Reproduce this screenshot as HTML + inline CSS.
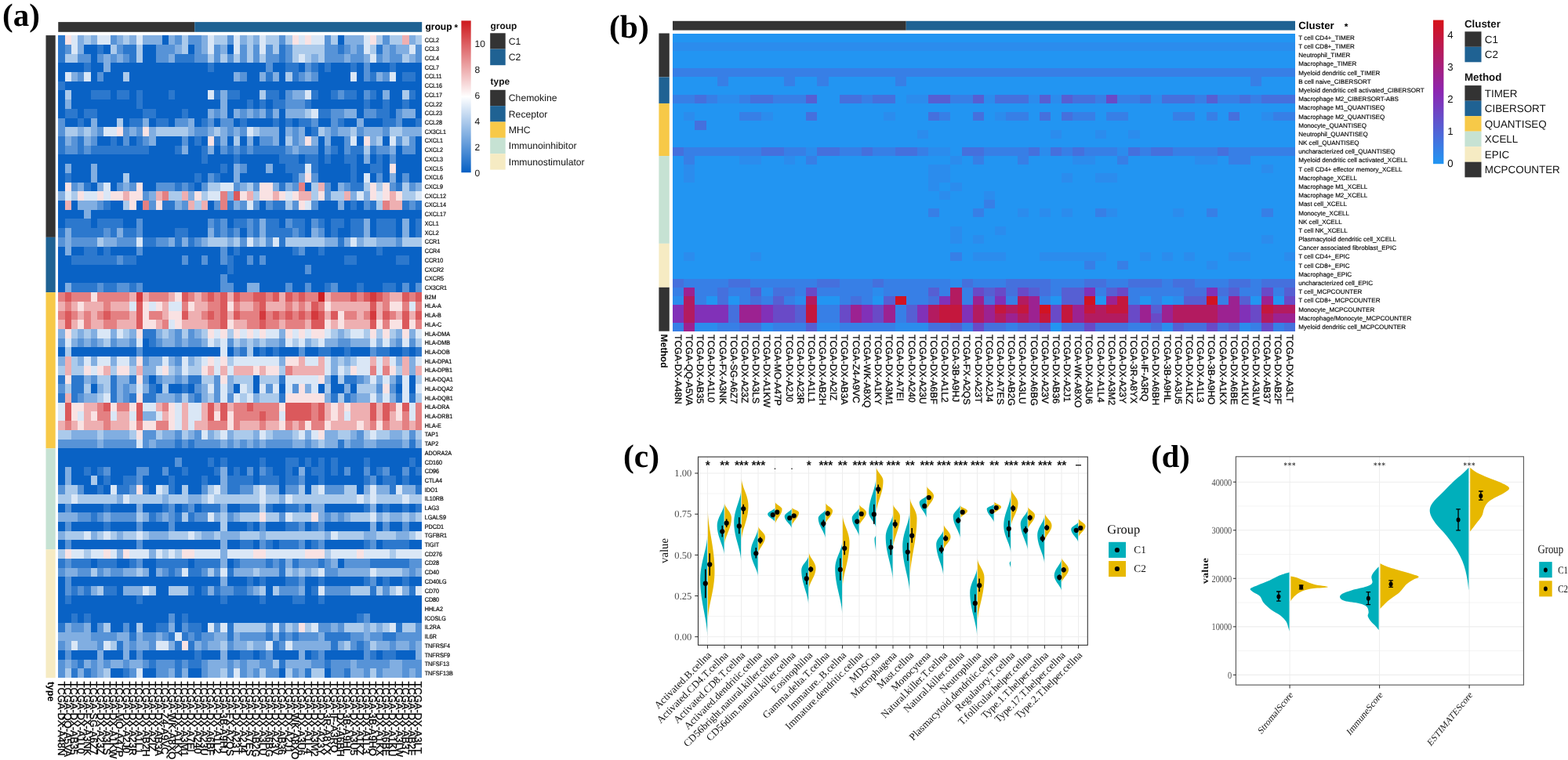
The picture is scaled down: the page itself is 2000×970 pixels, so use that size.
<!DOCTYPE html>
<html><head><meta charset="utf-8"><title>Immune infiltration heatmaps and violin plots</title>
<style>html,body{margin:0;padding:0;background:#fff;} svg{display:block;}</style></head>
<body><svg width="2000" height="970" viewBox="0 0 2000 970" text-rendering="geometricPrecision">
<rect width="2000" height="970" fill="#fff"/>
<text x="3" y="32.6" font-family="'Liberation Serif', 'Times New Roman', serif" font-weight="bold" font-size="41">(a)</text>
<rect x="74.25" y="28.1" width="173.98" height="12.7" fill="#333333"/>
<rect x="248.23" y="28.1" width="289.97" height="12.7" fill="#1f6293"/>
<rect x="58.5" y="45.1" width="12.2" height="257.75" fill="#333333"/>
<rect x="58.5" y="302.85" width="12.2" height="70.29" fill="#1f6293"/>
<rect x="58.5" y="373.14" width="12.2" height="199.17" fill="#f7c948"/>
<rect x="58.5" y="572.31" width="12.2" height="128.87" fill="#c6e2d3"/>
<rect x="58.5" y="701.18" width="12.2" height="164.02" fill="#f6ebc3"/>
<g shape-rendering="crispEdges">
<rect x="74.25" y="45.1" width="8.29" height="11.73" fill="#2c78cd"/>
<rect x="82.53" y="45.1" width="8.29" height="11.73" fill="#f9e2e3"/>
<rect x="90.82" y="45.1" width="8.29" height="11.73" fill="#dae7f6"/>
<rect x="99.1" y="45.1" width="8.29" height="11.73" fill="#81aee1"/>
<rect x="107.39" y="45.1" width="8.29" height="11.73" fill="#abcaeb"/>
<rect x="115.67" y="45.1" width="8.29" height="11.73" fill="#81aee1"/>
<rect x="123.96" y="45.1" width="16.58" height="11.73" fill="#dae7f6"/>
<rect x="140.53" y="45.1" width="8.29" height="11.73" fill="#5793d7"/>
<rect x="148.81" y="45.1" width="8.29" height="11.73" fill="#81aee1"/>
<rect x="157.1" y="45.1" width="8.29" height="11.73" fill="#abcaeb"/>
<rect x="165.38" y="45.1" width="8.29" height="11.73" fill="#81aee1"/>
<rect x="173.67" y="45.1" width="8.29" height="11.73" fill="#dae7f6"/>
<rect x="181.95" y="45.1" width="24.86" height="11.73" fill="#81aee1"/>
<rect x="206.81" y="45.1" width="8.29" height="11.73" fill="#0962c5"/>
<rect x="215.09" y="45.1" width="8.29" height="11.73" fill="#81aee1"/>
<rect x="223.38" y="45.1" width="8.29" height="11.73" fill="#5793d7"/>
<rect x="231.66" y="45.1" width="8.29" height="11.73" fill="#abcaeb"/>
<rect x="239.95" y="45.1" width="16.58" height="11.73" fill="#5793d7"/>
<rect x="256.52" y="45.1" width="8.29" height="11.73" fill="#81aee1"/>
<rect x="264.8" y="45.1" width="8.29" height="11.73" fill="#dae7f6"/>
<rect x="273.09" y="45.1" width="16.58" height="11.73" fill="#abcaeb"/>
<rect x="289.66" y="45.1" width="8.29" height="11.73" fill="#5793d7"/>
<rect x="297.94" y="45.1" width="8.29" height="11.73" fill="#dae7f6"/>
<rect x="306.23" y="45.1" width="8.29" height="11.73" fill="#81aee1"/>
<rect x="314.51" y="45.1" width="8.29" height="11.73" fill="#abcaeb"/>
<rect x="322.79" y="45.1" width="8.29" height="11.73" fill="#81aee1"/>
<rect x="331.08" y="45.1" width="8.29" height="11.73" fill="#dae7f6"/>
<rect x="339.36" y="45.1" width="16.58" height="11.73" fill="#abcaeb"/>
<rect x="355.93" y="45.1" width="8.29" height="11.73" fill="#5793d7"/>
<rect x="364.22" y="45.1" width="8.29" height="11.73" fill="#abcaeb"/>
<rect x="372.5" y="45.1" width="8.29" height="11.73" fill="#f9e2e3"/>
<rect x="380.79" y="45.1" width="8.29" height="11.73" fill="#dae7f6"/>
<rect x="389.07" y="45.1" width="8.29" height="11.73" fill="#f9e2e3"/>
<rect x="397.36" y="45.1" width="16.58" height="11.73" fill="#dae7f6"/>
<rect x="413.93" y="45.1" width="8.29" height="11.73" fill="#5793d7"/>
<rect x="422.21" y="45.1" width="8.29" height="11.73" fill="#abcaeb"/>
<rect x="430.5" y="45.1" width="8.29" height="11.73" fill="#0962c5"/>
<rect x="438.78" y="45.1" width="24.86" height="11.73" fill="#81aee1"/>
<rect x="463.64" y="45.1" width="8.29" height="11.73" fill="#dae7f6"/>
<rect x="471.92" y="45.1" width="8.29" height="11.73" fill="#f9e2e3"/>
<rect x="480.21" y="45.1" width="8.29" height="11.73" fill="#abcaeb"/>
<rect x="488.49" y="45.1" width="8.29" height="11.73" fill="#5793d7"/>
<rect x="496.78" y="45.1" width="16.58" height="11.73" fill="#abcaeb"/>
<rect x="513.35" y="45.1" width="8.29" height="11.73" fill="#eeafb1"/>
<rect x="521.63" y="45.1" width="8.29" height="11.73" fill="#81aee1"/>
<rect x="529.92" y="45.1" width="8.29" height="11.73" fill="#abcaeb"/>
<rect x="74.25" y="56.82" width="8.29" height="11.73" fill="#2c78cd"/>
<rect x="82.53" y="56.82" width="8.29" height="11.73" fill="#5793d7"/>
<rect x="90.82" y="56.82" width="8.29" height="11.73" fill="#dae7f6"/>
<rect x="99.1" y="56.82" width="8.29" height="11.73" fill="#81aee1"/>
<rect x="107.39" y="56.82" width="16.58" height="11.73" fill="#0962c5"/>
<rect x="123.96" y="56.82" width="8.29" height="11.73" fill="#2c78cd"/>
<rect x="132.24" y="56.82" width="8.29" height="11.73" fill="#0962c5"/>
<rect x="140.53" y="56.82" width="8.29" height="11.73" fill="#abcaeb"/>
<rect x="148.81" y="56.82" width="8.29" height="11.73" fill="#5793d7"/>
<rect x="157.1" y="56.82" width="16.58" height="11.73" fill="#2c78cd"/>
<rect x="173.67" y="56.82" width="8.29" height="11.73" fill="#abcaeb"/>
<rect x="181.95" y="56.82" width="16.58" height="11.73" fill="#0962c5"/>
<rect x="198.52" y="56.82" width="24.86" height="11.73" fill="#5793d7"/>
<rect x="223.38" y="56.82" width="8.29" height="11.73" fill="#81aee1"/>
<rect x="231.66" y="56.82" width="8.29" height="11.73" fill="#abcaeb"/>
<rect x="239.95" y="56.82" width="8.29" height="11.73" fill="#0962c5"/>
<rect x="248.23" y="56.82" width="8.29" height="11.73" fill="#5793d7"/>
<rect x="256.52" y="56.82" width="8.29" height="11.73" fill="#81aee1"/>
<rect x="264.8" y="56.82" width="8.29" height="11.73" fill="#dae7f6"/>
<rect x="273.09" y="56.82" width="8.29" height="11.73" fill="#5793d7"/>
<rect x="281.37" y="56.82" width="8.29" height="11.73" fill="#81aee1"/>
<rect x="289.66" y="56.82" width="8.29" height="11.73" fill="#0962c5"/>
<rect x="297.94" y="56.82" width="8.29" height="11.73" fill="#dae7f6"/>
<rect x="306.23" y="56.82" width="8.29" height="11.73" fill="#5793d7"/>
<rect x="314.51" y="56.82" width="8.29" height="11.73" fill="#abcaeb"/>
<rect x="322.79" y="56.82" width="8.29" height="11.73" fill="#5793d7"/>
<rect x="331.08" y="56.82" width="8.29" height="11.73" fill="#dae7f6"/>
<rect x="339.36" y="56.82" width="8.29" height="11.73" fill="#5793d7"/>
<rect x="347.65" y="56.82" width="8.29" height="11.73" fill="#abcaeb"/>
<rect x="355.93" y="56.82" width="8.29" height="11.73" fill="#2c78cd"/>
<rect x="364.22" y="56.82" width="8.29" height="11.73" fill="#5793d7"/>
<rect x="372.5" y="56.82" width="41.43" height="11.73" fill="#abcaeb"/>
<rect x="413.93" y="56.82" width="16.58" height="11.73" fill="#5793d7"/>
<rect x="430.5" y="56.82" width="8.29" height="11.73" fill="#2c78cd"/>
<rect x="438.78" y="56.82" width="8.29" height="11.73" fill="#5793d7"/>
<rect x="447.07" y="56.82" width="8.29" height="11.73" fill="#81aee1"/>
<rect x="455.35" y="56.82" width="8.29" height="11.73" fill="#5793d7"/>
<rect x="463.64" y="56.82" width="8.29" height="11.73" fill="#dae7f6"/>
<rect x="471.92" y="56.82" width="8.29" height="11.73" fill="#abcaeb"/>
<rect x="480.21" y="56.82" width="8.29" height="11.73" fill="#2c78cd"/>
<rect x="488.49" y="56.82" width="8.29" height="11.73" fill="#81aee1"/>
<rect x="496.78" y="56.82" width="8.29" height="11.73" fill="#5793d7"/>
<rect x="505.06" y="56.82" width="16.58" height="11.73" fill="#81aee1"/>
<rect x="521.63" y="56.82" width="8.29" height="11.73" fill="#dae7f6"/>
<rect x="529.92" y="56.82" width="8.29" height="11.73" fill="#5793d7"/>
<rect x="74.25" y="68.53" width="8.29" height="11.73" fill="#2c78cd"/>
<rect x="82.53" y="68.53" width="16.58" height="11.73" fill="#abcaeb"/>
<rect x="99.1" y="68.53" width="16.58" height="11.73" fill="#5793d7"/>
<rect x="115.67" y="68.53" width="8.29" height="11.73" fill="#0962c5"/>
<rect x="123.96" y="68.53" width="8.29" height="11.73" fill="#5793d7"/>
<rect x="132.24" y="68.53" width="8.29" height="11.73" fill="#81aee1"/>
<rect x="140.53" y="68.53" width="8.29" height="11.73" fill="#5793d7"/>
<rect x="148.81" y="68.53" width="8.29" height="11.73" fill="#81aee1"/>
<rect x="157.1" y="68.53" width="8.29" height="11.73" fill="#5793d7"/>
<rect x="165.38" y="68.53" width="8.29" height="11.73" fill="#2c78cd"/>
<rect x="173.67" y="68.53" width="8.29" height="11.73" fill="#abcaeb"/>
<rect x="181.95" y="68.53" width="16.58" height="11.73" fill="#0962c5"/>
<rect x="198.52" y="68.53" width="16.58" height="11.73" fill="#5793d7"/>
<rect x="215.09" y="68.53" width="8.29" height="11.73" fill="#81aee1"/>
<rect x="223.38" y="68.53" width="24.86" height="11.73" fill="#2c78cd"/>
<rect x="248.23" y="68.53" width="16.58" height="11.73" fill="#5793d7"/>
<rect x="264.8" y="68.53" width="8.29" height="11.73" fill="#abcaeb"/>
<rect x="273.09" y="68.53" width="8.29" height="11.73" fill="#5793d7"/>
<rect x="281.37" y="68.53" width="8.29" height="11.73" fill="#abcaeb"/>
<rect x="289.66" y="68.53" width="8.29" height="11.73" fill="#5793d7"/>
<rect x="297.94" y="68.53" width="8.29" height="11.73" fill="#abcaeb"/>
<rect x="306.23" y="68.53" width="8.29" height="11.73" fill="#5793d7"/>
<rect x="314.51" y="68.53" width="8.29" height="11.73" fill="#abcaeb"/>
<rect x="322.79" y="68.53" width="8.29" height="11.73" fill="#5793d7"/>
<rect x="331.08" y="68.53" width="8.29" height="11.73" fill="#abcaeb"/>
<rect x="339.36" y="68.53" width="16.58" height="11.73" fill="#5793d7"/>
<rect x="355.93" y="68.53" width="8.29" height="11.73" fill="#2c78cd"/>
<rect x="364.22" y="68.53" width="8.29" height="11.73" fill="#5793d7"/>
<rect x="372.5" y="68.53" width="8.29" height="11.73" fill="#abcaeb"/>
<rect x="380.79" y="68.53" width="8.29" height="11.73" fill="#dae7f6"/>
<rect x="389.07" y="68.53" width="8.29" height="11.73" fill="#abcaeb"/>
<rect x="397.36" y="68.53" width="8.29" height="11.73" fill="#81aee1"/>
<rect x="405.64" y="68.53" width="8.29" height="11.73" fill="#abcaeb"/>
<rect x="413.93" y="68.53" width="24.86" height="11.73" fill="#5793d7"/>
<rect x="438.78" y="68.53" width="8.29" height="11.73" fill="#81aee1"/>
<rect x="447.07" y="68.53" width="16.58" height="11.73" fill="#5793d7"/>
<rect x="463.64" y="68.53" width="8.29" height="11.73" fill="#81aee1"/>
<rect x="471.92" y="68.53" width="8.29" height="11.73" fill="#dae7f6"/>
<rect x="480.21" y="68.53" width="8.29" height="11.73" fill="#5793d7"/>
<rect x="488.49" y="68.53" width="8.29" height="11.73" fill="#81aee1"/>
<rect x="496.78" y="68.53" width="16.58" height="11.73" fill="#5793d7"/>
<rect x="513.35" y="68.53" width="8.29" height="11.73" fill="#abcaeb"/>
<rect x="521.63" y="68.53" width="8.29" height="11.73" fill="#81aee1"/>
<rect x="529.92" y="68.53" width="8.29" height="11.73" fill="#5793d7"/>
<rect x="74.25" y="80.25" width="33.15" height="11.73" fill="#0962c5"/>
<rect x="107.39" y="80.25" width="8.29" height="11.73" fill="#2c78cd"/>
<rect x="115.67" y="80.25" width="16.58" height="11.73" fill="#0962c5"/>
<rect x="132.24" y="80.25" width="8.29" height="11.73" fill="#81aee1"/>
<rect x="140.53" y="80.25" width="124.28" height="11.73" fill="#0962c5"/>
<rect x="264.8" y="80.25" width="8.29" height="11.73" fill="#2c78cd"/>
<rect x="273.09" y="80.25" width="66.29" height="11.73" fill="#0962c5"/>
<rect x="339.36" y="80.25" width="8.29" height="11.73" fill="#5793d7"/>
<rect x="347.65" y="80.25" width="16.58" height="11.73" fill="#0962c5"/>
<rect x="364.22" y="80.25" width="16.58" height="11.73" fill="#2c78cd"/>
<rect x="380.79" y="80.25" width="8.29" height="11.73" fill="#0962c5"/>
<rect x="389.07" y="80.25" width="8.29" height="11.73" fill="#5793d7"/>
<rect x="397.36" y="80.25" width="8.29" height="11.73" fill="#2c78cd"/>
<rect x="405.64" y="80.25" width="8.29" height="11.73" fill="#0962c5"/>
<rect x="413.93" y="80.25" width="8.29" height="11.73" fill="#2c78cd"/>
<rect x="422.21" y="80.25" width="24.86" height="11.73" fill="#0962c5"/>
<rect x="447.07" y="80.25" width="8.29" height="11.73" fill="#2c78cd"/>
<rect x="455.35" y="80.25" width="8.29" height="11.73" fill="#0962c5"/>
<rect x="463.64" y="80.25" width="8.29" height="11.73" fill="#5793d7"/>
<rect x="471.92" y="80.25" width="24.86" height="11.73" fill="#0962c5"/>
<rect x="496.78" y="80.25" width="8.29" height="11.73" fill="#2c78cd"/>
<rect x="505.06" y="80.25" width="33.15" height="11.73" fill="#0962c5"/>
<rect x="74.25" y="91.96" width="8.29" height="11.73" fill="#0962c5"/>
<rect x="82.53" y="91.96" width="8.29" height="11.73" fill="#dae7f6"/>
<rect x="90.82" y="91.96" width="8.29" height="11.73" fill="#81aee1"/>
<rect x="99.1" y="91.96" width="8.29" height="11.73" fill="#5793d7"/>
<rect x="107.39" y="91.96" width="8.29" height="11.73" fill="#dae7f6"/>
<rect x="115.67" y="91.96" width="8.29" height="11.73" fill="#0962c5"/>
<rect x="123.96" y="91.96" width="8.29" height="11.73" fill="#5793d7"/>
<rect x="132.24" y="91.96" width="24.86" height="11.73" fill="#0962c5"/>
<rect x="157.1" y="91.96" width="8.29" height="11.73" fill="#abcaeb"/>
<rect x="165.38" y="91.96" width="132.57" height="11.73" fill="#0962c5"/>
<rect x="297.94" y="91.96" width="8.29" height="11.73" fill="#81aee1"/>
<rect x="306.23" y="91.96" width="8.29" height="11.73" fill="#5793d7"/>
<rect x="314.51" y="91.96" width="16.58" height="11.73" fill="#0962c5"/>
<rect x="331.08" y="91.96" width="8.29" height="11.73" fill="#81aee1"/>
<rect x="339.36" y="91.96" width="8.29" height="11.73" fill="#2c78cd"/>
<rect x="347.65" y="91.96" width="8.29" height="11.73" fill="#81aee1"/>
<rect x="355.93" y="91.96" width="8.29" height="11.73" fill="#0962c5"/>
<rect x="364.22" y="91.96" width="8.29" height="11.73" fill="#abcaeb"/>
<rect x="372.5" y="91.96" width="8.29" height="11.73" fill="#2c78cd"/>
<rect x="380.79" y="91.96" width="8.29" height="11.73" fill="#5793d7"/>
<rect x="389.07" y="91.96" width="8.29" height="11.73" fill="#81aee1"/>
<rect x="397.36" y="91.96" width="8.29" height="11.73" fill="#5793d7"/>
<rect x="405.64" y="91.96" width="41.43" height="11.73" fill="#0962c5"/>
<rect x="447.07" y="91.96" width="8.29" height="11.73" fill="#dae7f6"/>
<rect x="455.35" y="91.96" width="8.29" height="11.73" fill="#0962c5"/>
<rect x="463.64" y="91.96" width="8.29" height="11.73" fill="#5793d7"/>
<rect x="471.92" y="91.96" width="8.29" height="11.73" fill="#2c78cd"/>
<rect x="480.21" y="91.96" width="8.29" height="11.73" fill="#81aee1"/>
<rect x="488.49" y="91.96" width="8.29" height="11.73" fill="#5793d7"/>
<rect x="496.78" y="91.96" width="8.29" height="11.73" fill="#dae7f6"/>
<rect x="505.06" y="91.96" width="8.29" height="11.73" fill="#0962c5"/>
<rect x="513.35" y="91.96" width="16.58" height="11.73" fill="#2c78cd"/>
<rect x="529.92" y="91.96" width="8.29" height="11.73" fill="#0962c5"/>
<rect x="74.25" y="103.68" width="8.29" height="11.73" fill="#2c78cd"/>
<rect x="82.53" y="103.68" width="455.68" height="11.73" fill="#0962c5"/>
<rect x="74.25" y="115.39" width="8.29" height="11.73" fill="#0962c5"/>
<rect x="82.53" y="115.39" width="8.29" height="11.73" fill="#abcaeb"/>
<rect x="90.82" y="115.39" width="24.86" height="11.73" fill="#0962c5"/>
<rect x="115.67" y="115.39" width="24.86" height="11.73" fill="#2c78cd"/>
<rect x="140.53" y="115.39" width="8.29" height="11.73" fill="#0962c5"/>
<rect x="148.81" y="115.39" width="16.58" height="11.73" fill="#2c78cd"/>
<rect x="165.38" y="115.39" width="8.29" height="11.73" fill="#0962c5"/>
<rect x="173.67" y="115.39" width="8.29" height="11.73" fill="#2c78cd"/>
<rect x="181.95" y="115.39" width="33.15" height="11.73" fill="#0962c5"/>
<rect x="215.09" y="115.39" width="8.29" height="11.73" fill="#2c78cd"/>
<rect x="223.38" y="115.39" width="41.43" height="11.73" fill="#0962c5"/>
<rect x="264.8" y="115.39" width="8.29" height="11.73" fill="#dae7f6"/>
<rect x="273.09" y="115.39" width="8.29" height="11.73" fill="#2c78cd"/>
<rect x="281.37" y="115.39" width="8.29" height="11.73" fill="#81aee1"/>
<rect x="289.66" y="115.39" width="16.58" height="11.73" fill="#2c78cd"/>
<rect x="306.23" y="115.39" width="24.86" height="11.73" fill="#0962c5"/>
<rect x="331.08" y="115.39" width="8.29" height="11.73" fill="#abcaeb"/>
<rect x="339.36" y="115.39" width="16.58" height="11.73" fill="#2c78cd"/>
<rect x="355.93" y="115.39" width="8.29" height="11.73" fill="#0962c5"/>
<rect x="364.22" y="115.39" width="8.29" height="11.73" fill="#5793d7"/>
<rect x="372.5" y="115.39" width="16.58" height="11.73" fill="#81aee1"/>
<rect x="389.07" y="115.39" width="8.29" height="11.73" fill="#dae7f6"/>
<rect x="397.36" y="115.39" width="8.29" height="11.73" fill="#2c78cd"/>
<rect x="405.64" y="115.39" width="16.58" height="11.73" fill="#0962c5"/>
<rect x="422.21" y="115.39" width="8.29" height="11.73" fill="#2c78cd"/>
<rect x="430.5" y="115.39" width="8.29" height="11.73" fill="#5793d7"/>
<rect x="438.78" y="115.39" width="16.58" height="11.73" fill="#2c78cd"/>
<rect x="455.35" y="115.39" width="8.29" height="11.73" fill="#0962c5"/>
<rect x="463.64" y="115.39" width="8.29" height="11.73" fill="#5793d7"/>
<rect x="471.92" y="115.39" width="8.29" height="11.73" fill="#2c78cd"/>
<rect x="480.21" y="115.39" width="8.29" height="11.73" fill="#0962c5"/>
<rect x="488.49" y="115.39" width="8.29" height="11.73" fill="#81aee1"/>
<rect x="496.78" y="115.39" width="16.58" height="11.73" fill="#0962c5"/>
<rect x="513.35" y="115.39" width="8.29" height="11.73" fill="#abcaeb"/>
<rect x="521.63" y="115.39" width="8.29" height="11.73" fill="#2c78cd"/>
<rect x="529.92" y="115.39" width="8.29" height="11.73" fill="#0962c5"/>
<rect x="74.25" y="127.11" width="8.29" height="11.73" fill="#0962c5"/>
<rect x="82.53" y="127.11" width="8.29" height="11.73" fill="#81aee1"/>
<rect x="90.82" y="127.11" width="82.86" height="11.73" fill="#0962c5"/>
<rect x="173.67" y="127.11" width="8.29" height="11.73" fill="#2c78cd"/>
<rect x="181.95" y="127.11" width="99.43" height="11.73" fill="#0962c5"/>
<rect x="281.37" y="127.11" width="8.29" height="11.73" fill="#81aee1"/>
<rect x="289.66" y="127.11" width="24.86" height="11.73" fill="#0962c5"/>
<rect x="314.51" y="127.11" width="8.29" height="11.73" fill="#2c78cd"/>
<rect x="322.79" y="127.11" width="8.29" height="11.73" fill="#0962c5"/>
<rect x="331.08" y="127.11" width="8.29" height="11.73" fill="#2c78cd"/>
<rect x="339.36" y="127.11" width="8.29" height="11.73" fill="#0962c5"/>
<rect x="347.65" y="127.11" width="16.58" height="11.73" fill="#2c78cd"/>
<rect x="364.22" y="127.11" width="24.86" height="11.73" fill="#5793d7"/>
<rect x="389.07" y="127.11" width="8.29" height="11.73" fill="#2c78cd"/>
<rect x="397.36" y="127.11" width="66.29" height="11.73" fill="#0962c5"/>
<rect x="463.64" y="127.11" width="8.29" height="11.73" fill="#2c78cd"/>
<rect x="471.92" y="127.11" width="16.58" height="11.73" fill="#0962c5"/>
<rect x="488.49" y="127.11" width="8.29" height="11.73" fill="#2c78cd"/>
<rect x="496.78" y="127.11" width="16.58" height="11.73" fill="#0962c5"/>
<rect x="513.35" y="127.11" width="8.29" height="11.73" fill="#2c78cd"/>
<rect x="521.63" y="127.11" width="16.58" height="11.73" fill="#0962c5"/>
<rect x="74.25" y="138.83" width="8.29" height="11.73" fill="#0962c5"/>
<rect x="82.53" y="138.83" width="16.58" height="11.73" fill="#2c78cd"/>
<rect x="99.1" y="138.83" width="8.29" height="11.73" fill="#0962c5"/>
<rect x="107.39" y="138.83" width="16.58" height="11.73" fill="#2c78cd"/>
<rect x="123.96" y="138.83" width="58" height="11.73" fill="#0962c5"/>
<rect x="181.95" y="138.83" width="16.58" height="11.73" fill="#2c78cd"/>
<rect x="198.52" y="138.83" width="33.15" height="11.73" fill="#0962c5"/>
<rect x="231.66" y="138.83" width="8.29" height="11.73" fill="#2c78cd"/>
<rect x="239.95" y="138.83" width="24.86" height="11.73" fill="#0962c5"/>
<rect x="264.8" y="138.83" width="8.29" height="11.73" fill="#81aee1"/>
<rect x="273.09" y="138.83" width="8.29" height="11.73" fill="#5793d7"/>
<rect x="281.37" y="138.83" width="8.29" height="11.73" fill="#81aee1"/>
<rect x="289.66" y="138.83" width="8.29" height="11.73" fill="#0962c5"/>
<rect x="297.94" y="138.83" width="8.29" height="11.73" fill="#81aee1"/>
<rect x="306.23" y="138.83" width="8.29" height="11.73" fill="#5793d7"/>
<rect x="314.51" y="138.83" width="8.29" height="11.73" fill="#81aee1"/>
<rect x="322.79" y="138.83" width="8.29" height="11.73" fill="#5793d7"/>
<rect x="331.08" y="138.83" width="8.29" height="11.73" fill="#81aee1"/>
<rect x="339.36" y="138.83" width="8.29" height="11.73" fill="#2c78cd"/>
<rect x="347.65" y="138.83" width="8.29" height="11.73" fill="#81aee1"/>
<rect x="355.93" y="138.83" width="8.29" height="11.73" fill="#0962c5"/>
<rect x="364.22" y="138.83" width="24.86" height="11.73" fill="#81aee1"/>
<rect x="389.07" y="138.83" width="8.29" height="11.73" fill="#abcaeb"/>
<rect x="397.36" y="138.83" width="8.29" height="11.73" fill="#dae7f6"/>
<rect x="405.64" y="138.83" width="16.58" height="11.73" fill="#2c78cd"/>
<rect x="422.21" y="138.83" width="16.58" height="11.73" fill="#5793d7"/>
<rect x="438.78" y="138.83" width="16.58" height="11.73" fill="#81aee1"/>
<rect x="455.35" y="138.83" width="8.29" height="11.73" fill="#0962c5"/>
<rect x="463.64" y="138.83" width="16.58" height="11.73" fill="#5793d7"/>
<rect x="480.21" y="138.83" width="16.58" height="11.73" fill="#2c78cd"/>
<rect x="496.78" y="138.83" width="8.29" height="11.73" fill="#0962c5"/>
<rect x="505.06" y="138.83" width="8.29" height="11.73" fill="#5793d7"/>
<rect x="513.35" y="138.83" width="16.58" height="11.73" fill="#81aee1"/>
<rect x="529.92" y="138.83" width="8.29" height="11.73" fill="#0962c5"/>
<rect x="74.25" y="150.54" width="8.29" height="11.73" fill="#5793d7"/>
<rect x="82.53" y="150.54" width="16.58" height="11.73" fill="#0962c5"/>
<rect x="99.1" y="150.54" width="8.29" height="11.73" fill="#2c78cd"/>
<rect x="107.39" y="150.54" width="8.29" height="11.73" fill="#0962c5"/>
<rect x="115.67" y="150.54" width="8.29" height="11.73" fill="#81aee1"/>
<rect x="123.96" y="150.54" width="24.86" height="11.73" fill="#0962c5"/>
<rect x="148.81" y="150.54" width="8.29" height="11.73" fill="#abcaeb"/>
<rect x="157.1" y="150.54" width="8.29" height="11.73" fill="#0962c5"/>
<rect x="165.38" y="150.54" width="16.58" height="11.73" fill="#2c78cd"/>
<rect x="181.95" y="150.54" width="8.29" height="11.73" fill="#81aee1"/>
<rect x="190.24" y="150.54" width="8.29" height="11.73" fill="#0962c5"/>
<rect x="198.52" y="150.54" width="16.58" height="11.73" fill="#2c78cd"/>
<rect x="215.09" y="150.54" width="8.29" height="11.73" fill="#0962c5"/>
<rect x="223.38" y="150.54" width="16.58" height="11.73" fill="#5793d7"/>
<rect x="239.95" y="150.54" width="8.29" height="11.73" fill="#81aee1"/>
<rect x="248.23" y="150.54" width="8.29" height="11.73" fill="#0962c5"/>
<rect x="256.52" y="150.54" width="8.29" height="11.73" fill="#2c78cd"/>
<rect x="264.8" y="150.54" width="8.29" height="11.73" fill="#5793d7"/>
<rect x="273.09" y="150.54" width="8.29" height="11.73" fill="#0962c5"/>
<rect x="281.37" y="150.54" width="16.58" height="11.73" fill="#5793d7"/>
<rect x="297.94" y="150.54" width="8.29" height="11.73" fill="#0962c5"/>
<rect x="306.23" y="150.54" width="8.29" height="11.73" fill="#2c78cd"/>
<rect x="314.51" y="150.54" width="33.15" height="11.73" fill="#0962c5"/>
<rect x="347.65" y="150.54" width="8.29" height="11.73" fill="#2c78cd"/>
<rect x="355.93" y="150.54" width="8.29" height="11.73" fill="#0962c5"/>
<rect x="364.22" y="150.54" width="8.29" height="11.73" fill="#2c78cd"/>
<rect x="372.5" y="150.54" width="8.29" height="11.73" fill="#0962c5"/>
<rect x="380.79" y="150.54" width="16.58" height="11.73" fill="#2c78cd"/>
<rect x="397.36" y="150.54" width="8.29" height="11.73" fill="#5793d7"/>
<rect x="405.64" y="150.54" width="16.58" height="11.73" fill="#0962c5"/>
<rect x="422.21" y="150.54" width="8.29" height="11.73" fill="#5793d7"/>
<rect x="430.5" y="150.54" width="8.29" height="11.73" fill="#2c78cd"/>
<rect x="438.78" y="150.54" width="16.58" height="11.73" fill="#0962c5"/>
<rect x="455.35" y="150.54" width="8.29" height="11.73" fill="#81aee1"/>
<rect x="463.64" y="150.54" width="24.86" height="11.73" fill="#0962c5"/>
<rect x="488.49" y="150.54" width="16.58" height="11.73" fill="#2c78cd"/>
<rect x="505.06" y="150.54" width="8.29" height="11.73" fill="#5793d7"/>
<rect x="513.35" y="150.54" width="16.58" height="11.73" fill="#0962c5"/>
<rect x="529.92" y="150.54" width="8.29" height="11.73" fill="#2c78cd"/>
<rect x="74.25" y="162.26" width="8.29" height="11.73" fill="#5793d7"/>
<rect x="82.53" y="162.26" width="16.58" height="11.73" fill="#abcaeb"/>
<rect x="99.1" y="162.26" width="8.29" height="11.73" fill="#81aee1"/>
<rect x="107.39" y="162.26" width="8.29" height="11.73" fill="#abcaeb"/>
<rect x="115.67" y="162.26" width="8.29" height="11.73" fill="#81aee1"/>
<rect x="123.96" y="162.26" width="8.29" height="11.73" fill="#5793d7"/>
<rect x="132.24" y="162.26" width="16.58" height="11.73" fill="#dae7f6"/>
<rect x="148.81" y="162.26" width="8.29" height="11.73" fill="#f9e2e3"/>
<rect x="157.1" y="162.26" width="8.29" height="11.73" fill="#5793d7"/>
<rect x="165.38" y="162.26" width="8.29" height="11.73" fill="#81aee1"/>
<rect x="173.67" y="162.26" width="8.29" height="11.73" fill="#5793d7"/>
<rect x="181.95" y="162.26" width="8.29" height="11.73" fill="#f9e2e3"/>
<rect x="190.24" y="162.26" width="8.29" height="11.73" fill="#81aee1"/>
<rect x="198.52" y="162.26" width="41.43" height="11.73" fill="#abcaeb"/>
<rect x="239.95" y="162.26" width="8.29" height="11.73" fill="#81aee1"/>
<rect x="248.23" y="162.26" width="16.58" height="11.73" fill="#5793d7"/>
<rect x="264.8" y="162.26" width="8.29" height="11.73" fill="#81aee1"/>
<rect x="273.09" y="162.26" width="8.29" height="11.73" fill="#abcaeb"/>
<rect x="281.37" y="162.26" width="8.29" height="11.73" fill="#81aee1"/>
<rect x="289.66" y="162.26" width="8.29" height="11.73" fill="#5793d7"/>
<rect x="297.94" y="162.26" width="8.29" height="11.73" fill="#81aee1"/>
<rect x="306.23" y="162.26" width="8.29" height="11.73" fill="#5793d7"/>
<rect x="314.51" y="162.26" width="8.29" height="11.73" fill="#dae7f6"/>
<rect x="322.79" y="162.26" width="8.29" height="11.73" fill="#abcaeb"/>
<rect x="331.08" y="162.26" width="24.86" height="11.73" fill="#81aee1"/>
<rect x="355.93" y="162.26" width="8.29" height="11.73" fill="#0962c5"/>
<rect x="364.22" y="162.26" width="8.29" height="11.73" fill="#81aee1"/>
<rect x="372.5" y="162.26" width="8.29" height="11.73" fill="#5793d7"/>
<rect x="380.79" y="162.26" width="8.29" height="11.73" fill="#81aee1"/>
<rect x="389.07" y="162.26" width="8.29" height="11.73" fill="#0962c5"/>
<rect x="397.36" y="162.26" width="8.29" height="11.73" fill="#2c78cd"/>
<rect x="405.64" y="162.26" width="8.29" height="11.73" fill="#abcaeb"/>
<rect x="413.93" y="162.26" width="8.29" height="11.73" fill="#81aee1"/>
<rect x="422.21" y="162.26" width="8.29" height="11.73" fill="#5793d7"/>
<rect x="430.5" y="162.26" width="16.58" height="11.73" fill="#81aee1"/>
<rect x="447.07" y="162.26" width="8.29" height="11.73" fill="#abcaeb"/>
<rect x="455.35" y="162.26" width="8.29" height="11.73" fill="#5793d7"/>
<rect x="463.64" y="162.26" width="24.86" height="11.73" fill="#81aee1"/>
<rect x="488.49" y="162.26" width="8.29" height="11.73" fill="#5793d7"/>
<rect x="496.78" y="162.26" width="16.58" height="11.73" fill="#abcaeb"/>
<rect x="513.35" y="162.26" width="24.86" height="11.73" fill="#81aee1"/>
<rect x="74.25" y="173.97" width="8.29" height="11.73" fill="#2c78cd"/>
<rect x="82.53" y="173.97" width="8.29" height="11.73" fill="#81aee1"/>
<rect x="90.82" y="173.97" width="8.29" height="11.73" fill="#5793d7"/>
<rect x="99.1" y="173.97" width="8.29" height="11.73" fill="#2c78cd"/>
<rect x="107.39" y="173.97" width="8.29" height="11.73" fill="#81aee1"/>
<rect x="115.67" y="173.97" width="8.29" height="11.73" fill="#5793d7"/>
<rect x="123.96" y="173.97" width="16.58" height="11.73" fill="#0962c5"/>
<rect x="140.53" y="173.97" width="8.29" height="11.73" fill="#2c78cd"/>
<rect x="148.81" y="173.97" width="8.29" height="11.73" fill="#0962c5"/>
<rect x="157.1" y="173.97" width="8.29" height="11.73" fill="#5793d7"/>
<rect x="165.38" y="173.97" width="8.29" height="11.73" fill="#0962c5"/>
<rect x="173.67" y="173.97" width="8.29" height="11.73" fill="#2c78cd"/>
<rect x="181.95" y="173.97" width="8.29" height="11.73" fill="#5793d7"/>
<rect x="190.24" y="173.97" width="8.29" height="11.73" fill="#81aee1"/>
<rect x="198.52" y="173.97" width="33.15" height="11.73" fill="#0962c5"/>
<rect x="231.66" y="173.97" width="8.29" height="11.73" fill="#5793d7"/>
<rect x="239.95" y="173.97" width="8.29" height="11.73" fill="#0962c5"/>
<rect x="248.23" y="173.97" width="8.29" height="11.73" fill="#2c78cd"/>
<rect x="256.52" y="173.97" width="8.29" height="11.73" fill="#0962c5"/>
<rect x="264.8" y="173.97" width="8.29" height="11.73" fill="#f9e2e3"/>
<rect x="273.09" y="173.97" width="8.29" height="11.73" fill="#2c78cd"/>
<rect x="281.37" y="173.97" width="8.29" height="11.73" fill="#81aee1"/>
<rect x="289.66" y="173.97" width="8.29" height="11.73" fill="#0962c5"/>
<rect x="297.94" y="173.97" width="8.29" height="11.73" fill="#abcaeb"/>
<rect x="306.23" y="173.97" width="8.29" height="11.73" fill="#0962c5"/>
<rect x="314.51" y="173.97" width="8.29" height="11.73" fill="#81aee1"/>
<rect x="322.79" y="173.97" width="8.29" height="11.73" fill="#0962c5"/>
<rect x="331.08" y="173.97" width="16.58" height="11.73" fill="#5793d7"/>
<rect x="347.65" y="173.97" width="8.29" height="11.73" fill="#81aee1"/>
<rect x="355.93" y="173.97" width="8.29" height="11.73" fill="#0962c5"/>
<rect x="364.22" y="173.97" width="8.29" height="11.73" fill="#abcaeb"/>
<rect x="372.5" y="173.97" width="8.29" height="11.73" fill="#5793d7"/>
<rect x="380.79" y="173.97" width="8.29" height="11.73" fill="#81aee1"/>
<rect x="389.07" y="173.97" width="8.29" height="11.73" fill="#f9e2e3"/>
<rect x="397.36" y="173.97" width="8.29" height="11.73" fill="#81aee1"/>
<rect x="405.64" y="173.97" width="8.29" height="11.73" fill="#0962c5"/>
<rect x="413.93" y="173.97" width="8.29" height="11.73" fill="#81aee1"/>
<rect x="422.21" y="173.97" width="16.58" height="11.73" fill="#0962c5"/>
<rect x="438.78" y="173.97" width="8.29" height="11.73" fill="#5793d7"/>
<rect x="447.07" y="173.97" width="8.29" height="11.73" fill="#dae7f6"/>
<rect x="455.35" y="173.97" width="8.29" height="11.73" fill="#0962c5"/>
<rect x="463.64" y="173.97" width="8.29" height="11.73" fill="#f9e2e3"/>
<rect x="471.92" y="173.97" width="8.29" height="11.73" fill="#81aee1"/>
<rect x="480.21" y="173.97" width="8.29" height="11.73" fill="#abcaeb"/>
<rect x="488.49" y="173.97" width="8.29" height="11.73" fill="#0962c5"/>
<rect x="496.78" y="173.97" width="8.29" height="11.73" fill="#dae7f6"/>
<rect x="505.06" y="173.97" width="8.29" height="11.73" fill="#5793d7"/>
<rect x="513.35" y="173.97" width="8.29" height="11.73" fill="#abcaeb"/>
<rect x="521.63" y="173.97" width="8.29" height="11.73" fill="#5793d7"/>
<rect x="529.92" y="173.97" width="8.29" height="11.73" fill="#0962c5"/>
<rect x="74.25" y="185.69" width="8.29" height="11.73" fill="#2c78cd"/>
<rect x="82.53" y="185.69" width="16.58" height="11.73" fill="#5793d7"/>
<rect x="99.1" y="185.69" width="8.29" height="11.73" fill="#2c78cd"/>
<rect x="107.39" y="185.69" width="8.29" height="11.73" fill="#5793d7"/>
<rect x="115.67" y="185.69" width="74.57" height="11.73" fill="#2c78cd"/>
<rect x="190.24" y="185.69" width="33.15" height="11.73" fill="#0962c5"/>
<rect x="223.38" y="185.69" width="8.29" height="11.73" fill="#2c78cd"/>
<rect x="231.66" y="185.69" width="8.29" height="11.73" fill="#81aee1"/>
<rect x="239.95" y="185.69" width="16.58" height="11.73" fill="#0962c5"/>
<rect x="256.52" y="185.69" width="8.29" height="11.73" fill="#2c78cd"/>
<rect x="264.8" y="185.69" width="8.29" height="11.73" fill="#81aee1"/>
<rect x="273.09" y="185.69" width="8.29" height="11.73" fill="#0962c5"/>
<rect x="281.37" y="185.69" width="8.29" height="11.73" fill="#5793d7"/>
<rect x="289.66" y="185.69" width="8.29" height="11.73" fill="#2c78cd"/>
<rect x="297.94" y="185.69" width="8.29" height="11.73" fill="#5793d7"/>
<rect x="306.23" y="185.69" width="8.29" height="11.73" fill="#2c78cd"/>
<rect x="314.51" y="185.69" width="8.29" height="11.73" fill="#5793d7"/>
<rect x="322.79" y="185.69" width="41.43" height="11.73" fill="#2c78cd"/>
<rect x="364.22" y="185.69" width="8.29" height="11.73" fill="#5793d7"/>
<rect x="372.5" y="185.69" width="8.29" height="11.73" fill="#81aee1"/>
<rect x="380.79" y="185.69" width="24.86" height="11.73" fill="#5793d7"/>
<rect x="405.64" y="185.69" width="8.29" height="11.73" fill="#0962c5"/>
<rect x="413.93" y="185.69" width="8.29" height="11.73" fill="#5793d7"/>
<rect x="422.21" y="185.69" width="8.29" height="11.73" fill="#2c78cd"/>
<rect x="430.5" y="185.69" width="8.29" height="11.73" fill="#0962c5"/>
<rect x="438.78" y="185.69" width="8.29" height="11.73" fill="#5793d7"/>
<rect x="447.07" y="185.69" width="16.58" height="11.73" fill="#2c78cd"/>
<rect x="463.64" y="185.69" width="8.29" height="11.73" fill="#abcaeb"/>
<rect x="471.92" y="185.69" width="8.29" height="11.73" fill="#2c78cd"/>
<rect x="480.21" y="185.69" width="16.58" height="11.73" fill="#5793d7"/>
<rect x="496.78" y="185.69" width="8.29" height="11.73" fill="#81aee1"/>
<rect x="505.06" y="185.69" width="8.29" height="11.73" fill="#0962c5"/>
<rect x="513.35" y="185.69" width="16.58" height="11.73" fill="#5793d7"/>
<rect x="529.92" y="185.69" width="8.29" height="11.73" fill="#0962c5"/>
<rect x="74.25" y="197.4" width="182.28" height="11.73" fill="#0962c5"/>
<rect x="256.52" y="197.4" width="8.29" height="11.73" fill="#2c78cd"/>
<rect x="264.8" y="197.4" width="33.15" height="11.73" fill="#0962c5"/>
<rect x="297.94" y="197.4" width="8.29" height="11.73" fill="#2c78cd"/>
<rect x="306.23" y="197.4" width="49.72" height="11.73" fill="#0962c5"/>
<rect x="355.93" y="197.4" width="24.86" height="11.73" fill="#2c78cd"/>
<rect x="380.79" y="197.4" width="8.29" height="11.73" fill="#0962c5"/>
<rect x="389.07" y="197.4" width="16.58" height="11.73" fill="#2c78cd"/>
<rect x="405.64" y="197.4" width="8.29" height="11.73" fill="#0962c5"/>
<rect x="413.93" y="197.4" width="8.29" height="11.73" fill="#2c78cd"/>
<rect x="422.21" y="197.4" width="16.58" height="11.73" fill="#0962c5"/>
<rect x="438.78" y="197.4" width="16.58" height="11.73" fill="#2c78cd"/>
<rect x="455.35" y="197.4" width="8.29" height="11.73" fill="#0962c5"/>
<rect x="463.64" y="197.4" width="8.29" height="11.73" fill="#81aee1"/>
<rect x="471.92" y="197.4" width="8.29" height="11.73" fill="#0962c5"/>
<rect x="480.21" y="197.4" width="8.29" height="11.73" fill="#2c78cd"/>
<rect x="488.49" y="197.4" width="8.29" height="11.73" fill="#0962c5"/>
<rect x="496.78" y="197.4" width="8.29" height="11.73" fill="#5793d7"/>
<rect x="505.06" y="197.4" width="33.15" height="11.73" fill="#0962c5"/>
<rect x="74.25" y="209.12" width="8.29" height="11.73" fill="#0962c5"/>
<rect x="82.53" y="209.12" width="8.29" height="11.73" fill="#81aee1"/>
<rect x="90.82" y="209.12" width="24.86" height="11.73" fill="#0962c5"/>
<rect x="115.67" y="209.12" width="8.29" height="11.73" fill="#81aee1"/>
<rect x="123.96" y="209.12" width="157.42" height="11.73" fill="#0962c5"/>
<rect x="281.37" y="209.12" width="8.29" height="11.73" fill="#2c78cd"/>
<rect x="289.66" y="209.12" width="8.29" height="11.73" fill="#0962c5"/>
<rect x="297.94" y="209.12" width="8.29" height="11.73" fill="#81aee1"/>
<rect x="306.23" y="209.12" width="8.29" height="11.73" fill="#5793d7"/>
<rect x="314.51" y="209.12" width="24.86" height="11.73" fill="#0962c5"/>
<rect x="339.36" y="209.12" width="8.29" height="11.73" fill="#81aee1"/>
<rect x="347.65" y="209.12" width="16.58" height="11.73" fill="#0962c5"/>
<rect x="364.22" y="209.12" width="24.86" height="11.73" fill="#2c78cd"/>
<rect x="389.07" y="209.12" width="8.29" height="11.73" fill="#dae7f6"/>
<rect x="397.36" y="209.12" width="8.29" height="11.73" fill="#2c78cd"/>
<rect x="405.64" y="209.12" width="41.43" height="11.73" fill="#0962c5"/>
<rect x="447.07" y="209.12" width="8.29" height="11.73" fill="#2c78cd"/>
<rect x="455.35" y="209.12" width="16.58" height="11.73" fill="#0962c5"/>
<rect x="471.92" y="209.12" width="16.58" height="11.73" fill="#2c78cd"/>
<rect x="488.49" y="209.12" width="8.29" height="11.73" fill="#0962c5"/>
<rect x="496.78" y="209.12" width="8.29" height="11.73" fill="#f9e2e3"/>
<rect x="505.06" y="209.12" width="33.15" height="11.73" fill="#0962c5"/>
<rect x="74.25" y="220.84" width="8.29" height="11.73" fill="#0962c5"/>
<rect x="82.53" y="220.84" width="8.29" height="11.73" fill="#2c78cd"/>
<rect x="90.82" y="220.84" width="24.86" height="11.73" fill="#0962c5"/>
<rect x="115.67" y="220.84" width="8.29" height="11.73" fill="#81aee1"/>
<rect x="123.96" y="220.84" width="33.15" height="11.73" fill="#0962c5"/>
<rect x="157.1" y="220.84" width="8.29" height="11.73" fill="#abcaeb"/>
<rect x="165.38" y="220.84" width="82.86" height="11.73" fill="#0962c5"/>
<rect x="248.23" y="220.84" width="8.29" height="11.73" fill="#2c78cd"/>
<rect x="256.52" y="220.84" width="8.29" height="11.73" fill="#0962c5"/>
<rect x="264.8" y="220.84" width="8.29" height="11.73" fill="#5793d7"/>
<rect x="273.09" y="220.84" width="8.29" height="11.73" fill="#2c78cd"/>
<rect x="281.37" y="220.84" width="16.58" height="11.73" fill="#0962c5"/>
<rect x="297.94" y="220.84" width="8.29" height="11.73" fill="#81aee1"/>
<rect x="306.23" y="220.84" width="66.29" height="11.73" fill="#0962c5"/>
<rect x="372.5" y="220.84" width="8.29" height="11.73" fill="#2c78cd"/>
<rect x="380.79" y="220.84" width="8.29" height="11.73" fill="#81aee1"/>
<rect x="389.07" y="220.84" width="8.29" height="11.73" fill="#f9e2e3"/>
<rect x="397.36" y="220.84" width="8.29" height="11.73" fill="#5793d7"/>
<rect x="405.64" y="220.84" width="41.43" height="11.73" fill="#0962c5"/>
<rect x="447.07" y="220.84" width="8.29" height="11.73" fill="#2c78cd"/>
<rect x="455.35" y="220.84" width="8.29" height="11.73" fill="#0962c5"/>
<rect x="463.64" y="220.84" width="8.29" height="11.73" fill="#dae7f6"/>
<rect x="471.92" y="220.84" width="8.29" height="11.73" fill="#0962c5"/>
<rect x="480.21" y="220.84" width="8.29" height="11.73" fill="#5793d7"/>
<rect x="488.49" y="220.84" width="8.29" height="11.73" fill="#0962c5"/>
<rect x="496.78" y="220.84" width="8.29" height="11.73" fill="#81aee1"/>
<rect x="505.06" y="220.84" width="8.29" height="11.73" fill="#0962c5"/>
<rect x="513.35" y="220.84" width="8.29" height="11.73" fill="#5793d7"/>
<rect x="521.63" y="220.84" width="16.58" height="11.73" fill="#0962c5"/>
<rect x="74.25" y="232.55" width="8.29" height="11.73" fill="#0962c5"/>
<rect x="82.53" y="232.55" width="8.29" height="11.73" fill="#f9e2e3"/>
<rect x="90.82" y="232.55" width="8.29" height="11.73" fill="#5793d7"/>
<rect x="99.1" y="232.55" width="8.29" height="11.73" fill="#81aee1"/>
<rect x="107.39" y="232.55" width="8.29" height="11.73" fill="#2c78cd"/>
<rect x="115.67" y="232.55" width="8.29" height="11.73" fill="#0962c5"/>
<rect x="123.96" y="232.55" width="8.29" height="11.73" fill="#81aee1"/>
<rect x="132.24" y="232.55" width="8.29" height="11.73" fill="#dae7f6"/>
<rect x="140.53" y="232.55" width="8.29" height="11.73" fill="#0962c5"/>
<rect x="148.81" y="232.55" width="8.29" height="11.73" fill="#5793d7"/>
<rect x="157.1" y="232.55" width="8.29" height="11.73" fill="#81aee1"/>
<rect x="165.38" y="232.55" width="8.29" height="11.73" fill="#5793d7"/>
<rect x="173.67" y="232.55" width="8.29" height="11.73" fill="#f9e2e3"/>
<rect x="181.95" y="232.55" width="16.58" height="11.73" fill="#0962c5"/>
<rect x="198.52" y="232.55" width="24.86" height="11.73" fill="#5793d7"/>
<rect x="223.38" y="232.55" width="8.29" height="11.73" fill="#2c78cd"/>
<rect x="231.66" y="232.55" width="8.29" height="11.73" fill="#5793d7"/>
<rect x="239.95" y="232.55" width="8.29" height="11.73" fill="#2c78cd"/>
<rect x="248.23" y="232.55" width="8.29" height="11.73" fill="#0962c5"/>
<rect x="256.52" y="232.55" width="8.29" height="11.73" fill="#5793d7"/>
<rect x="264.8" y="232.55" width="16.58" height="11.73" fill="#abcaeb"/>
<rect x="281.37" y="232.55" width="16.58" height="11.73" fill="#dae7f6"/>
<rect x="297.94" y="232.55" width="8.29" height="11.73" fill="#5793d7"/>
<rect x="306.23" y="232.55" width="8.29" height="11.73" fill="#81aee1"/>
<rect x="314.51" y="232.55" width="8.29" height="11.73" fill="#abcaeb"/>
<rect x="322.79" y="232.55" width="8.29" height="11.73" fill="#5793d7"/>
<rect x="331.08" y="232.55" width="16.58" height="11.73" fill="#f9e2e3"/>
<rect x="347.65" y="232.55" width="8.29" height="11.73" fill="#81aee1"/>
<rect x="355.93" y="232.55" width="8.29" height="11.73" fill="#2c78cd"/>
<rect x="364.22" y="232.55" width="8.29" height="11.73" fill="#81aee1"/>
<rect x="372.5" y="232.55" width="8.29" height="11.73" fill="#5793d7"/>
<rect x="380.79" y="232.55" width="8.29" height="11.73" fill="#e48082"/>
<rect x="389.07" y="232.55" width="8.29" height="11.73" fill="#0962c5"/>
<rect x="397.36" y="232.55" width="8.29" height="11.73" fill="#abcaeb"/>
<rect x="405.64" y="232.55" width="8.29" height="11.73" fill="#eeafb1"/>
<rect x="413.93" y="232.55" width="8.29" height="11.73" fill="#5793d7"/>
<rect x="422.21" y="232.55" width="8.29" height="11.73" fill="#0962c5"/>
<rect x="430.5" y="232.55" width="8.29" height="11.73" fill="#81aee1"/>
<rect x="438.78" y="232.55" width="8.29" height="11.73" fill="#5793d7"/>
<rect x="447.07" y="232.55" width="16.58" height="11.73" fill="#2c78cd"/>
<rect x="463.64" y="232.55" width="8.29" height="11.73" fill="#abcaeb"/>
<rect x="471.92" y="232.55" width="8.29" height="11.73" fill="#f9e2e3"/>
<rect x="480.21" y="232.55" width="8.29" height="11.73" fill="#abcaeb"/>
<rect x="488.49" y="232.55" width="8.29" height="11.73" fill="#f9e2e3"/>
<rect x="496.78" y="232.55" width="8.29" height="11.73" fill="#5793d7"/>
<rect x="505.06" y="232.55" width="8.29" height="11.73" fill="#2c78cd"/>
<rect x="513.35" y="232.55" width="8.29" height="11.73" fill="#abcaeb"/>
<rect x="521.63" y="232.55" width="8.29" height="11.73" fill="#5793d7"/>
<rect x="529.92" y="232.55" width="8.29" height="11.73" fill="#81aee1"/>
<rect x="74.25" y="244.27" width="8.29" height="11.73" fill="#81aee1"/>
<rect x="82.53" y="244.27" width="8.29" height="11.73" fill="#dae7f6"/>
<rect x="90.82" y="244.27" width="8.29" height="11.73" fill="#abcaeb"/>
<rect x="99.1" y="244.27" width="8.29" height="11.73" fill="#f9e2e3"/>
<rect x="107.39" y="244.27" width="16.58" height="11.73" fill="#dae7f6"/>
<rect x="123.96" y="244.27" width="8.29" height="11.73" fill="#f9e2e3"/>
<rect x="132.24" y="244.27" width="8.29" height="11.73" fill="#dae7f6"/>
<rect x="140.53" y="244.27" width="16.58" height="11.73" fill="#f9e2e3"/>
<rect x="157.1" y="244.27" width="8.29" height="11.73" fill="#eeafb1"/>
<rect x="165.38" y="244.27" width="16.58" height="11.73" fill="#f9e2e3"/>
<rect x="181.95" y="244.27" width="8.29" height="11.73" fill="#5793d7"/>
<rect x="190.24" y="244.27" width="8.29" height="11.73" fill="#81aee1"/>
<rect x="198.52" y="244.27" width="8.29" height="11.73" fill="#eeafb1"/>
<rect x="206.81" y="244.27" width="8.29" height="11.73" fill="#e48082"/>
<rect x="215.09" y="244.27" width="16.58" height="11.73" fill="#abcaeb"/>
<rect x="231.66" y="244.27" width="8.29" height="11.73" fill="#eeafb1"/>
<rect x="239.95" y="244.27" width="8.29" height="11.73" fill="#81aee1"/>
<rect x="248.23" y="244.27" width="8.29" height="11.73" fill="#f9e2e3"/>
<rect x="256.52" y="244.27" width="8.29" height="11.73" fill="#abcaeb"/>
<rect x="264.8" y="244.27" width="16.58" height="11.73" fill="#dae7f6"/>
<rect x="281.37" y="244.27" width="8.29" height="11.73" fill="#e48082"/>
<rect x="289.66" y="244.27" width="8.29" height="11.73" fill="#81aee1"/>
<rect x="297.94" y="244.27" width="8.29" height="11.73" fill="#db595c"/>
<rect x="306.23" y="244.27" width="8.29" height="11.73" fill="#f9e2e3"/>
<rect x="314.51" y="244.27" width="8.29" height="11.73" fill="#eeafb1"/>
<rect x="322.79" y="244.27" width="8.29" height="11.73" fill="#abcaeb"/>
<rect x="331.08" y="244.27" width="16.58" height="11.73" fill="#f9e2e3"/>
<rect x="347.65" y="244.27" width="8.29" height="11.73" fill="#eeafb1"/>
<rect x="355.93" y="244.27" width="8.29" height="11.73" fill="#f9e2e3"/>
<rect x="364.22" y="244.27" width="8.29" height="11.73" fill="#dae7f6"/>
<rect x="372.5" y="244.27" width="8.29" height="11.73" fill="#f9e2e3"/>
<rect x="380.79" y="244.27" width="16.58" height="11.73" fill="#eeafb1"/>
<rect x="397.36" y="244.27" width="8.29" height="11.73" fill="#abcaeb"/>
<rect x="405.64" y="244.27" width="8.29" height="11.73" fill="#f9e2e3"/>
<rect x="413.93" y="244.27" width="8.29" height="11.73" fill="#5793d7"/>
<rect x="422.21" y="244.27" width="16.58" height="11.73" fill="#abcaeb"/>
<rect x="438.78" y="244.27" width="8.29" height="11.73" fill="#eeafb1"/>
<rect x="447.07" y="244.27" width="8.29" height="11.73" fill="#81aee1"/>
<rect x="455.35" y="244.27" width="8.29" height="11.73" fill="#dae7f6"/>
<rect x="463.64" y="244.27" width="8.29" height="11.73" fill="#81aee1"/>
<rect x="471.92" y="244.27" width="8.29" height="11.73" fill="#f9e2e3"/>
<rect x="480.21" y="244.27" width="8.29" height="11.73" fill="#dae7f6"/>
<rect x="488.49" y="244.27" width="8.29" height="11.73" fill="#f9e2e3"/>
<rect x="496.78" y="244.27" width="8.29" height="11.73" fill="#eeafb1"/>
<rect x="505.06" y="244.27" width="8.29" height="11.73" fill="#f9e2e3"/>
<rect x="513.35" y="244.27" width="16.58" height="11.73" fill="#abcaeb"/>
<rect x="529.92" y="244.27" width="8.29" height="11.73" fill="#dae7f6"/>
<rect x="74.25" y="255.98" width="8.29" height="11.73" fill="#0962c5"/>
<rect x="82.53" y="255.98" width="8.29" height="11.73" fill="#eeafb1"/>
<rect x="90.82" y="255.98" width="8.29" height="11.73" fill="#0962c5"/>
<rect x="99.1" y="255.98" width="24.86" height="11.73" fill="#81aee1"/>
<rect x="123.96" y="255.98" width="8.29" height="11.73" fill="#5793d7"/>
<rect x="132.24" y="255.98" width="8.29" height="11.73" fill="#2c78cd"/>
<rect x="140.53" y="255.98" width="16.58" height="11.73" fill="#0962c5"/>
<rect x="157.1" y="255.98" width="8.29" height="11.73" fill="#abcaeb"/>
<rect x="165.38" y="255.98" width="8.29" height="11.73" fill="#f9e2e3"/>
<rect x="173.67" y="255.98" width="8.29" height="11.73" fill="#0962c5"/>
<rect x="181.95" y="255.98" width="8.29" height="11.73" fill="#e48082"/>
<rect x="190.24" y="255.98" width="8.29" height="11.73" fill="#5793d7"/>
<rect x="198.52" y="255.98" width="8.29" height="11.73" fill="#f9e2e3"/>
<rect x="206.81" y="255.98" width="16.58" height="11.73" fill="#2c78cd"/>
<rect x="223.38" y="255.98" width="8.29" height="11.73" fill="#81aee1"/>
<rect x="231.66" y="255.98" width="8.29" height="11.73" fill="#5793d7"/>
<rect x="239.95" y="255.98" width="8.29" height="11.73" fill="#eeafb1"/>
<rect x="248.23" y="255.98" width="8.29" height="11.73" fill="#abcaeb"/>
<rect x="256.52" y="255.98" width="8.29" height="11.73" fill="#eeafb1"/>
<rect x="264.8" y="255.98" width="8.29" height="11.73" fill="#0962c5"/>
<rect x="273.09" y="255.98" width="8.29" height="11.73" fill="#5793d7"/>
<rect x="281.37" y="255.98" width="8.29" height="11.73" fill="#e48082"/>
<rect x="289.66" y="255.98" width="8.29" height="11.73" fill="#2c78cd"/>
<rect x="297.94" y="255.98" width="8.29" height="11.73" fill="#81aee1"/>
<rect x="306.23" y="255.98" width="8.29" height="11.73" fill="#5793d7"/>
<rect x="314.51" y="255.98" width="8.29" height="11.73" fill="#dae7f6"/>
<rect x="322.79" y="255.98" width="8.29" height="11.73" fill="#5793d7"/>
<rect x="331.08" y="255.98" width="8.29" height="11.73" fill="#0962c5"/>
<rect x="339.36" y="255.98" width="8.29" height="11.73" fill="#5793d7"/>
<rect x="347.65" y="255.98" width="16.58" height="11.73" fill="#2c78cd"/>
<rect x="364.22" y="255.98" width="8.29" height="11.73" fill="#abcaeb"/>
<rect x="372.5" y="255.98" width="8.29" height="11.73" fill="#5793d7"/>
<rect x="380.79" y="255.98" width="8.29" height="11.73" fill="#f9e2e3"/>
<rect x="389.07" y="255.98" width="8.29" height="11.73" fill="#dae7f6"/>
<rect x="397.36" y="255.98" width="8.29" height="11.73" fill="#5793d7"/>
<rect x="405.64" y="255.98" width="24.86" height="11.73" fill="#0962c5"/>
<rect x="430.5" y="255.98" width="8.29" height="11.73" fill="#81aee1"/>
<rect x="438.78" y="255.98" width="8.29" height="11.73" fill="#0962c5"/>
<rect x="447.07" y="255.98" width="8.29" height="11.73" fill="#2c78cd"/>
<rect x="455.35" y="255.98" width="8.29" height="11.73" fill="#0962c5"/>
<rect x="463.64" y="255.98" width="8.29" height="11.73" fill="#5793d7"/>
<rect x="471.92" y="255.98" width="8.29" height="11.73" fill="#2c78cd"/>
<rect x="480.21" y="255.98" width="8.29" height="11.73" fill="#abcaeb"/>
<rect x="488.49" y="255.98" width="8.29" height="11.73" fill="#e48082"/>
<rect x="496.78" y="255.98" width="16.58" height="11.73" fill="#eeafb1"/>
<rect x="513.35" y="255.98" width="8.29" height="11.73" fill="#2c78cd"/>
<rect x="521.63" y="255.98" width="8.29" height="11.73" fill="#5793d7"/>
<rect x="529.92" y="255.98" width="8.29" height="11.73" fill="#2c78cd"/>
<rect x="74.25" y="267.7" width="33.15" height="11.73" fill="#0962c5"/>
<rect x="107.39" y="267.7" width="8.29" height="11.73" fill="#81aee1"/>
<rect x="115.67" y="267.7" width="422.54" height="11.73" fill="#0962c5"/>
<rect x="74.25" y="279.41" width="8.29" height="11.73" fill="#0962c5"/>
<rect x="82.53" y="279.41" width="33.15" height="11.73" fill="#2c78cd"/>
<rect x="115.67" y="279.41" width="8.29" height="11.73" fill="#0962c5"/>
<rect x="123.96" y="279.41" width="33.15" height="11.73" fill="#2c78cd"/>
<rect x="157.1" y="279.41" width="16.58" height="11.73" fill="#0962c5"/>
<rect x="173.67" y="279.41" width="8.29" height="11.73" fill="#5793d7"/>
<rect x="181.95" y="279.41" width="82.86" height="11.73" fill="#0962c5"/>
<rect x="264.8" y="279.41" width="8.29" height="11.73" fill="#5793d7"/>
<rect x="273.09" y="279.41" width="8.29" height="11.73" fill="#2c78cd"/>
<rect x="281.37" y="279.41" width="8.29" height="11.73" fill="#5793d7"/>
<rect x="289.66" y="279.41" width="8.29" height="11.73" fill="#0962c5"/>
<rect x="297.94" y="279.41" width="16.58" height="11.73" fill="#2c78cd"/>
<rect x="314.51" y="279.41" width="8.29" height="11.73" fill="#5793d7"/>
<rect x="322.79" y="279.41" width="8.29" height="11.73" fill="#2c78cd"/>
<rect x="331.08" y="279.41" width="8.29" height="11.73" fill="#81aee1"/>
<rect x="339.36" y="279.41" width="16.58" height="11.73" fill="#2c78cd"/>
<rect x="355.93" y="279.41" width="8.29" height="11.73" fill="#0962c5"/>
<rect x="364.22" y="279.41" width="8.29" height="11.73" fill="#5793d7"/>
<rect x="372.5" y="279.41" width="16.58" height="11.73" fill="#2c78cd"/>
<rect x="389.07" y="279.41" width="8.29" height="11.73" fill="#0962c5"/>
<rect x="397.36" y="279.41" width="8.29" height="11.73" fill="#5793d7"/>
<rect x="405.64" y="279.41" width="8.29" height="11.73" fill="#2c78cd"/>
<rect x="413.93" y="279.41" width="8.29" height="11.73" fill="#0962c5"/>
<rect x="422.21" y="279.41" width="16.58" height="11.73" fill="#2c78cd"/>
<rect x="438.78" y="279.41" width="8.29" height="11.73" fill="#0962c5"/>
<rect x="447.07" y="279.41" width="16.58" height="11.73" fill="#2c78cd"/>
<rect x="463.64" y="279.41" width="8.29" height="11.73" fill="#81aee1"/>
<rect x="471.92" y="279.41" width="8.29" height="11.73" fill="#0962c5"/>
<rect x="480.21" y="279.41" width="24.86" height="11.73" fill="#2c78cd"/>
<rect x="505.06" y="279.41" width="8.29" height="11.73" fill="#0962c5"/>
<rect x="513.35" y="279.41" width="8.29" height="11.73" fill="#81aee1"/>
<rect x="521.63" y="279.41" width="8.29" height="11.73" fill="#0962c5"/>
<rect x="529.92" y="279.41" width="8.29" height="11.73" fill="#2c78cd"/>
<rect x="74.25" y="291.13" width="8.29" height="11.73" fill="#2c78cd"/>
<rect x="82.53" y="291.13" width="8.29" height="11.73" fill="#81aee1"/>
<rect x="90.82" y="291.13" width="41.43" height="11.73" fill="#2c78cd"/>
<rect x="132.24" y="291.13" width="8.29" height="11.73" fill="#5793d7"/>
<rect x="140.53" y="291.13" width="8.29" height="11.73" fill="#2c78cd"/>
<rect x="148.81" y="291.13" width="8.29" height="11.73" fill="#81aee1"/>
<rect x="157.1" y="291.13" width="16.58" height="11.73" fill="#2c78cd"/>
<rect x="173.67" y="291.13" width="8.29" height="11.73" fill="#5793d7"/>
<rect x="181.95" y="291.13" width="41.43" height="11.73" fill="#0962c5"/>
<rect x="223.38" y="291.13" width="16.58" height="11.73" fill="#2c78cd"/>
<rect x="239.95" y="291.13" width="24.86" height="11.73" fill="#0962c5"/>
<rect x="264.8" y="291.13" width="8.29" height="11.73" fill="#81aee1"/>
<rect x="273.09" y="291.13" width="8.29" height="11.73" fill="#2c78cd"/>
<rect x="281.37" y="291.13" width="8.29" height="11.73" fill="#5793d7"/>
<rect x="289.66" y="291.13" width="8.29" height="11.73" fill="#2c78cd"/>
<rect x="297.94" y="291.13" width="8.29" height="11.73" fill="#5793d7"/>
<rect x="306.23" y="291.13" width="8.29" height="11.73" fill="#0962c5"/>
<rect x="314.51" y="291.13" width="8.29" height="11.73" fill="#5793d7"/>
<rect x="322.79" y="291.13" width="8.29" height="11.73" fill="#2c78cd"/>
<rect x="331.08" y="291.13" width="8.29" height="11.73" fill="#81aee1"/>
<rect x="339.36" y="291.13" width="33.15" height="11.73" fill="#2c78cd"/>
<rect x="372.5" y="291.13" width="8.29" height="11.73" fill="#5793d7"/>
<rect x="380.79" y="291.13" width="8.29" height="11.73" fill="#2c78cd"/>
<rect x="389.07" y="291.13" width="8.29" height="11.73" fill="#0962c5"/>
<rect x="397.36" y="291.13" width="8.29" height="11.73" fill="#81aee1"/>
<rect x="405.64" y="291.13" width="8.29" height="11.73" fill="#5793d7"/>
<rect x="413.93" y="291.13" width="8.29" height="11.73" fill="#0962c5"/>
<rect x="422.21" y="291.13" width="8.29" height="11.73" fill="#2c78cd"/>
<rect x="430.5" y="291.13" width="16.58" height="11.73" fill="#0962c5"/>
<rect x="447.07" y="291.13" width="16.58" height="11.73" fill="#2c78cd"/>
<rect x="463.64" y="291.13" width="8.29" height="11.73" fill="#81aee1"/>
<rect x="471.92" y="291.13" width="8.29" height="11.73" fill="#0962c5"/>
<rect x="480.21" y="291.13" width="24.86" height="11.73" fill="#2c78cd"/>
<rect x="505.06" y="291.13" width="8.29" height="11.73" fill="#0962c5"/>
<rect x="513.35" y="291.13" width="8.29" height="11.73" fill="#81aee1"/>
<rect x="521.63" y="291.13" width="8.29" height="11.73" fill="#0962c5"/>
<rect x="529.92" y="291.13" width="8.29" height="11.73" fill="#2c78cd"/>
<rect x="74.25" y="302.85" width="8.29" height="11.73" fill="#5793d7"/>
<rect x="82.53" y="302.85" width="8.29" height="11.73" fill="#81aee1"/>
<rect x="90.82" y="302.85" width="33.15" height="11.73" fill="#5793d7"/>
<rect x="123.96" y="302.85" width="8.29" height="11.73" fill="#abcaeb"/>
<rect x="132.24" y="302.85" width="16.58" height="11.73" fill="#81aee1"/>
<rect x="148.81" y="302.85" width="24.86" height="11.73" fill="#5793d7"/>
<rect x="173.67" y="302.85" width="8.29" height="11.73" fill="#dae7f6"/>
<rect x="181.95" y="302.85" width="16.58" height="11.73" fill="#2c78cd"/>
<rect x="198.52" y="302.85" width="16.58" height="11.73" fill="#5793d7"/>
<rect x="215.09" y="302.85" width="8.29" height="11.73" fill="#81aee1"/>
<rect x="223.38" y="302.85" width="8.29" height="11.73" fill="#2c78cd"/>
<rect x="231.66" y="302.85" width="8.29" height="11.73" fill="#81aee1"/>
<rect x="239.95" y="302.85" width="8.29" height="11.73" fill="#2c78cd"/>
<rect x="248.23" y="302.85" width="8.29" height="11.73" fill="#5793d7"/>
<rect x="256.52" y="302.85" width="8.29" height="11.73" fill="#81aee1"/>
<rect x="264.8" y="302.85" width="24.86" height="11.73" fill="#abcaeb"/>
<rect x="289.66" y="302.85" width="8.29" height="11.73" fill="#81aee1"/>
<rect x="297.94" y="302.85" width="8.29" height="11.73" fill="#abcaeb"/>
<rect x="306.23" y="302.85" width="8.29" height="11.73" fill="#5793d7"/>
<rect x="314.51" y="302.85" width="8.29" height="11.73" fill="#dae7f6"/>
<rect x="322.79" y="302.85" width="8.29" height="11.73" fill="#81aee1"/>
<rect x="331.08" y="302.85" width="8.29" height="11.73" fill="#abcaeb"/>
<rect x="339.36" y="302.85" width="8.29" height="11.73" fill="#5793d7"/>
<rect x="347.65" y="302.85" width="8.29" height="11.73" fill="#dae7f6"/>
<rect x="355.93" y="302.85" width="8.29" height="11.73" fill="#2c78cd"/>
<rect x="364.22" y="302.85" width="49.72" height="11.73" fill="#abcaeb"/>
<rect x="413.93" y="302.85" width="16.58" height="11.73" fill="#81aee1"/>
<rect x="430.5" y="302.85" width="8.29" height="11.73" fill="#2c78cd"/>
<rect x="438.78" y="302.85" width="8.29" height="11.73" fill="#81aee1"/>
<rect x="447.07" y="302.85" width="8.29" height="11.73" fill="#dae7f6"/>
<rect x="455.35" y="302.85" width="8.29" height="11.73" fill="#81aee1"/>
<rect x="463.64" y="302.85" width="16.58" height="11.73" fill="#abcaeb"/>
<rect x="480.21" y="302.85" width="24.86" height="11.73" fill="#81aee1"/>
<rect x="505.06" y="302.85" width="8.29" height="11.73" fill="#5793d7"/>
<rect x="513.35" y="302.85" width="24.86" height="11.73" fill="#abcaeb"/>
<rect x="74.25" y="314.56" width="8.29" height="11.73" fill="#0962c5"/>
<rect x="82.53" y="314.56" width="8.29" height="11.73" fill="#81aee1"/>
<rect x="90.82" y="314.56" width="16.58" height="11.73" fill="#0962c5"/>
<rect x="107.39" y="314.56" width="16.58" height="11.73" fill="#2c78cd"/>
<rect x="123.96" y="314.56" width="8.29" height="11.73" fill="#0962c5"/>
<rect x="132.24" y="314.56" width="8.29" height="11.73" fill="#2c78cd"/>
<rect x="140.53" y="314.56" width="33.15" height="11.73" fill="#0962c5"/>
<rect x="173.67" y="314.56" width="8.29" height="11.73" fill="#5793d7"/>
<rect x="181.95" y="314.56" width="99.43" height="11.73" fill="#0962c5"/>
<rect x="281.37" y="314.56" width="8.29" height="11.73" fill="#5793d7"/>
<rect x="289.66" y="314.56" width="8.29" height="11.73" fill="#0962c5"/>
<rect x="297.94" y="314.56" width="8.29" height="11.73" fill="#2c78cd"/>
<rect x="306.23" y="314.56" width="66.29" height="11.73" fill="#0962c5"/>
<rect x="372.5" y="314.56" width="8.29" height="11.73" fill="#2c78cd"/>
<rect x="380.79" y="314.56" width="8.29" height="11.73" fill="#5793d7"/>
<rect x="389.07" y="314.56" width="16.58" height="11.73" fill="#0962c5"/>
<rect x="405.64" y="314.56" width="8.29" height="11.73" fill="#2c78cd"/>
<rect x="413.93" y="314.56" width="66.29" height="11.73" fill="#0962c5"/>
<rect x="480.21" y="314.56" width="8.29" height="11.73" fill="#2c78cd"/>
<rect x="488.49" y="314.56" width="49.72" height="11.73" fill="#0962c5"/>
<rect x="74.25" y="326.28" width="16.58" height="11.73" fill="#0962c5"/>
<rect x="90.82" y="326.28" width="58" height="11.73" fill="#2c78cd"/>
<rect x="148.81" y="326.28" width="8.29" height="11.73" fill="#5793d7"/>
<rect x="157.1" y="326.28" width="16.58" height="11.73" fill="#2c78cd"/>
<rect x="173.67" y="326.28" width="58" height="11.73" fill="#0962c5"/>
<rect x="231.66" y="326.28" width="8.29" height="11.73" fill="#5793d7"/>
<rect x="239.95" y="326.28" width="16.58" height="11.73" fill="#0962c5"/>
<rect x="256.52" y="326.28" width="8.29" height="11.73" fill="#5793d7"/>
<rect x="264.8" y="326.28" width="16.58" height="11.73" fill="#0962c5"/>
<rect x="281.37" y="326.28" width="8.29" height="11.73" fill="#5793d7"/>
<rect x="289.66" y="326.28" width="8.29" height="11.73" fill="#2c78cd"/>
<rect x="297.94" y="326.28" width="16.58" height="11.73" fill="#0962c5"/>
<rect x="314.51" y="326.28" width="8.29" height="11.73" fill="#5793d7"/>
<rect x="322.79" y="326.28" width="8.29" height="11.73" fill="#0962c5"/>
<rect x="331.08" y="326.28" width="8.29" height="11.73" fill="#5793d7"/>
<rect x="339.36" y="326.28" width="99.43" height="11.73" fill="#0962c5"/>
<rect x="438.78" y="326.28" width="16.58" height="11.73" fill="#2c78cd"/>
<rect x="455.35" y="326.28" width="49.72" height="11.73" fill="#0962c5"/>
<rect x="505.06" y="326.28" width="16.58" height="11.73" fill="#2c78cd"/>
<rect x="521.63" y="326.28" width="16.58" height="11.73" fill="#0962c5"/>
<rect x="74.25" y="337.99" width="215.42" height="11.73" fill="#0962c5"/>
<rect x="289.66" y="337.99" width="8.29" height="11.73" fill="#2c78cd"/>
<rect x="297.94" y="337.99" width="91.14" height="11.73" fill="#0962c5"/>
<rect x="389.07" y="337.99" width="8.29" height="11.73" fill="#5793d7"/>
<rect x="397.36" y="337.99" width="140.85" height="11.73" fill="#0962c5"/>
<rect x="74.25" y="349.71" width="207.13" height="11.73" fill="#0962c5"/>
<rect x="281.37" y="349.71" width="8.29" height="11.73" fill="#5793d7"/>
<rect x="289.66" y="349.71" width="248.55" height="11.73" fill="#0962c5"/>
<rect x="74.25" y="361.42" width="8.29" height="11.73" fill="#0962c5"/>
<rect x="82.53" y="361.42" width="8.29" height="11.73" fill="#81aee1"/>
<rect x="90.82" y="361.42" width="33.15" height="11.73" fill="#2c78cd"/>
<rect x="123.96" y="361.42" width="8.29" height="11.73" fill="#5793d7"/>
<rect x="132.24" y="361.42" width="16.58" height="11.73" fill="#2c78cd"/>
<rect x="148.81" y="361.42" width="16.58" height="11.73" fill="#5793d7"/>
<rect x="165.38" y="361.42" width="8.29" height="11.73" fill="#2c78cd"/>
<rect x="173.67" y="361.42" width="8.29" height="11.73" fill="#5793d7"/>
<rect x="181.95" y="361.42" width="99.43" height="11.73" fill="#0962c5"/>
<rect x="281.37" y="361.42" width="16.58" height="11.73" fill="#5793d7"/>
<rect x="297.94" y="361.42" width="16.58" height="11.73" fill="#0962c5"/>
<rect x="314.51" y="361.42" width="16.58" height="11.73" fill="#81aee1"/>
<rect x="331.08" y="361.42" width="33.15" height="11.73" fill="#0962c5"/>
<rect x="364.22" y="361.42" width="8.29" height="11.73" fill="#5793d7"/>
<rect x="372.5" y="361.42" width="16.58" height="11.73" fill="#0962c5"/>
<rect x="389.07" y="361.42" width="8.29" height="11.73" fill="#5793d7"/>
<rect x="397.36" y="361.42" width="16.58" height="11.73" fill="#0962c5"/>
<rect x="413.93" y="361.42" width="8.29" height="11.73" fill="#2c78cd"/>
<rect x="422.21" y="361.42" width="8.29" height="11.73" fill="#5793d7"/>
<rect x="430.5" y="361.42" width="24.86" height="11.73" fill="#0962c5"/>
<rect x="455.35" y="361.42" width="8.29" height="11.73" fill="#2c78cd"/>
<rect x="463.64" y="361.42" width="24.86" height="11.73" fill="#0962c5"/>
<rect x="488.49" y="361.42" width="16.58" height="11.73" fill="#2c78cd"/>
<rect x="505.06" y="361.42" width="8.29" height="11.73" fill="#0962c5"/>
<rect x="513.35" y="361.42" width="8.29" height="11.73" fill="#5793d7"/>
<rect x="521.63" y="361.42" width="8.29" height="11.73" fill="#0962c5"/>
<rect x="529.92" y="361.42" width="8.29" height="11.73" fill="#5793d7"/>
<rect x="74.25" y="373.14" width="8.29" height="11.73" fill="#e48082"/>
<rect x="82.53" y="373.14" width="8.29" height="11.73" fill="#db595c"/>
<rect x="90.82" y="373.14" width="24.86" height="11.73" fill="#e48082"/>
<rect x="115.67" y="373.14" width="8.29" height="11.73" fill="#f9e2e3"/>
<rect x="123.96" y="373.14" width="41.43" height="11.73" fill="#e48082"/>
<rect x="165.38" y="373.14" width="8.29" height="11.73" fill="#eeafb1"/>
<rect x="173.67" y="373.14" width="8.29" height="11.73" fill="#d4393d"/>
<rect x="181.95" y="373.14" width="8.29" height="11.73" fill="#eeafb1"/>
<rect x="190.24" y="373.14" width="24.86" height="11.73" fill="#e48082"/>
<rect x="215.09" y="373.14" width="8.29" height="11.73" fill="#eeafb1"/>
<rect x="223.38" y="373.14" width="8.29" height="11.73" fill="#f9e2e3"/>
<rect x="231.66" y="373.14" width="8.29" height="11.73" fill="#db595c"/>
<rect x="239.95" y="373.14" width="8.29" height="11.73" fill="#e48082"/>
<rect x="248.23" y="373.14" width="8.29" height="11.73" fill="#eeafb1"/>
<rect x="256.52" y="373.14" width="8.29" height="11.73" fill="#e48082"/>
<rect x="264.8" y="373.14" width="8.29" height="11.73" fill="#db595c"/>
<rect x="273.09" y="373.14" width="8.29" height="11.73" fill="#e48082"/>
<rect x="281.37" y="373.14" width="8.29" height="11.73" fill="#db595c"/>
<rect x="289.66" y="373.14" width="8.29" height="11.73" fill="#eeafb1"/>
<rect x="297.94" y="373.14" width="8.29" height="11.73" fill="#db595c"/>
<rect x="306.23" y="373.14" width="16.58" height="11.73" fill="#e48082"/>
<rect x="322.79" y="373.14" width="16.58" height="11.73" fill="#db595c"/>
<rect x="339.36" y="373.14" width="8.29" height="11.73" fill="#e48082"/>
<rect x="347.65" y="373.14" width="8.29" height="11.73" fill="#db595c"/>
<rect x="355.93" y="373.14" width="8.29" height="11.73" fill="#eeafb1"/>
<rect x="364.22" y="373.14" width="8.29" height="11.73" fill="#db595c"/>
<rect x="372.5" y="373.14" width="8.29" height="11.73" fill="#e48082"/>
<rect x="380.79" y="373.14" width="8.29" height="11.73" fill="#db595c"/>
<rect x="389.07" y="373.14" width="16.58" height="11.73" fill="#e48082"/>
<rect x="405.64" y="373.14" width="8.29" height="11.73" fill="#ce1e22"/>
<rect x="413.93" y="373.14" width="8.29" height="11.73" fill="#eeafb1"/>
<rect x="422.21" y="373.14" width="24.86" height="11.73" fill="#e48082"/>
<rect x="447.07" y="373.14" width="8.29" height="11.73" fill="#db595c"/>
<rect x="455.35" y="373.14" width="8.29" height="11.73" fill="#e48082"/>
<rect x="463.64" y="373.14" width="8.29" height="11.73" fill="#db595c"/>
<rect x="471.92" y="373.14" width="8.29" height="11.73" fill="#d4393d"/>
<rect x="480.21" y="373.14" width="8.29" height="11.73" fill="#db595c"/>
<rect x="488.49" y="373.14" width="8.29" height="11.73" fill="#e48082"/>
<rect x="496.78" y="373.14" width="16.58" height="11.73" fill="#eeafb1"/>
<rect x="513.35" y="373.14" width="8.29" height="11.73" fill="#db595c"/>
<rect x="521.63" y="373.14" width="8.29" height="11.73" fill="#e48082"/>
<rect x="529.92" y="373.14" width="8.29" height="11.73" fill="#db595c"/>
<rect x="74.25" y="384.86" width="8.29" height="11.73" fill="#eeafb1"/>
<rect x="82.53" y="384.86" width="8.29" height="11.73" fill="#e48082"/>
<rect x="90.82" y="384.86" width="8.29" height="11.73" fill="#eeafb1"/>
<rect x="99.1" y="384.86" width="8.29" height="11.73" fill="#f9e2e3"/>
<rect x="107.39" y="384.86" width="24.86" height="11.73" fill="#eeafb1"/>
<rect x="132.24" y="384.86" width="8.29" height="11.73" fill="#e48082"/>
<rect x="140.53" y="384.86" width="24.86" height="11.73" fill="#eeafb1"/>
<rect x="165.38" y="384.86" width="8.29" height="11.73" fill="#dae7f6"/>
<rect x="173.67" y="384.86" width="8.29" height="11.73" fill="#db595c"/>
<rect x="181.95" y="384.86" width="8.29" height="11.73" fill="#f9e2e3"/>
<rect x="190.24" y="384.86" width="8.29" height="11.73" fill="#dae7f6"/>
<rect x="198.52" y="384.86" width="8.29" height="11.73" fill="#f9e2e3"/>
<rect x="206.81" y="384.86" width="8.29" height="11.73" fill="#eeafb1"/>
<rect x="215.09" y="384.86" width="16.58" height="11.73" fill="#dae7f6"/>
<rect x="231.66" y="384.86" width="8.29" height="11.73" fill="#e48082"/>
<rect x="239.95" y="384.86" width="8.29" height="11.73" fill="#f9e2e3"/>
<rect x="248.23" y="384.86" width="16.58" height="11.73" fill="#eeafb1"/>
<rect x="264.8" y="384.86" width="16.58" height="11.73" fill="#e48082"/>
<rect x="281.37" y="384.86" width="8.29" height="11.73" fill="#db595c"/>
<rect x="289.66" y="384.86" width="8.29" height="11.73" fill="#f9e2e3"/>
<rect x="297.94" y="384.86" width="8.29" height="11.73" fill="#e48082"/>
<rect x="306.23" y="384.86" width="16.58" height="11.73" fill="#eeafb1"/>
<rect x="322.79" y="384.86" width="8.29" height="11.73" fill="#e48082"/>
<rect x="331.08" y="384.86" width="8.29" height="11.73" fill="#db595c"/>
<rect x="339.36" y="384.86" width="24.86" height="11.73" fill="#eeafb1"/>
<rect x="364.22" y="384.86" width="8.29" height="11.73" fill="#e48082"/>
<rect x="372.5" y="384.86" width="8.29" height="11.73" fill="#eeafb1"/>
<rect x="380.79" y="384.86" width="8.29" height="11.73" fill="#e48082"/>
<rect x="389.07" y="384.86" width="8.29" height="11.73" fill="#eeafb1"/>
<rect x="397.36" y="384.86" width="8.29" height="11.73" fill="#db595c"/>
<rect x="405.64" y="384.86" width="8.29" height="11.73" fill="#e48082"/>
<rect x="413.93" y="384.86" width="8.29" height="11.73" fill="#f9e2e3"/>
<rect x="422.21" y="384.86" width="49.72" height="11.73" fill="#eeafb1"/>
<rect x="471.92" y="384.86" width="8.29" height="11.73" fill="#db595c"/>
<rect x="480.21" y="384.86" width="8.29" height="11.73" fill="#eeafb1"/>
<rect x="488.49" y="384.86" width="8.29" height="11.73" fill="#e48082"/>
<rect x="496.78" y="384.86" width="16.58" height="11.73" fill="#f9e2e3"/>
<rect x="513.35" y="384.86" width="8.29" height="11.73" fill="#e48082"/>
<rect x="521.63" y="384.86" width="8.29" height="11.73" fill="#dae7f6"/>
<rect x="529.92" y="384.86" width="8.29" height="11.73" fill="#e48082"/>
<rect x="74.25" y="396.57" width="8.29" height="11.73" fill="#e48082"/>
<rect x="82.53" y="396.57" width="8.29" height="11.73" fill="#db595c"/>
<rect x="90.82" y="396.57" width="8.29" height="11.73" fill="#e48082"/>
<rect x="99.1" y="396.57" width="8.29" height="11.73" fill="#eeafb1"/>
<rect x="107.39" y="396.57" width="8.29" height="11.73" fill="#e48082"/>
<rect x="115.67" y="396.57" width="8.29" height="11.73" fill="#eeafb1"/>
<rect x="123.96" y="396.57" width="8.29" height="11.73" fill="#e48082"/>
<rect x="132.24" y="396.57" width="8.29" height="11.73" fill="#db595c"/>
<rect x="140.53" y="396.57" width="24.86" height="11.73" fill="#e48082"/>
<rect x="165.38" y="396.57" width="8.29" height="11.73" fill="#eeafb1"/>
<rect x="173.67" y="396.57" width="8.29" height="11.73" fill="#db595c"/>
<rect x="181.95" y="396.57" width="8.29" height="11.73" fill="#f9e2e3"/>
<rect x="190.24" y="396.57" width="16.58" height="11.73" fill="#e48082"/>
<rect x="206.81" y="396.57" width="8.29" height="11.73" fill="#eeafb1"/>
<rect x="215.09" y="396.57" width="16.58" height="11.73" fill="#f9e2e3"/>
<rect x="231.66" y="396.57" width="8.29" height="11.73" fill="#db595c"/>
<rect x="239.95" y="396.57" width="16.58" height="11.73" fill="#eeafb1"/>
<rect x="256.52" y="396.57" width="8.29" height="11.73" fill="#e48082"/>
<rect x="264.8" y="396.57" width="8.29" height="11.73" fill="#db595c"/>
<rect x="273.09" y="396.57" width="8.29" height="11.73" fill="#e48082"/>
<rect x="281.37" y="396.57" width="8.29" height="11.73" fill="#db595c"/>
<rect x="289.66" y="396.57" width="8.29" height="11.73" fill="#eeafb1"/>
<rect x="297.94" y="396.57" width="8.29" height="11.73" fill="#db595c"/>
<rect x="306.23" y="396.57" width="24.86" height="11.73" fill="#e48082"/>
<rect x="331.08" y="396.57" width="8.29" height="11.73" fill="#d4393d"/>
<rect x="339.36" y="396.57" width="8.29" height="11.73" fill="#e48082"/>
<rect x="347.65" y="396.57" width="8.29" height="11.73" fill="#db595c"/>
<rect x="355.93" y="396.57" width="8.29" height="11.73" fill="#e48082"/>
<rect x="364.22" y="396.57" width="8.29" height="11.73" fill="#db595c"/>
<rect x="372.5" y="396.57" width="8.29" height="11.73" fill="#e48082"/>
<rect x="380.79" y="396.57" width="8.29" height="11.73" fill="#db595c"/>
<rect x="389.07" y="396.57" width="8.29" height="11.73" fill="#e48082"/>
<rect x="397.36" y="396.57" width="8.29" height="11.73" fill="#d4393d"/>
<rect x="405.64" y="396.57" width="8.29" height="11.73" fill="#db595c"/>
<rect x="413.93" y="396.57" width="8.29" height="11.73" fill="#eeafb1"/>
<rect x="422.21" y="396.57" width="8.29" height="11.73" fill="#db595c"/>
<rect x="430.5" y="396.57" width="8.29" height="11.73" fill="#f9e2e3"/>
<rect x="438.78" y="396.57" width="16.58" height="11.73" fill="#e48082"/>
<rect x="455.35" y="396.57" width="8.29" height="11.73" fill="#eeafb1"/>
<rect x="463.64" y="396.57" width="8.29" height="11.73" fill="#e48082"/>
<rect x="471.92" y="396.57" width="8.29" height="11.73" fill="#d4393d"/>
<rect x="480.21" y="396.57" width="8.29" height="11.73" fill="#eeafb1"/>
<rect x="488.49" y="396.57" width="8.29" height="11.73" fill="#db595c"/>
<rect x="496.78" y="396.57" width="8.29" height="11.73" fill="#e48082"/>
<rect x="505.06" y="396.57" width="8.29" height="11.73" fill="#eeafb1"/>
<rect x="513.35" y="396.57" width="8.29" height="11.73" fill="#db595c"/>
<rect x="521.63" y="396.57" width="8.29" height="11.73" fill="#eeafb1"/>
<rect x="529.92" y="396.57" width="8.29" height="11.73" fill="#db595c"/>
<rect x="74.25" y="408.29" width="8.29" height="11.73" fill="#eeafb1"/>
<rect x="82.53" y="408.29" width="8.29" height="11.73" fill="#db595c"/>
<rect x="90.82" y="408.29" width="8.29" height="11.73" fill="#eeafb1"/>
<rect x="99.1" y="408.29" width="8.29" height="11.73" fill="#f9e2e3"/>
<rect x="107.39" y="408.29" width="8.29" height="11.73" fill="#e48082"/>
<rect x="115.67" y="408.29" width="16.58" height="11.73" fill="#eeafb1"/>
<rect x="132.24" y="408.29" width="16.58" height="11.73" fill="#e48082"/>
<rect x="148.81" y="408.29" width="24.86" height="11.73" fill="#eeafb1"/>
<rect x="173.67" y="408.29" width="8.29" height="11.73" fill="#db595c"/>
<rect x="181.95" y="408.29" width="16.58" height="11.73" fill="#f9e2e3"/>
<rect x="198.52" y="408.29" width="8.29" height="11.73" fill="#eeafb1"/>
<rect x="206.81" y="408.29" width="8.29" height="11.73" fill="#e48082"/>
<rect x="215.09" y="408.29" width="8.29" height="11.73" fill="#dae7f6"/>
<rect x="223.38" y="408.29" width="8.29" height="11.73" fill="#f9e2e3"/>
<rect x="231.66" y="408.29" width="33.15" height="11.73" fill="#eeafb1"/>
<rect x="264.8" y="408.29" width="16.58" height="11.73" fill="#e48082"/>
<rect x="281.37" y="408.29" width="8.29" height="11.73" fill="#db595c"/>
<rect x="289.66" y="408.29" width="8.29" height="11.73" fill="#f9e2e3"/>
<rect x="297.94" y="408.29" width="16.58" height="11.73" fill="#eeafb1"/>
<rect x="314.51" y="408.29" width="16.58" height="11.73" fill="#e48082"/>
<rect x="331.08" y="408.29" width="8.29" height="11.73" fill="#db595c"/>
<rect x="339.36" y="408.29" width="16.58" height="11.73" fill="#e48082"/>
<rect x="355.93" y="408.29" width="8.29" height="11.73" fill="#eeafb1"/>
<rect x="364.22" y="408.29" width="24.86" height="11.73" fill="#e48082"/>
<rect x="389.07" y="408.29" width="8.29" height="11.73" fill="#eeafb1"/>
<rect x="397.36" y="408.29" width="16.58" height="11.73" fill="#db595c"/>
<rect x="413.93" y="408.29" width="8.29" height="11.73" fill="#f9e2e3"/>
<rect x="422.21" y="408.29" width="8.29" height="11.73" fill="#eeafb1"/>
<rect x="430.5" y="408.29" width="8.29" height="11.73" fill="#f9e2e3"/>
<rect x="438.78" y="408.29" width="33.15" height="11.73" fill="#eeafb1"/>
<rect x="471.92" y="408.29" width="8.29" height="11.73" fill="#db595c"/>
<rect x="480.21" y="408.29" width="8.29" height="11.73" fill="#f9e2e3"/>
<rect x="488.49" y="408.29" width="8.29" height="11.73" fill="#e48082"/>
<rect x="496.78" y="408.29" width="16.58" height="11.73" fill="#f9e2e3"/>
<rect x="513.35" y="408.29" width="8.29" height="11.73" fill="#db595c"/>
<rect x="521.63" y="408.29" width="8.29" height="11.73" fill="#f9e2e3"/>
<rect x="529.92" y="408.29" width="8.29" height="11.73" fill="#e48082"/>
<rect x="74.25" y="420" width="8.29" height="11.73" fill="#81aee1"/>
<rect x="82.53" y="420" width="8.29" height="11.73" fill="#f9e2e3"/>
<rect x="90.82" y="420" width="8.29" height="11.73" fill="#abcaeb"/>
<rect x="99.1" y="420" width="8.29" height="11.73" fill="#81aee1"/>
<rect x="107.39" y="420" width="8.29" height="11.73" fill="#abcaeb"/>
<rect x="115.67" y="420" width="8.29" height="11.73" fill="#81aee1"/>
<rect x="123.96" y="420" width="16.58" height="11.73" fill="#dae7f6"/>
<rect x="140.53" y="420" width="8.29" height="11.73" fill="#81aee1"/>
<rect x="148.81" y="420" width="8.29" height="11.73" fill="#dae7f6"/>
<rect x="157.1" y="420" width="8.29" height="11.73" fill="#abcaeb"/>
<rect x="165.38" y="420" width="8.29" height="11.73" fill="#81aee1"/>
<rect x="173.67" y="420" width="8.29" height="11.73" fill="#f9e2e3"/>
<rect x="181.95" y="420" width="16.58" height="11.73" fill="#2c78cd"/>
<rect x="198.52" y="420" width="8.29" height="11.73" fill="#81aee1"/>
<rect x="206.81" y="420" width="8.29" height="11.73" fill="#abcaeb"/>
<rect x="215.09" y="420" width="8.29" height="11.73" fill="#81aee1"/>
<rect x="223.38" y="420" width="8.29" height="11.73" fill="#5793d7"/>
<rect x="231.66" y="420" width="8.29" height="11.73" fill="#abcaeb"/>
<rect x="239.95" y="420" width="8.29" height="11.73" fill="#5793d7"/>
<rect x="248.23" y="420" width="8.29" height="11.73" fill="#81aee1"/>
<rect x="256.52" y="420" width="8.29" height="11.73" fill="#abcaeb"/>
<rect x="264.8" y="420" width="8.29" height="11.73" fill="#f9e2e3"/>
<rect x="273.09" y="420" width="8.29" height="11.73" fill="#dae7f6"/>
<rect x="281.37" y="420" width="8.29" height="11.73" fill="#f9e2e3"/>
<rect x="289.66" y="420" width="8.29" height="11.73" fill="#abcaeb"/>
<rect x="297.94" y="420" width="8.29" height="11.73" fill="#f9e2e3"/>
<rect x="306.23" y="420" width="8.29" height="11.73" fill="#dae7f6"/>
<rect x="314.51" y="420" width="8.29" height="11.73" fill="#f9e2e3"/>
<rect x="322.79" y="420" width="8.29" height="11.73" fill="#dae7f6"/>
<rect x="331.08" y="420" width="8.29" height="11.73" fill="#f9e2e3"/>
<rect x="339.36" y="420" width="16.58" height="11.73" fill="#dae7f6"/>
<rect x="355.93" y="420" width="8.29" height="11.73" fill="#81aee1"/>
<rect x="364.22" y="420" width="8.29" height="11.73" fill="#f9e2e3"/>
<rect x="372.5" y="420" width="8.29" height="11.73" fill="#dae7f6"/>
<rect x="380.79" y="420" width="8.29" height="11.73" fill="#f9e2e3"/>
<rect x="389.07" y="420" width="8.29" height="11.73" fill="#dae7f6"/>
<rect x="397.36" y="420" width="16.58" height="11.73" fill="#f9e2e3"/>
<rect x="413.93" y="420" width="8.29" height="11.73" fill="#dae7f6"/>
<rect x="422.21" y="420" width="8.29" height="11.73" fill="#abcaeb"/>
<rect x="430.5" y="420" width="8.29" height="11.73" fill="#81aee1"/>
<rect x="438.78" y="420" width="8.29" height="11.73" fill="#abcaeb"/>
<rect x="447.07" y="420" width="16.58" height="11.73" fill="#dae7f6"/>
<rect x="463.64" y="420" width="8.29" height="11.73" fill="#abcaeb"/>
<rect x="471.92" y="420" width="8.29" height="11.73" fill="#f9e2e3"/>
<rect x="480.21" y="420" width="8.29" height="11.73" fill="#abcaeb"/>
<rect x="488.49" y="420" width="8.29" height="11.73" fill="#f9e2e3"/>
<rect x="496.78" y="420" width="8.29" height="11.73" fill="#abcaeb"/>
<rect x="505.06" y="420" width="8.29" height="11.73" fill="#81aee1"/>
<rect x="513.35" y="420" width="8.29" height="11.73" fill="#f9e2e3"/>
<rect x="521.63" y="420" width="8.29" height="11.73" fill="#81aee1"/>
<rect x="529.92" y="420" width="8.29" height="11.73" fill="#dae7f6"/>
<rect x="74.25" y="431.72" width="8.29" height="11.73" fill="#5793d7"/>
<rect x="82.53" y="431.72" width="8.29" height="11.73" fill="#dae7f6"/>
<rect x="90.82" y="431.72" width="8.29" height="11.73" fill="#81aee1"/>
<rect x="99.1" y="431.72" width="8.29" height="11.73" fill="#5793d7"/>
<rect x="107.39" y="431.72" width="8.29" height="11.73" fill="#81aee1"/>
<rect x="115.67" y="431.72" width="8.29" height="11.73" fill="#5793d7"/>
<rect x="123.96" y="431.72" width="8.29" height="11.73" fill="#81aee1"/>
<rect x="132.24" y="431.72" width="8.29" height="11.73" fill="#abcaeb"/>
<rect x="140.53" y="431.72" width="8.29" height="11.73" fill="#5793d7"/>
<rect x="148.81" y="431.72" width="16.58" height="11.73" fill="#81aee1"/>
<rect x="165.38" y="431.72" width="8.29" height="11.73" fill="#5793d7"/>
<rect x="173.67" y="431.72" width="8.29" height="11.73" fill="#dae7f6"/>
<rect x="181.95" y="431.72" width="8.29" height="11.73" fill="#0962c5"/>
<rect x="190.24" y="431.72" width="8.29" height="11.73" fill="#2c78cd"/>
<rect x="198.52" y="431.72" width="8.29" height="11.73" fill="#5793d7"/>
<rect x="206.81" y="431.72" width="16.58" height="11.73" fill="#81aee1"/>
<rect x="223.38" y="431.72" width="8.29" height="11.73" fill="#5793d7"/>
<rect x="231.66" y="431.72" width="8.29" height="11.73" fill="#81aee1"/>
<rect x="239.95" y="431.72" width="16.58" height="11.73" fill="#5793d7"/>
<rect x="256.52" y="431.72" width="8.29" height="11.73" fill="#81aee1"/>
<rect x="264.8" y="431.72" width="8.29" height="11.73" fill="#dae7f6"/>
<rect x="273.09" y="431.72" width="8.29" height="11.73" fill="#abcaeb"/>
<rect x="281.37" y="431.72" width="8.29" height="11.73" fill="#dae7f6"/>
<rect x="289.66" y="431.72" width="8.29" height="11.73" fill="#5793d7"/>
<rect x="297.94" y="431.72" width="8.29" height="11.73" fill="#abcaeb"/>
<rect x="306.23" y="431.72" width="8.29" height="11.73" fill="#81aee1"/>
<rect x="314.51" y="431.72" width="8.29" height="11.73" fill="#abcaeb"/>
<rect x="322.79" y="431.72" width="8.29" height="11.73" fill="#81aee1"/>
<rect x="331.08" y="431.72" width="8.29" height="11.73" fill="#abcaeb"/>
<rect x="339.36" y="431.72" width="16.58" height="11.73" fill="#81aee1"/>
<rect x="355.93" y="431.72" width="8.29" height="11.73" fill="#5793d7"/>
<rect x="364.22" y="431.72" width="8.29" height="11.73" fill="#dae7f6"/>
<rect x="372.5" y="431.72" width="8.29" height="11.73" fill="#abcaeb"/>
<rect x="380.79" y="431.72" width="8.29" height="11.73" fill="#dae7f6"/>
<rect x="389.07" y="431.72" width="8.29" height="11.73" fill="#81aee1"/>
<rect x="397.36" y="431.72" width="8.29" height="11.73" fill="#abcaeb"/>
<rect x="405.64" y="431.72" width="8.29" height="11.73" fill="#dae7f6"/>
<rect x="413.93" y="431.72" width="16.58" height="11.73" fill="#81aee1"/>
<rect x="430.5" y="431.72" width="16.58" height="11.73" fill="#5793d7"/>
<rect x="447.07" y="431.72" width="24.86" height="11.73" fill="#81aee1"/>
<rect x="471.92" y="431.72" width="8.29" height="11.73" fill="#dae7f6"/>
<rect x="480.21" y="431.72" width="8.29" height="11.73" fill="#81aee1"/>
<rect x="488.49" y="431.72" width="8.29" height="11.73" fill="#dae7f6"/>
<rect x="496.78" y="431.72" width="8.29" height="11.73" fill="#81aee1"/>
<rect x="505.06" y="431.72" width="8.29" height="11.73" fill="#5793d7"/>
<rect x="513.35" y="431.72" width="8.29" height="11.73" fill="#dae7f6"/>
<rect x="521.63" y="431.72" width="8.29" height="11.73" fill="#5793d7"/>
<rect x="529.92" y="431.72" width="8.29" height="11.73" fill="#abcaeb"/>
<rect x="74.25" y="443.43" width="8.29" height="11.73" fill="#0962c5"/>
<rect x="82.53" y="443.43" width="8.29" height="11.73" fill="#abcaeb"/>
<rect x="90.82" y="443.43" width="82.86" height="11.73" fill="#0962c5"/>
<rect x="173.67" y="443.43" width="8.29" height="11.73" fill="#5793d7"/>
<rect x="181.95" y="443.43" width="99.43" height="11.73" fill="#0962c5"/>
<rect x="281.37" y="443.43" width="8.29" height="11.73" fill="#dae7f6"/>
<rect x="289.66" y="443.43" width="8.29" height="11.73" fill="#0962c5"/>
<rect x="297.94" y="443.43" width="8.29" height="11.73" fill="#5793d7"/>
<rect x="306.23" y="443.43" width="8.29" height="11.73" fill="#2c78cd"/>
<rect x="314.51" y="443.43" width="8.29" height="11.73" fill="#abcaeb"/>
<rect x="322.79" y="443.43" width="8.29" height="11.73" fill="#0962c5"/>
<rect x="331.08" y="443.43" width="8.29" height="11.73" fill="#2c78cd"/>
<rect x="339.36" y="443.43" width="8.29" height="11.73" fill="#0962c5"/>
<rect x="347.65" y="443.43" width="8.29" height="11.73" fill="#2c78cd"/>
<rect x="355.93" y="443.43" width="24.86" height="11.73" fill="#0962c5"/>
<rect x="380.79" y="443.43" width="8.29" height="11.73" fill="#5793d7"/>
<rect x="389.07" y="443.43" width="16.58" height="11.73" fill="#0962c5"/>
<rect x="405.64" y="443.43" width="16.58" height="11.73" fill="#2c78cd"/>
<rect x="422.21" y="443.43" width="16.58" height="11.73" fill="#0962c5"/>
<rect x="438.78" y="443.43" width="8.29" height="11.73" fill="#2c78cd"/>
<rect x="447.07" y="443.43" width="24.86" height="11.73" fill="#0962c5"/>
<rect x="471.92" y="443.43" width="8.29" height="11.73" fill="#5793d7"/>
<rect x="480.21" y="443.43" width="16.58" height="11.73" fill="#2c78cd"/>
<rect x="496.78" y="443.43" width="16.58" height="11.73" fill="#0962c5"/>
<rect x="513.35" y="443.43" width="8.29" height="11.73" fill="#2c78cd"/>
<rect x="521.63" y="443.43" width="8.29" height="11.73" fill="#0962c5"/>
<rect x="529.92" y="443.43" width="8.29" height="11.73" fill="#2c78cd"/>
<rect x="74.25" y="455.15" width="8.29" height="11.73" fill="#81aee1"/>
<rect x="82.53" y="455.15" width="8.29" height="11.73" fill="#eeafb1"/>
<rect x="90.82" y="455.15" width="8.29" height="11.73" fill="#abcaeb"/>
<rect x="99.1" y="455.15" width="8.29" height="11.73" fill="#81aee1"/>
<rect x="107.39" y="455.15" width="8.29" height="11.73" fill="#dae7f6"/>
<rect x="115.67" y="455.15" width="8.29" height="11.73" fill="#81aee1"/>
<rect x="123.96" y="455.15" width="16.58" height="11.73" fill="#dae7f6"/>
<rect x="140.53" y="455.15" width="8.29" height="11.73" fill="#81aee1"/>
<rect x="148.81" y="455.15" width="16.58" height="11.73" fill="#dae7f6"/>
<rect x="165.38" y="455.15" width="8.29" height="11.73" fill="#81aee1"/>
<rect x="173.67" y="455.15" width="8.29" height="11.73" fill="#f9e2e3"/>
<rect x="181.95" y="455.15" width="8.29" height="11.73" fill="#5793d7"/>
<rect x="190.24" y="455.15" width="16.58" height="11.73" fill="#81aee1"/>
<rect x="206.81" y="455.15" width="8.29" height="11.73" fill="#dae7f6"/>
<rect x="215.09" y="455.15" width="8.29" height="11.73" fill="#81aee1"/>
<rect x="223.38" y="455.15" width="8.29" height="11.73" fill="#5793d7"/>
<rect x="231.66" y="455.15" width="8.29" height="11.73" fill="#dae7f6"/>
<rect x="239.95" y="455.15" width="8.29" height="11.73" fill="#81aee1"/>
<rect x="248.23" y="455.15" width="8.29" height="11.73" fill="#abcaeb"/>
<rect x="256.52" y="455.15" width="8.29" height="11.73" fill="#dae7f6"/>
<rect x="264.8" y="455.15" width="8.29" height="11.73" fill="#f9e2e3"/>
<rect x="273.09" y="455.15" width="8.29" height="11.73" fill="#dae7f6"/>
<rect x="281.37" y="455.15" width="8.29" height="11.73" fill="#f9e2e3"/>
<rect x="289.66" y="455.15" width="8.29" height="11.73" fill="#abcaeb"/>
<rect x="297.94" y="455.15" width="58" height="11.73" fill="#dae7f6"/>
<rect x="355.93" y="455.15" width="8.29" height="11.73" fill="#81aee1"/>
<rect x="364.22" y="455.15" width="16.58" height="11.73" fill="#f9e2e3"/>
<rect x="380.79" y="455.15" width="8.29" height="11.73" fill="#eeafb1"/>
<rect x="389.07" y="455.15" width="16.58" height="11.73" fill="#dae7f6"/>
<rect x="405.64" y="455.15" width="8.29" height="11.73" fill="#eeafb1"/>
<rect x="413.93" y="455.15" width="8.29" height="11.73" fill="#dae7f6"/>
<rect x="422.21" y="455.15" width="8.29" height="11.73" fill="#81aee1"/>
<rect x="430.5" y="455.15" width="8.29" height="11.73" fill="#abcaeb"/>
<rect x="438.78" y="455.15" width="8.29" height="11.73" fill="#81aee1"/>
<rect x="447.07" y="455.15" width="8.29" height="11.73" fill="#abcaeb"/>
<rect x="455.35" y="455.15" width="16.58" height="11.73" fill="#dae7f6"/>
<rect x="471.92" y="455.15" width="8.29" height="11.73" fill="#eeafb1"/>
<rect x="480.21" y="455.15" width="8.29" height="11.73" fill="#dae7f6"/>
<rect x="488.49" y="455.15" width="8.29" height="11.73" fill="#eeafb1"/>
<rect x="496.78" y="455.15" width="8.29" height="11.73" fill="#dae7f6"/>
<rect x="505.06" y="455.15" width="8.29" height="11.73" fill="#81aee1"/>
<rect x="513.35" y="455.15" width="8.29" height="11.73" fill="#eeafb1"/>
<rect x="521.63" y="455.15" width="8.29" height="11.73" fill="#81aee1"/>
<rect x="529.92" y="455.15" width="8.29" height="11.73" fill="#dae7f6"/>
<rect x="74.25" y="466.87" width="8.29" height="11.73" fill="#abcaeb"/>
<rect x="82.53" y="466.87" width="8.29" height="11.73" fill="#eeafb1"/>
<rect x="90.82" y="466.87" width="16.58" height="11.73" fill="#abcaeb"/>
<rect x="107.39" y="466.87" width="8.29" height="11.73" fill="#f9e2e3"/>
<rect x="115.67" y="466.87" width="8.29" height="11.73" fill="#dae7f6"/>
<rect x="123.96" y="466.87" width="8.29" height="11.73" fill="#f9e2e3"/>
<rect x="132.24" y="466.87" width="8.29" height="11.73" fill="#eeafb1"/>
<rect x="140.53" y="466.87" width="8.29" height="11.73" fill="#abcaeb"/>
<rect x="148.81" y="466.87" width="16.58" height="11.73" fill="#f9e2e3"/>
<rect x="165.38" y="466.87" width="8.29" height="11.73" fill="#abcaeb"/>
<rect x="173.67" y="466.87" width="8.29" height="11.73" fill="#eeafb1"/>
<rect x="181.95" y="466.87" width="16.58" height="11.73" fill="#81aee1"/>
<rect x="198.52" y="466.87" width="8.29" height="11.73" fill="#dae7f6"/>
<rect x="206.81" y="466.87" width="8.29" height="11.73" fill="#f9e2e3"/>
<rect x="215.09" y="466.87" width="8.29" height="11.73" fill="#abcaeb"/>
<rect x="223.38" y="466.87" width="8.29" height="11.73" fill="#81aee1"/>
<rect x="231.66" y="466.87" width="8.29" height="11.73" fill="#dae7f6"/>
<rect x="239.95" y="466.87" width="16.58" height="11.73" fill="#abcaeb"/>
<rect x="256.52" y="466.87" width="8.29" height="11.73" fill="#f9e2e3"/>
<rect x="264.8" y="466.87" width="8.29" height="11.73" fill="#eeafb1"/>
<rect x="273.09" y="466.87" width="8.29" height="11.73" fill="#dae7f6"/>
<rect x="281.37" y="466.87" width="8.29" height="11.73" fill="#eeafb1"/>
<rect x="289.66" y="466.87" width="8.29" height="11.73" fill="#dae7f6"/>
<rect x="297.94" y="466.87" width="24.86" height="11.73" fill="#eeafb1"/>
<rect x="322.79" y="466.87" width="8.29" height="11.73" fill="#f9e2e3"/>
<rect x="331.08" y="466.87" width="8.29" height="11.73" fill="#eeafb1"/>
<rect x="339.36" y="466.87" width="16.58" height="11.73" fill="#f9e2e3"/>
<rect x="355.93" y="466.87" width="8.29" height="11.73" fill="#abcaeb"/>
<rect x="364.22" y="466.87" width="8.29" height="11.73" fill="#e48082"/>
<rect x="372.5" y="466.87" width="41.43" height="11.73" fill="#eeafb1"/>
<rect x="413.93" y="466.87" width="8.29" height="11.73" fill="#dae7f6"/>
<rect x="422.21" y="466.87" width="8.29" height="11.73" fill="#81aee1"/>
<rect x="430.5" y="466.87" width="8.29" height="11.73" fill="#dae7f6"/>
<rect x="438.78" y="466.87" width="8.29" height="11.73" fill="#abcaeb"/>
<rect x="447.07" y="466.87" width="8.29" height="11.73" fill="#f9e2e3"/>
<rect x="455.35" y="466.87" width="16.58" height="11.73" fill="#dae7f6"/>
<rect x="471.92" y="466.87" width="8.29" height="11.73" fill="#e48082"/>
<rect x="480.21" y="466.87" width="8.29" height="11.73" fill="#dae7f6"/>
<rect x="488.49" y="466.87" width="8.29" height="11.73" fill="#e48082"/>
<rect x="496.78" y="466.87" width="8.29" height="11.73" fill="#f9e2e3"/>
<rect x="505.06" y="466.87" width="8.29" height="11.73" fill="#abcaeb"/>
<rect x="513.35" y="466.87" width="8.29" height="11.73" fill="#eeafb1"/>
<rect x="521.63" y="466.87" width="8.29" height="11.73" fill="#81aee1"/>
<rect x="529.92" y="466.87" width="8.29" height="11.73" fill="#eeafb1"/>
<rect x="74.25" y="478.58" width="8.29" height="11.73" fill="#2c78cd"/>
<rect x="82.53" y="478.58" width="8.29" height="11.73" fill="#f9e2e3"/>
<rect x="90.82" y="478.58" width="16.58" height="11.73" fill="#2c78cd"/>
<rect x="107.39" y="478.58" width="8.29" height="11.73" fill="#81aee1"/>
<rect x="115.67" y="478.58" width="8.29" height="11.73" fill="#5793d7"/>
<rect x="123.96" y="478.58" width="16.58" height="11.73" fill="#abcaeb"/>
<rect x="140.53" y="478.58" width="8.29" height="11.73" fill="#2c78cd"/>
<rect x="148.81" y="478.58" width="16.58" height="11.73" fill="#81aee1"/>
<rect x="165.38" y="478.58" width="8.29" height="11.73" fill="#2c78cd"/>
<rect x="173.67" y="478.58" width="8.29" height="11.73" fill="#f9e2e3"/>
<rect x="181.95" y="478.58" width="8.29" height="11.73" fill="#5793d7"/>
<rect x="190.24" y="478.58" width="8.29" height="11.73" fill="#0962c5"/>
<rect x="198.52" y="478.58" width="8.29" height="11.73" fill="#5793d7"/>
<rect x="206.81" y="478.58" width="16.58" height="11.73" fill="#81aee1"/>
<rect x="223.38" y="478.58" width="8.29" height="11.73" fill="#5793d7"/>
<rect x="231.66" y="478.58" width="8.29" height="11.73" fill="#81aee1"/>
<rect x="239.95" y="478.58" width="16.58" height="11.73" fill="#2c78cd"/>
<rect x="256.52" y="478.58" width="16.58" height="11.73" fill="#abcaeb"/>
<rect x="273.09" y="478.58" width="8.29" height="11.73" fill="#5793d7"/>
<rect x="281.37" y="478.58" width="8.29" height="11.73" fill="#f9e2e3"/>
<rect x="289.66" y="478.58" width="8.29" height="11.73" fill="#81aee1"/>
<rect x="297.94" y="478.58" width="24.86" height="11.73" fill="#abcaeb"/>
<rect x="322.79" y="478.58" width="8.29" height="11.73" fill="#0962c5"/>
<rect x="331.08" y="478.58" width="24.86" height="11.73" fill="#abcaeb"/>
<rect x="355.93" y="478.58" width="8.29" height="11.73" fill="#2c78cd"/>
<rect x="364.22" y="478.58" width="41.43" height="11.73" fill="#dae7f6"/>
<rect x="405.64" y="478.58" width="8.29" height="11.73" fill="#f9e2e3"/>
<rect x="413.93" y="478.58" width="8.29" height="11.73" fill="#81aee1"/>
<rect x="422.21" y="478.58" width="8.29" height="11.73" fill="#0962c5"/>
<rect x="430.5" y="478.58" width="8.29" height="11.73" fill="#abcaeb"/>
<rect x="438.78" y="478.58" width="16.58" height="11.73" fill="#2c78cd"/>
<rect x="455.35" y="478.58" width="8.29" height="11.73" fill="#5793d7"/>
<rect x="463.64" y="478.58" width="8.29" height="11.73" fill="#81aee1"/>
<rect x="471.92" y="478.58" width="8.29" height="11.73" fill="#dae7f6"/>
<rect x="480.21" y="478.58" width="8.29" height="11.73" fill="#81aee1"/>
<rect x="488.49" y="478.58" width="8.29" height="11.73" fill="#dae7f6"/>
<rect x="496.78" y="478.58" width="8.29" height="11.73" fill="#81aee1"/>
<rect x="505.06" y="478.58" width="8.29" height="11.73" fill="#2c78cd"/>
<rect x="513.35" y="478.58" width="8.29" height="11.73" fill="#dae7f6"/>
<rect x="521.63" y="478.58" width="8.29" height="11.73" fill="#0962c5"/>
<rect x="529.92" y="478.58" width="8.29" height="11.73" fill="#abcaeb"/>
<rect x="74.25" y="490.3" width="8.29" height="11.73" fill="#5793d7"/>
<rect x="82.53" y="490.3" width="8.29" height="11.73" fill="#abcaeb"/>
<rect x="90.82" y="490.3" width="16.58" height="11.73" fill="#2c78cd"/>
<rect x="107.39" y="490.3" width="8.29" height="11.73" fill="#abcaeb"/>
<rect x="115.67" y="490.3" width="8.29" height="11.73" fill="#0962c5"/>
<rect x="123.96" y="490.3" width="8.29" height="11.73" fill="#81aee1"/>
<rect x="132.24" y="490.3" width="8.29" height="11.73" fill="#abcaeb"/>
<rect x="140.53" y="490.3" width="8.29" height="11.73" fill="#2c78cd"/>
<rect x="148.81" y="490.3" width="8.29" height="11.73" fill="#81aee1"/>
<rect x="157.1" y="490.3" width="8.29" height="11.73" fill="#5793d7"/>
<rect x="165.38" y="490.3" width="8.29" height="11.73" fill="#81aee1"/>
<rect x="173.67" y="490.3" width="8.29" height="11.73" fill="#dae7f6"/>
<rect x="181.95" y="490.3" width="8.29" height="11.73" fill="#81aee1"/>
<rect x="190.24" y="490.3" width="8.29" height="11.73" fill="#2c78cd"/>
<rect x="198.52" y="490.3" width="8.29" height="11.73" fill="#0962c5"/>
<rect x="206.81" y="490.3" width="8.29" height="11.73" fill="#abcaeb"/>
<rect x="215.09" y="490.3" width="16.58" height="11.73" fill="#0962c5"/>
<rect x="231.66" y="490.3" width="8.29" height="11.73" fill="#2c78cd"/>
<rect x="239.95" y="490.3" width="8.29" height="11.73" fill="#0962c5"/>
<rect x="248.23" y="490.3" width="8.29" height="11.73" fill="#5793d7"/>
<rect x="256.52" y="490.3" width="8.29" height="11.73" fill="#81aee1"/>
<rect x="264.8" y="490.3" width="8.29" height="11.73" fill="#dae7f6"/>
<rect x="273.09" y="490.3" width="8.29" height="11.73" fill="#5793d7"/>
<rect x="281.37" y="490.3" width="8.29" height="11.73" fill="#dae7f6"/>
<rect x="289.66" y="490.3" width="8.29" height="11.73" fill="#81aee1"/>
<rect x="297.94" y="490.3" width="8.29" height="11.73" fill="#0962c5"/>
<rect x="306.23" y="490.3" width="8.29" height="11.73" fill="#dae7f6"/>
<rect x="314.51" y="490.3" width="8.29" height="11.73" fill="#abcaeb"/>
<rect x="322.79" y="490.3" width="8.29" height="11.73" fill="#0962c5"/>
<rect x="331.08" y="490.3" width="8.29" height="11.73" fill="#dae7f6"/>
<rect x="339.36" y="490.3" width="8.29" height="11.73" fill="#5793d7"/>
<rect x="347.65" y="490.3" width="8.29" height="11.73" fill="#dae7f6"/>
<rect x="355.93" y="490.3" width="8.29" height="11.73" fill="#0962c5"/>
<rect x="364.22" y="490.3" width="8.29" height="11.73" fill="#dae7f6"/>
<rect x="372.5" y="490.3" width="8.29" height="11.73" fill="#5793d7"/>
<rect x="380.79" y="490.3" width="8.29" height="11.73" fill="#f9e2e3"/>
<rect x="389.07" y="490.3" width="8.29" height="11.73" fill="#81aee1"/>
<rect x="397.36" y="490.3" width="8.29" height="11.73" fill="#dae7f6"/>
<rect x="405.64" y="490.3" width="8.29" height="11.73" fill="#0962c5"/>
<rect x="413.93" y="490.3" width="8.29" height="11.73" fill="#abcaeb"/>
<rect x="422.21" y="490.3" width="16.58" height="11.73" fill="#0962c5"/>
<rect x="438.78" y="490.3" width="8.29" height="11.73" fill="#81aee1"/>
<rect x="447.07" y="490.3" width="8.29" height="11.73" fill="#0962c5"/>
<rect x="455.35" y="490.3" width="24.86" height="11.73" fill="#abcaeb"/>
<rect x="480.21" y="490.3" width="8.29" height="11.73" fill="#5793d7"/>
<rect x="488.49" y="490.3" width="8.29" height="11.73" fill="#f9e2e3"/>
<rect x="496.78" y="490.3" width="8.29" height="11.73" fill="#5793d7"/>
<rect x="505.06" y="490.3" width="8.29" height="11.73" fill="#0962c5"/>
<rect x="513.35" y="490.3" width="8.29" height="11.73" fill="#dae7f6"/>
<rect x="521.63" y="490.3" width="8.29" height="11.73" fill="#0962c5"/>
<rect x="529.92" y="490.3" width="8.29" height="11.73" fill="#dae7f6"/>
<rect x="74.25" y="502.01" width="8.29" height="11.73" fill="#2c78cd"/>
<rect x="82.53" y="502.01" width="8.29" height="11.73" fill="#eeafb1"/>
<rect x="90.82" y="502.01" width="8.29" height="11.73" fill="#2c78cd"/>
<rect x="99.1" y="502.01" width="8.29" height="11.73" fill="#5793d7"/>
<rect x="107.39" y="502.01" width="16.58" height="11.73" fill="#81aee1"/>
<rect x="123.96" y="502.01" width="8.29" height="11.73" fill="#abcaeb"/>
<rect x="132.24" y="502.01" width="8.29" height="11.73" fill="#dae7f6"/>
<rect x="140.53" y="502.01" width="8.29" height="11.73" fill="#2c78cd"/>
<rect x="148.81" y="502.01" width="8.29" height="11.73" fill="#81aee1"/>
<rect x="157.1" y="502.01" width="8.29" height="11.73" fill="#5793d7"/>
<rect x="165.38" y="502.01" width="8.29" height="11.73" fill="#2c78cd"/>
<rect x="173.67" y="502.01" width="8.29" height="11.73" fill="#f9e2e3"/>
<rect x="181.95" y="502.01" width="16.58" height="11.73" fill="#2c78cd"/>
<rect x="198.52" y="502.01" width="24.86" height="11.73" fill="#81aee1"/>
<rect x="223.38" y="502.01" width="8.29" height="11.73" fill="#5793d7"/>
<rect x="231.66" y="502.01" width="8.29" height="11.73" fill="#abcaeb"/>
<rect x="239.95" y="502.01" width="8.29" height="11.73" fill="#5793d7"/>
<rect x="248.23" y="502.01" width="8.29" height="11.73" fill="#2c78cd"/>
<rect x="256.52" y="502.01" width="8.29" height="11.73" fill="#81aee1"/>
<rect x="264.8" y="502.01" width="8.29" height="11.73" fill="#abcaeb"/>
<rect x="273.09" y="502.01" width="8.29" height="11.73" fill="#5793d7"/>
<rect x="281.37" y="502.01" width="8.29" height="11.73" fill="#dae7f6"/>
<rect x="289.66" y="502.01" width="8.29" height="11.73" fill="#5793d7"/>
<rect x="297.94" y="502.01" width="8.29" height="11.73" fill="#dae7f6"/>
<rect x="306.23" y="502.01" width="8.29" height="11.73" fill="#abcaeb"/>
<rect x="314.51" y="502.01" width="8.29" height="11.73" fill="#dae7f6"/>
<rect x="322.79" y="502.01" width="8.29" height="11.73" fill="#81aee1"/>
<rect x="331.08" y="502.01" width="24.86" height="11.73" fill="#abcaeb"/>
<rect x="355.93" y="502.01" width="8.29" height="11.73" fill="#2c78cd"/>
<rect x="364.22" y="502.01" width="49.72" height="11.73" fill="#f9e2e3"/>
<rect x="413.93" y="502.01" width="8.29" height="11.73" fill="#81aee1"/>
<rect x="422.21" y="502.01" width="8.29" height="11.73" fill="#2c78cd"/>
<rect x="430.5" y="502.01" width="8.29" height="11.73" fill="#abcaeb"/>
<rect x="438.78" y="502.01" width="8.29" height="11.73" fill="#2c78cd"/>
<rect x="447.07" y="502.01" width="8.29" height="11.73" fill="#5793d7"/>
<rect x="455.35" y="502.01" width="16.58" height="11.73" fill="#81aee1"/>
<rect x="471.92" y="502.01" width="8.29" height="11.73" fill="#dae7f6"/>
<rect x="480.21" y="502.01" width="8.29" height="11.73" fill="#81aee1"/>
<rect x="488.49" y="502.01" width="8.29" height="11.73" fill="#dae7f6"/>
<rect x="496.78" y="502.01" width="8.29" height="11.73" fill="#81aee1"/>
<rect x="505.06" y="502.01" width="8.29" height="11.73" fill="#2c78cd"/>
<rect x="513.35" y="502.01" width="8.29" height="11.73" fill="#dae7f6"/>
<rect x="521.63" y="502.01" width="8.29" height="11.73" fill="#2c78cd"/>
<rect x="529.92" y="502.01" width="8.29" height="11.73" fill="#abcaeb"/>
<rect x="74.25" y="513.73" width="8.29" height="11.73" fill="#dae7f6"/>
<rect x="82.53" y="513.73" width="8.29" height="11.73" fill="#db595c"/>
<rect x="90.82" y="513.73" width="16.58" height="11.73" fill="#f9e2e3"/>
<rect x="107.39" y="513.73" width="16.58" height="11.73" fill="#eeafb1"/>
<rect x="123.96" y="513.73" width="8.29" height="11.73" fill="#e48082"/>
<rect x="132.24" y="513.73" width="8.29" height="11.73" fill="#db595c"/>
<rect x="140.53" y="513.73" width="8.29" height="11.73" fill="#f9e2e3"/>
<rect x="148.81" y="513.73" width="16.58" height="11.73" fill="#e48082"/>
<rect x="165.38" y="513.73" width="8.29" height="11.73" fill="#f9e2e3"/>
<rect x="173.67" y="513.73" width="8.29" height="11.73" fill="#db595c"/>
<rect x="181.95" y="513.73" width="16.58" height="11.73" fill="#dae7f6"/>
<rect x="198.52" y="513.73" width="8.29" height="11.73" fill="#eeafb1"/>
<rect x="206.81" y="513.73" width="8.29" height="11.73" fill="#e48082"/>
<rect x="215.09" y="513.73" width="8.29" height="11.73" fill="#f9e2e3"/>
<rect x="223.38" y="513.73" width="8.29" height="11.73" fill="#dae7f6"/>
<rect x="231.66" y="513.73" width="8.29" height="11.73" fill="#eeafb1"/>
<rect x="239.95" y="513.73" width="16.58" height="11.73" fill="#dae7f6"/>
<rect x="256.52" y="513.73" width="8.29" height="11.73" fill="#eeafb1"/>
<rect x="264.8" y="513.73" width="8.29" height="11.73" fill="#db595c"/>
<rect x="273.09" y="513.73" width="8.29" height="11.73" fill="#eeafb1"/>
<rect x="281.37" y="513.73" width="8.29" height="11.73" fill="#db595c"/>
<rect x="289.66" y="513.73" width="8.29" height="11.73" fill="#eeafb1"/>
<rect x="297.94" y="513.73" width="16.58" height="11.73" fill="#e48082"/>
<rect x="314.51" y="513.73" width="8.29" height="11.73" fill="#db595c"/>
<rect x="322.79" y="513.73" width="33.15" height="11.73" fill="#e48082"/>
<rect x="355.93" y="513.73" width="8.29" height="11.73" fill="#f9e2e3"/>
<rect x="364.22" y="513.73" width="33.15" height="11.73" fill="#db595c"/>
<rect x="397.36" y="513.73" width="8.29" height="11.73" fill="#e48082"/>
<rect x="405.64" y="513.73" width="8.29" height="11.73" fill="#db595c"/>
<rect x="413.93" y="513.73" width="8.29" height="11.73" fill="#eeafb1"/>
<rect x="422.21" y="513.73" width="8.29" height="11.73" fill="#f9e2e3"/>
<rect x="430.5" y="513.73" width="8.29" height="11.73" fill="#eeafb1"/>
<rect x="438.78" y="513.73" width="8.29" height="11.73" fill="#f9e2e3"/>
<rect x="447.07" y="513.73" width="24.86" height="11.73" fill="#eeafb1"/>
<rect x="471.92" y="513.73" width="8.29" height="11.73" fill="#db595c"/>
<rect x="480.21" y="513.73" width="8.29" height="11.73" fill="#eeafb1"/>
<rect x="488.49" y="513.73" width="8.29" height="11.73" fill="#db595c"/>
<rect x="496.78" y="513.73" width="8.29" height="11.73" fill="#e48082"/>
<rect x="505.06" y="513.73" width="8.29" height="11.73" fill="#f9e2e3"/>
<rect x="513.35" y="513.73" width="8.29" height="11.73" fill="#db595c"/>
<rect x="521.63" y="513.73" width="8.29" height="11.73" fill="#dae7f6"/>
<rect x="529.92" y="513.73" width="8.29" height="11.73" fill="#e48082"/>
<rect x="74.25" y="525.44" width="8.29" height="11.73" fill="#dae7f6"/>
<rect x="82.53" y="525.44" width="8.29" height="11.73" fill="#db595c"/>
<rect x="90.82" y="525.44" width="8.29" height="11.73" fill="#f9e2e3"/>
<rect x="99.1" y="525.44" width="8.29" height="11.73" fill="#dae7f6"/>
<rect x="107.39" y="525.44" width="8.29" height="11.73" fill="#eeafb1"/>
<rect x="115.67" y="525.44" width="8.29" height="11.73" fill="#f9e2e3"/>
<rect x="123.96" y="525.44" width="16.58" height="11.73" fill="#e48082"/>
<rect x="140.53" y="525.44" width="8.29" height="11.73" fill="#dae7f6"/>
<rect x="148.81" y="525.44" width="16.58" height="11.73" fill="#eeafb1"/>
<rect x="165.38" y="525.44" width="8.29" height="11.73" fill="#dae7f6"/>
<rect x="173.67" y="525.44" width="8.29" height="11.73" fill="#db595c"/>
<rect x="181.95" y="525.44" width="16.58" height="11.73" fill="#81aee1"/>
<rect x="198.52" y="525.44" width="8.29" height="11.73" fill="#dae7f6"/>
<rect x="206.81" y="525.44" width="8.29" height="11.73" fill="#eeafb1"/>
<rect x="215.09" y="525.44" width="8.29" height="11.73" fill="#f9e2e3"/>
<rect x="223.38" y="525.44" width="8.29" height="11.73" fill="#dae7f6"/>
<rect x="231.66" y="525.44" width="8.29" height="11.73" fill="#eeafb1"/>
<rect x="239.95" y="525.44" width="16.58" height="11.73" fill="#dae7f6"/>
<rect x="256.52" y="525.44" width="8.29" height="11.73" fill="#eeafb1"/>
<rect x="264.8" y="525.44" width="8.29" height="11.73" fill="#db595c"/>
<rect x="273.09" y="525.44" width="8.29" height="11.73" fill="#f9e2e3"/>
<rect x="281.37" y="525.44" width="8.29" height="11.73" fill="#db595c"/>
<rect x="289.66" y="525.44" width="8.29" height="11.73" fill="#f9e2e3"/>
<rect x="297.94" y="525.44" width="33.15" height="11.73" fill="#e48082"/>
<rect x="331.08" y="525.44" width="8.29" height="11.73" fill="#db595c"/>
<rect x="339.36" y="525.44" width="16.58" height="11.73" fill="#e48082"/>
<rect x="355.93" y="525.44" width="8.29" height="11.73" fill="#dae7f6"/>
<rect x="364.22" y="525.44" width="33.15" height="11.73" fill="#db595c"/>
<rect x="397.36" y="525.44" width="8.29" height="11.73" fill="#e48082"/>
<rect x="405.64" y="525.44" width="8.29" height="11.73" fill="#db595c"/>
<rect x="413.93" y="525.44" width="8.29" height="11.73" fill="#eeafb1"/>
<rect x="422.21" y="525.44" width="8.29" height="11.73" fill="#f9e2e3"/>
<rect x="430.5" y="525.44" width="8.29" height="11.73" fill="#eeafb1"/>
<rect x="438.78" y="525.44" width="8.29" height="11.73" fill="#dae7f6"/>
<rect x="447.07" y="525.44" width="24.86" height="11.73" fill="#eeafb1"/>
<rect x="471.92" y="525.44" width="8.29" height="11.73" fill="#db595c"/>
<rect x="480.21" y="525.44" width="8.29" height="11.73" fill="#eeafb1"/>
<rect x="488.49" y="525.44" width="8.29" height="11.73" fill="#db595c"/>
<rect x="496.78" y="525.44" width="8.29" height="11.73" fill="#eeafb1"/>
<rect x="505.06" y="525.44" width="8.29" height="11.73" fill="#f9e2e3"/>
<rect x="513.35" y="525.44" width="8.29" height="11.73" fill="#e48082"/>
<rect x="521.63" y="525.44" width="8.29" height="11.73" fill="#dae7f6"/>
<rect x="529.92" y="525.44" width="8.29" height="11.73" fill="#e48082"/>
<rect x="74.25" y="537.16" width="8.29" height="11.73" fill="#eeafb1"/>
<rect x="82.53" y="537.16" width="8.29" height="11.73" fill="#e48082"/>
<rect x="90.82" y="537.16" width="8.29" height="11.73" fill="#eeafb1"/>
<rect x="99.1" y="537.16" width="8.29" height="11.73" fill="#f9e2e3"/>
<rect x="107.39" y="537.16" width="24.86" height="11.73" fill="#eeafb1"/>
<rect x="132.24" y="537.16" width="8.29" height="11.73" fill="#e48082"/>
<rect x="140.53" y="537.16" width="24.86" height="11.73" fill="#eeafb1"/>
<rect x="165.38" y="537.16" width="8.29" height="11.73" fill="#f9e2e3"/>
<rect x="173.67" y="537.16" width="8.29" height="11.73" fill="#e48082"/>
<rect x="181.95" y="537.16" width="16.58" height="11.73" fill="#f9e2e3"/>
<rect x="198.52" y="537.16" width="16.58" height="11.73" fill="#e48082"/>
<rect x="215.09" y="537.16" width="8.29" height="11.73" fill="#f9e2e3"/>
<rect x="223.38" y="537.16" width="8.29" height="11.73" fill="#dae7f6"/>
<rect x="231.66" y="537.16" width="8.29" height="11.73" fill="#eeafb1"/>
<rect x="239.95" y="537.16" width="8.29" height="11.73" fill="#dae7f6"/>
<rect x="248.23" y="537.16" width="16.58" height="11.73" fill="#eeafb1"/>
<rect x="264.8" y="537.16" width="24.86" height="11.73" fill="#e48082"/>
<rect x="289.66" y="537.16" width="8.29" height="11.73" fill="#f9e2e3"/>
<rect x="297.94" y="537.16" width="8.29" height="11.73" fill="#e48082"/>
<rect x="306.23" y="537.16" width="24.86" height="11.73" fill="#eeafb1"/>
<rect x="331.08" y="537.16" width="8.29" height="11.73" fill="#e48082"/>
<rect x="339.36" y="537.16" width="16.58" height="11.73" fill="#eeafb1"/>
<rect x="355.93" y="537.16" width="8.29" height="11.73" fill="#f9e2e3"/>
<rect x="364.22" y="537.16" width="8.29" height="11.73" fill="#e48082"/>
<rect x="372.5" y="537.16" width="8.29" height="11.73" fill="#eeafb1"/>
<rect x="380.79" y="537.16" width="8.29" height="11.73" fill="#e48082"/>
<rect x="389.07" y="537.16" width="8.29" height="11.73" fill="#f9e2e3"/>
<rect x="397.36" y="537.16" width="16.58" height="11.73" fill="#e48082"/>
<rect x="413.93" y="537.16" width="8.29" height="11.73" fill="#f9e2e3"/>
<rect x="422.21" y="537.16" width="33.15" height="11.73" fill="#eeafb1"/>
<rect x="455.35" y="537.16" width="8.29" height="11.73" fill="#f9e2e3"/>
<rect x="463.64" y="537.16" width="8.29" height="11.73" fill="#eeafb1"/>
<rect x="471.92" y="537.16" width="8.29" height="11.73" fill="#e48082"/>
<rect x="480.21" y="537.16" width="8.29" height="11.73" fill="#f9e2e3"/>
<rect x="488.49" y="537.16" width="8.29" height="11.73" fill="#e48082"/>
<rect x="496.78" y="537.16" width="16.58" height="11.73" fill="#eeafb1"/>
<rect x="513.35" y="537.16" width="8.29" height="11.73" fill="#e48082"/>
<rect x="521.63" y="537.16" width="8.29" height="11.73" fill="#eeafb1"/>
<rect x="529.92" y="537.16" width="8.29" height="11.73" fill="#e48082"/>
<rect x="74.25" y="548.88" width="16.58" height="11.73" fill="#abcaeb"/>
<rect x="90.82" y="548.88" width="33.15" height="11.73" fill="#81aee1"/>
<rect x="123.96" y="548.88" width="8.29" height="11.73" fill="#abcaeb"/>
<rect x="132.24" y="548.88" width="33.15" height="11.73" fill="#81aee1"/>
<rect x="165.38" y="548.88" width="8.29" height="11.73" fill="#abcaeb"/>
<rect x="173.67" y="548.88" width="8.29" height="11.73" fill="#f9e2e3"/>
<rect x="181.95" y="548.88" width="16.58" height="11.73" fill="#5793d7"/>
<rect x="198.52" y="548.88" width="8.29" height="11.73" fill="#abcaeb"/>
<rect x="206.81" y="548.88" width="16.58" height="11.73" fill="#81aee1"/>
<rect x="223.38" y="548.88" width="8.29" height="11.73" fill="#5793d7"/>
<rect x="231.66" y="548.88" width="8.29" height="11.73" fill="#abcaeb"/>
<rect x="239.95" y="548.88" width="8.29" height="11.73" fill="#81aee1"/>
<rect x="248.23" y="548.88" width="8.29" height="11.73" fill="#5793d7"/>
<rect x="256.52" y="548.88" width="8.29" height="11.73" fill="#dae7f6"/>
<rect x="264.8" y="548.88" width="8.29" height="11.73" fill="#81aee1"/>
<rect x="273.09" y="548.88" width="8.29" height="11.73" fill="#abcaeb"/>
<rect x="281.37" y="548.88" width="8.29" height="11.73" fill="#dae7f6"/>
<rect x="289.66" y="548.88" width="8.29" height="11.73" fill="#81aee1"/>
<rect x="297.94" y="548.88" width="24.86" height="11.73" fill="#abcaeb"/>
<rect x="322.79" y="548.88" width="8.29" height="11.73" fill="#81aee1"/>
<rect x="331.08" y="548.88" width="8.29" height="11.73" fill="#dae7f6"/>
<rect x="339.36" y="548.88" width="8.29" height="11.73" fill="#abcaeb"/>
<rect x="347.65" y="548.88" width="24.86" height="11.73" fill="#81aee1"/>
<rect x="372.5" y="548.88" width="8.29" height="11.73" fill="#abcaeb"/>
<rect x="380.79" y="548.88" width="8.29" height="11.73" fill="#dae7f6"/>
<rect x="389.07" y="548.88" width="8.29" height="11.73" fill="#81aee1"/>
<rect x="397.36" y="548.88" width="8.29" height="11.73" fill="#dae7f6"/>
<rect x="405.64" y="548.88" width="8.29" height="11.73" fill="#f9e2e3"/>
<rect x="413.93" y="548.88" width="16.58" height="11.73" fill="#81aee1"/>
<rect x="430.5" y="548.88" width="16.58" height="11.73" fill="#abcaeb"/>
<rect x="447.07" y="548.88" width="8.29" height="11.73" fill="#81aee1"/>
<rect x="455.35" y="548.88" width="8.29" height="11.73" fill="#5793d7"/>
<rect x="463.64" y="548.88" width="8.29" height="11.73" fill="#abcaeb"/>
<rect x="471.92" y="548.88" width="8.29" height="11.73" fill="#dae7f6"/>
<rect x="480.21" y="548.88" width="16.58" height="11.73" fill="#abcaeb"/>
<rect x="496.78" y="548.88" width="16.58" height="11.73" fill="#81aee1"/>
<rect x="513.35" y="548.88" width="8.29" height="11.73" fill="#abcaeb"/>
<rect x="521.63" y="548.88" width="8.29" height="11.73" fill="#5793d7"/>
<rect x="529.92" y="548.88" width="8.29" height="11.73" fill="#abcaeb"/>
<rect x="74.25" y="560.59" width="49.72" height="11.73" fill="#5793d7"/>
<rect x="123.96" y="560.59" width="8.29" height="11.73" fill="#81aee1"/>
<rect x="132.24" y="560.59" width="41.43" height="11.73" fill="#5793d7"/>
<rect x="173.67" y="560.59" width="8.29" height="11.73" fill="#dae7f6"/>
<rect x="181.95" y="560.59" width="8.29" height="11.73" fill="#5793d7"/>
<rect x="190.24" y="560.59" width="8.29" height="11.73" fill="#81aee1"/>
<rect x="198.52" y="560.59" width="24.86" height="11.73" fill="#5793d7"/>
<rect x="223.38" y="560.59" width="8.29" height="11.73" fill="#2c78cd"/>
<rect x="231.66" y="560.59" width="8.29" height="11.73" fill="#5793d7"/>
<rect x="239.95" y="560.59" width="8.29" height="11.73" fill="#2c78cd"/>
<rect x="248.23" y="560.59" width="33.15" height="11.73" fill="#5793d7"/>
<rect x="281.37" y="560.59" width="8.29" height="11.73" fill="#81aee1"/>
<rect x="289.66" y="560.59" width="8.29" height="11.73" fill="#5793d7"/>
<rect x="297.94" y="560.59" width="8.29" height="11.73" fill="#81aee1"/>
<rect x="306.23" y="560.59" width="8.29" height="11.73" fill="#5793d7"/>
<rect x="314.51" y="560.59" width="8.29" height="11.73" fill="#81aee1"/>
<rect x="322.79" y="560.59" width="8.29" height="11.73" fill="#5793d7"/>
<rect x="331.08" y="560.59" width="8.29" height="11.73" fill="#81aee1"/>
<rect x="339.36" y="560.59" width="33.15" height="11.73" fill="#5793d7"/>
<rect x="372.5" y="560.59" width="16.58" height="11.73" fill="#81aee1"/>
<rect x="389.07" y="560.59" width="8.29" height="11.73" fill="#5793d7"/>
<rect x="397.36" y="560.59" width="8.29" height="11.73" fill="#81aee1"/>
<rect x="405.64" y="560.59" width="8.29" height="11.73" fill="#abcaeb"/>
<rect x="413.93" y="560.59" width="16.58" height="11.73" fill="#81aee1"/>
<rect x="430.5" y="560.59" width="8.29" height="11.73" fill="#2c78cd"/>
<rect x="438.78" y="560.59" width="8.29" height="11.73" fill="#81aee1"/>
<rect x="447.07" y="560.59" width="16.58" height="11.73" fill="#5793d7"/>
<rect x="463.64" y="560.59" width="16.58" height="11.73" fill="#81aee1"/>
<rect x="480.21" y="560.59" width="33.15" height="11.73" fill="#5793d7"/>
<rect x="513.35" y="560.59" width="8.29" height="11.73" fill="#81aee1"/>
<rect x="521.63" y="560.59" width="8.29" height="11.73" fill="#2c78cd"/>
<rect x="529.92" y="560.59" width="8.29" height="11.73" fill="#81aee1"/>
<rect x="74.25" y="572.31" width="463.96" height="11.73" fill="#0962c5"/>
<rect x="74.25" y="584.02" width="149.14" height="11.73" fill="#0962c5"/>
<rect x="223.38" y="584.02" width="8.29" height="11.73" fill="#5793d7"/>
<rect x="231.66" y="584.02" width="33.15" height="11.73" fill="#0962c5"/>
<rect x="264.8" y="584.02" width="8.29" height="11.73" fill="#2c78cd"/>
<rect x="273.09" y="584.02" width="8.29" height="11.73" fill="#0962c5"/>
<rect x="281.37" y="584.02" width="8.29" height="11.73" fill="#2c78cd"/>
<rect x="289.66" y="584.02" width="41.43" height="11.73" fill="#0962c5"/>
<rect x="331.08" y="584.02" width="8.29" height="11.73" fill="#2c78cd"/>
<rect x="339.36" y="584.02" width="24.86" height="11.73" fill="#0962c5"/>
<rect x="364.22" y="584.02" width="16.58" height="11.73" fill="#2c78cd"/>
<rect x="380.79" y="584.02" width="8.29" height="11.73" fill="#0962c5"/>
<rect x="389.07" y="584.02" width="8.29" height="11.73" fill="#2c78cd"/>
<rect x="397.36" y="584.02" width="8.29" height="11.73" fill="#0962c5"/>
<rect x="405.64" y="584.02" width="8.29" height="11.73" fill="#2c78cd"/>
<rect x="413.93" y="584.02" width="8.29" height="11.73" fill="#0962c5"/>
<rect x="422.21" y="584.02" width="8.29" height="11.73" fill="#2c78cd"/>
<rect x="430.5" y="584.02" width="33.15" height="11.73" fill="#0962c5"/>
<rect x="463.64" y="584.02" width="8.29" height="11.73" fill="#2c78cd"/>
<rect x="471.92" y="584.02" width="49.72" height="11.73" fill="#0962c5"/>
<rect x="521.63" y="584.02" width="8.29" height="11.73" fill="#2c78cd"/>
<rect x="529.92" y="584.02" width="8.29" height="11.73" fill="#0962c5"/>
<rect x="74.25" y="595.74" width="8.29" height="11.73" fill="#0962c5"/>
<rect x="82.53" y="595.74" width="8.29" height="11.73" fill="#81aee1"/>
<rect x="90.82" y="595.74" width="16.58" height="11.73" fill="#0962c5"/>
<rect x="107.39" y="595.74" width="8.29" height="11.73" fill="#2c78cd"/>
<rect x="115.67" y="595.74" width="8.29" height="11.73" fill="#0962c5"/>
<rect x="123.96" y="595.74" width="8.29" height="11.73" fill="#2c78cd"/>
<rect x="132.24" y="595.74" width="8.29" height="11.73" fill="#5793d7"/>
<rect x="140.53" y="595.74" width="33.15" height="11.73" fill="#0962c5"/>
<rect x="173.67" y="595.74" width="16.58" height="11.73" fill="#5793d7"/>
<rect x="190.24" y="595.74" width="16.58" height="11.73" fill="#0962c5"/>
<rect x="206.81" y="595.74" width="8.29" height="11.73" fill="#5793d7"/>
<rect x="215.09" y="595.74" width="16.58" height="11.73" fill="#0962c5"/>
<rect x="231.66" y="595.74" width="8.29" height="11.73" fill="#2c78cd"/>
<rect x="239.95" y="595.74" width="33.15" height="11.73" fill="#0962c5"/>
<rect x="273.09" y="595.74" width="8.29" height="11.73" fill="#2c78cd"/>
<rect x="281.37" y="595.74" width="8.29" height="11.73" fill="#81aee1"/>
<rect x="289.66" y="595.74" width="8.29" height="11.73" fill="#0962c5"/>
<rect x="297.94" y="595.74" width="8.29" height="11.73" fill="#2c78cd"/>
<rect x="306.23" y="595.74" width="8.29" height="11.73" fill="#0962c5"/>
<rect x="314.51" y="595.74" width="8.29" height="11.73" fill="#5793d7"/>
<rect x="322.79" y="595.74" width="8.29" height="11.73" fill="#0962c5"/>
<rect x="331.08" y="595.74" width="8.29" height="11.73" fill="#5793d7"/>
<rect x="339.36" y="595.74" width="8.29" height="11.73" fill="#2c78cd"/>
<rect x="347.65" y="595.74" width="16.58" height="11.73" fill="#0962c5"/>
<rect x="364.22" y="595.74" width="8.29" height="11.73" fill="#2c78cd"/>
<rect x="372.5" y="595.74" width="8.29" height="11.73" fill="#0962c5"/>
<rect x="380.79" y="595.74" width="8.29" height="11.73" fill="#81aee1"/>
<rect x="389.07" y="595.74" width="8.29" height="11.73" fill="#0962c5"/>
<rect x="397.36" y="595.74" width="16.58" height="11.73" fill="#2c78cd"/>
<rect x="413.93" y="595.74" width="8.29" height="11.73" fill="#0962c5"/>
<rect x="422.21" y="595.74" width="8.29" height="11.73" fill="#2c78cd"/>
<rect x="430.5" y="595.74" width="8.29" height="11.73" fill="#0962c5"/>
<rect x="438.78" y="595.74" width="8.29" height="11.73" fill="#5793d7"/>
<rect x="447.07" y="595.74" width="16.58" height="11.73" fill="#0962c5"/>
<rect x="463.64" y="595.74" width="8.29" height="11.73" fill="#5793d7"/>
<rect x="471.92" y="595.74" width="8.29" height="11.73" fill="#0962c5"/>
<rect x="480.21" y="595.74" width="8.29" height="11.73" fill="#2c78cd"/>
<rect x="488.49" y="595.74" width="8.29" height="11.73" fill="#5793d7"/>
<rect x="496.78" y="595.74" width="16.58" height="11.73" fill="#0962c5"/>
<rect x="513.35" y="595.74" width="8.29" height="11.73" fill="#5793d7"/>
<rect x="521.63" y="595.74" width="8.29" height="11.73" fill="#0962c5"/>
<rect x="529.92" y="595.74" width="8.29" height="11.73" fill="#2c78cd"/>
<rect x="74.25" y="607.45" width="8.29" height="11.73" fill="#0962c5"/>
<rect x="82.53" y="607.45" width="8.29" height="11.73" fill="#81aee1"/>
<rect x="90.82" y="607.45" width="24.86" height="11.73" fill="#0962c5"/>
<rect x="115.67" y="607.45" width="8.29" height="11.73" fill="#abcaeb"/>
<rect x="123.96" y="607.45" width="8.29" height="11.73" fill="#0962c5"/>
<rect x="132.24" y="607.45" width="8.29" height="11.73" fill="#2c78cd"/>
<rect x="140.53" y="607.45" width="16.58" height="11.73" fill="#0962c5"/>
<rect x="157.1" y="607.45" width="16.58" height="11.73" fill="#2c78cd"/>
<rect x="173.67" y="607.45" width="8.29" height="11.73" fill="#5793d7"/>
<rect x="181.95" y="607.45" width="33.15" height="11.73" fill="#0962c5"/>
<rect x="215.09" y="607.45" width="8.29" height="11.73" fill="#2c78cd"/>
<rect x="223.38" y="607.45" width="33.15" height="11.73" fill="#0962c5"/>
<rect x="256.52" y="607.45" width="8.29" height="11.73" fill="#2c78cd"/>
<rect x="264.8" y="607.45" width="16.58" height="11.73" fill="#0962c5"/>
<rect x="281.37" y="607.45" width="8.29" height="11.73" fill="#81aee1"/>
<rect x="289.66" y="607.45" width="33.15" height="11.73" fill="#2c78cd"/>
<rect x="322.79" y="607.45" width="8.29" height="11.73" fill="#0962c5"/>
<rect x="331.08" y="607.45" width="24.86" height="11.73" fill="#2c78cd"/>
<rect x="355.93" y="607.45" width="8.29" height="11.73" fill="#0962c5"/>
<rect x="364.22" y="607.45" width="16.58" height="11.73" fill="#2c78cd"/>
<rect x="380.79" y="607.45" width="8.29" height="11.73" fill="#5793d7"/>
<rect x="389.07" y="607.45" width="16.58" height="11.73" fill="#0962c5"/>
<rect x="405.64" y="607.45" width="8.29" height="11.73" fill="#2c78cd"/>
<rect x="413.93" y="607.45" width="49.72" height="11.73" fill="#0962c5"/>
<rect x="463.64" y="607.45" width="8.29" height="11.73" fill="#2c78cd"/>
<rect x="471.92" y="607.45" width="8.29" height="11.73" fill="#5793d7"/>
<rect x="480.21" y="607.45" width="8.29" height="11.73" fill="#0962c5"/>
<rect x="488.49" y="607.45" width="16.58" height="11.73" fill="#2c78cd"/>
<rect x="505.06" y="607.45" width="8.29" height="11.73" fill="#0962c5"/>
<rect x="513.35" y="607.45" width="8.29" height="11.73" fill="#2c78cd"/>
<rect x="521.63" y="607.45" width="16.58" height="11.73" fill="#0962c5"/>
<rect x="74.25" y="619.17" width="8.29" height="11.73" fill="#5793d7"/>
<rect x="82.53" y="619.17" width="16.58" height="11.73" fill="#abcaeb"/>
<rect x="99.1" y="619.17" width="8.29" height="11.73" fill="#5793d7"/>
<rect x="107.39" y="619.17" width="16.58" height="11.73" fill="#0962c5"/>
<rect x="123.96" y="619.17" width="8.29" height="11.73" fill="#2c78cd"/>
<rect x="132.24" y="619.17" width="8.29" height="11.73" fill="#0962c5"/>
<rect x="140.53" y="619.17" width="8.29" height="11.73" fill="#dae7f6"/>
<rect x="148.81" y="619.17" width="16.58" height="11.73" fill="#2c78cd"/>
<rect x="165.38" y="619.17" width="8.29" height="11.73" fill="#5793d7"/>
<rect x="173.67" y="619.17" width="8.29" height="11.73" fill="#f9e2e3"/>
<rect x="181.95" y="619.17" width="8.29" height="11.73" fill="#2c78cd"/>
<rect x="190.24" y="619.17" width="8.29" height="11.73" fill="#0962c5"/>
<rect x="198.52" y="619.17" width="8.29" height="11.73" fill="#dae7f6"/>
<rect x="206.81" y="619.17" width="8.29" height="11.73" fill="#abcaeb"/>
<rect x="215.09" y="619.17" width="8.29" height="11.73" fill="#2c78cd"/>
<rect x="223.38" y="619.17" width="8.29" height="11.73" fill="#0962c5"/>
<rect x="231.66" y="619.17" width="8.29" height="11.73" fill="#abcaeb"/>
<rect x="239.95" y="619.17" width="16.58" height="11.73" fill="#0962c5"/>
<rect x="256.52" y="619.17" width="8.29" height="11.73" fill="#5793d7"/>
<rect x="264.8" y="619.17" width="8.29" height="11.73" fill="#abcaeb"/>
<rect x="273.09" y="619.17" width="8.29" height="11.73" fill="#dae7f6"/>
<rect x="281.37" y="619.17" width="8.29" height="11.73" fill="#81aee1"/>
<rect x="289.66" y="619.17" width="16.58" height="11.73" fill="#2c78cd"/>
<rect x="306.23" y="619.17" width="16.58" height="11.73" fill="#5793d7"/>
<rect x="322.79" y="619.17" width="8.29" height="11.73" fill="#abcaeb"/>
<rect x="331.08" y="619.17" width="8.29" height="11.73" fill="#dae7f6"/>
<rect x="339.36" y="619.17" width="16.58" height="11.73" fill="#81aee1"/>
<rect x="355.93" y="619.17" width="8.29" height="11.73" fill="#0962c5"/>
<rect x="364.22" y="619.17" width="16.58" height="11.73" fill="#5793d7"/>
<rect x="380.79" y="619.17" width="8.29" height="11.73" fill="#abcaeb"/>
<rect x="389.07" y="619.17" width="8.29" height="11.73" fill="#0962c5"/>
<rect x="397.36" y="619.17" width="8.29" height="11.73" fill="#abcaeb"/>
<rect x="405.64" y="619.17" width="8.29" height="11.73" fill="#dae7f6"/>
<rect x="413.93" y="619.17" width="24.86" height="11.73" fill="#5793d7"/>
<rect x="438.78" y="619.17" width="16.58" height="11.73" fill="#abcaeb"/>
<rect x="455.35" y="619.17" width="8.29" height="11.73" fill="#0962c5"/>
<rect x="463.64" y="619.17" width="8.29" height="11.73" fill="#81aee1"/>
<rect x="471.92" y="619.17" width="8.29" height="11.73" fill="#dae7f6"/>
<rect x="480.21" y="619.17" width="16.58" height="11.73" fill="#81aee1"/>
<rect x="496.78" y="619.17" width="8.29" height="11.73" fill="#2c78cd"/>
<rect x="505.06" y="619.17" width="8.29" height="11.73" fill="#dae7f6"/>
<rect x="513.35" y="619.17" width="16.58" height="11.73" fill="#81aee1"/>
<rect x="529.92" y="619.17" width="8.29" height="11.73" fill="#2c78cd"/>
<rect x="74.25" y="630.89" width="16.58" height="11.73" fill="#abcaeb"/>
<rect x="90.82" y="630.89" width="8.29" height="11.73" fill="#dae7f6"/>
<rect x="99.1" y="630.89" width="49.72" height="11.73" fill="#abcaeb"/>
<rect x="148.81" y="630.89" width="8.29" height="11.73" fill="#81aee1"/>
<rect x="157.1" y="630.89" width="8.29" height="11.73" fill="#dae7f6"/>
<rect x="165.38" y="630.89" width="41.43" height="11.73" fill="#abcaeb"/>
<rect x="206.81" y="630.89" width="8.29" height="11.73" fill="#81aee1"/>
<rect x="215.09" y="630.89" width="24.86" height="11.73" fill="#abcaeb"/>
<rect x="239.95" y="630.89" width="16.58" height="11.73" fill="#81aee1"/>
<rect x="256.52" y="630.89" width="8.29" height="11.73" fill="#abcaeb"/>
<rect x="264.8" y="630.89" width="8.29" height="11.73" fill="#dae7f6"/>
<rect x="273.09" y="630.89" width="58" height="11.73" fill="#abcaeb"/>
<rect x="331.08" y="630.89" width="8.29" height="11.73" fill="#dae7f6"/>
<rect x="339.36" y="630.89" width="16.58" height="11.73" fill="#abcaeb"/>
<rect x="355.93" y="630.89" width="8.29" height="11.73" fill="#81aee1"/>
<rect x="364.22" y="630.89" width="8.29" height="11.73" fill="#dae7f6"/>
<rect x="372.5" y="630.89" width="82.86" height="11.73" fill="#abcaeb"/>
<rect x="455.35" y="630.89" width="8.29" height="11.73" fill="#dae7f6"/>
<rect x="463.64" y="630.89" width="8.29" height="11.73" fill="#abcaeb"/>
<rect x="471.92" y="630.89" width="8.29" height="11.73" fill="#dae7f6"/>
<rect x="480.21" y="630.89" width="33.15" height="11.73" fill="#abcaeb"/>
<rect x="513.35" y="630.89" width="8.29" height="11.73" fill="#dae7f6"/>
<rect x="521.63" y="630.89" width="16.58" height="11.73" fill="#abcaeb"/>
<rect x="74.25" y="642.6" width="8.29" height="11.73" fill="#0962c5"/>
<rect x="82.53" y="642.6" width="8.29" height="11.73" fill="#5793d7"/>
<rect x="90.82" y="642.6" width="41.43" height="11.73" fill="#0962c5"/>
<rect x="132.24" y="642.6" width="8.29" height="11.73" fill="#2c78cd"/>
<rect x="140.53" y="642.6" width="33.15" height="11.73" fill="#0962c5"/>
<rect x="173.67" y="642.6" width="8.29" height="11.73" fill="#81aee1"/>
<rect x="181.95" y="642.6" width="24.86" height="11.73" fill="#0962c5"/>
<rect x="206.81" y="642.6" width="8.29" height="11.73" fill="#2c78cd"/>
<rect x="215.09" y="642.6" width="8.29" height="11.73" fill="#5793d7"/>
<rect x="223.38" y="642.6" width="8.29" height="11.73" fill="#0962c5"/>
<rect x="231.66" y="642.6" width="8.29" height="11.73" fill="#2c78cd"/>
<rect x="239.95" y="642.6" width="8.29" height="11.73" fill="#5793d7"/>
<rect x="248.23" y="642.6" width="8.29" height="11.73" fill="#0962c5"/>
<rect x="256.52" y="642.6" width="24.86" height="11.73" fill="#2c78cd"/>
<rect x="281.37" y="642.6" width="8.29" height="11.73" fill="#81aee1"/>
<rect x="289.66" y="642.6" width="16.58" height="11.73" fill="#0962c5"/>
<rect x="306.23" y="642.6" width="24.86" height="11.73" fill="#2c78cd"/>
<rect x="331.08" y="642.6" width="8.29" height="11.73" fill="#abcaeb"/>
<rect x="339.36" y="642.6" width="8.29" height="11.73" fill="#2c78cd"/>
<rect x="347.65" y="642.6" width="16.58" height="11.73" fill="#0962c5"/>
<rect x="364.22" y="642.6" width="16.58" height="11.73" fill="#2c78cd"/>
<rect x="380.79" y="642.6" width="8.29" height="11.73" fill="#5793d7"/>
<rect x="389.07" y="642.6" width="8.29" height="11.73" fill="#0962c5"/>
<rect x="397.36" y="642.6" width="16.58" height="11.73" fill="#81aee1"/>
<rect x="413.93" y="642.6" width="49.72" height="11.73" fill="#0962c5"/>
<rect x="463.64" y="642.6" width="8.29" height="11.73" fill="#2c78cd"/>
<rect x="471.92" y="642.6" width="8.29" height="11.73" fill="#81aee1"/>
<rect x="480.21" y="642.6" width="8.29" height="11.73" fill="#0962c5"/>
<rect x="488.49" y="642.6" width="8.29" height="11.73" fill="#2c78cd"/>
<rect x="496.78" y="642.6" width="16.58" height="11.73" fill="#0962c5"/>
<rect x="513.35" y="642.6" width="8.29" height="11.73" fill="#2c78cd"/>
<rect x="521.63" y="642.6" width="8.29" height="11.73" fill="#0962c5"/>
<rect x="529.92" y="642.6" width="8.29" height="11.73" fill="#2c78cd"/>
<rect x="74.25" y="654.32" width="24.86" height="11.73" fill="#81aee1"/>
<rect x="99.1" y="654.32" width="16.58" height="11.73" fill="#5793d7"/>
<rect x="115.67" y="654.32" width="8.29" height="11.73" fill="#2c78cd"/>
<rect x="123.96" y="654.32" width="8.29" height="11.73" fill="#5793d7"/>
<rect x="132.24" y="654.32" width="8.29" height="11.73" fill="#81aee1"/>
<rect x="140.53" y="654.32" width="33.15" height="11.73" fill="#5793d7"/>
<rect x="173.67" y="654.32" width="8.29" height="11.73" fill="#abcaeb"/>
<rect x="181.95" y="654.32" width="8.29" height="11.73" fill="#81aee1"/>
<rect x="190.24" y="654.32" width="8.29" height="11.73" fill="#2c78cd"/>
<rect x="198.52" y="654.32" width="8.29" height="11.73" fill="#5793d7"/>
<rect x="206.81" y="654.32" width="8.29" height="11.73" fill="#81aee1"/>
<rect x="215.09" y="654.32" width="8.29" height="11.73" fill="#5793d7"/>
<rect x="223.38" y="654.32" width="8.29" height="11.73" fill="#2c78cd"/>
<rect x="231.66" y="654.32" width="8.29" height="11.73" fill="#abcaeb"/>
<rect x="239.95" y="654.32" width="8.29" height="11.73" fill="#2c78cd"/>
<rect x="248.23" y="654.32" width="16.58" height="11.73" fill="#5793d7"/>
<rect x="264.8" y="654.32" width="8.29" height="11.73" fill="#dae7f6"/>
<rect x="273.09" y="654.32" width="8.29" height="11.73" fill="#81aee1"/>
<rect x="281.37" y="654.32" width="8.29" height="11.73" fill="#abcaeb"/>
<rect x="289.66" y="654.32" width="8.29" height="11.73" fill="#5793d7"/>
<rect x="297.94" y="654.32" width="8.29" height="11.73" fill="#81aee1"/>
<rect x="306.23" y="654.32" width="24.86" height="11.73" fill="#abcaeb"/>
<rect x="331.08" y="654.32" width="8.29" height="11.73" fill="#f9e2e3"/>
<rect x="339.36" y="654.32" width="16.58" height="11.73" fill="#abcaeb"/>
<rect x="355.93" y="654.32" width="8.29" height="11.73" fill="#5793d7"/>
<rect x="364.22" y="654.32" width="8.29" height="11.73" fill="#dae7f6"/>
<rect x="372.5" y="654.32" width="24.86" height="11.73" fill="#abcaeb"/>
<rect x="397.36" y="654.32" width="8.29" height="11.73" fill="#f9e2e3"/>
<rect x="405.64" y="654.32" width="8.29" height="11.73" fill="#81aee1"/>
<rect x="413.93" y="654.32" width="8.29" height="11.73" fill="#5793d7"/>
<rect x="422.21" y="654.32" width="8.29" height="11.73" fill="#81aee1"/>
<rect x="430.5" y="654.32" width="8.29" height="11.73" fill="#5793d7"/>
<rect x="438.78" y="654.32" width="8.29" height="11.73" fill="#81aee1"/>
<rect x="447.07" y="654.32" width="24.86" height="11.73" fill="#abcaeb"/>
<rect x="471.92" y="654.32" width="8.29" height="11.73" fill="#dae7f6"/>
<rect x="480.21" y="654.32" width="8.29" height="11.73" fill="#81aee1"/>
<rect x="488.49" y="654.32" width="8.29" height="11.73" fill="#abcaeb"/>
<rect x="496.78" y="654.32" width="16.58" height="11.73" fill="#81aee1"/>
<rect x="513.35" y="654.32" width="8.29" height="11.73" fill="#abcaeb"/>
<rect x="521.63" y="654.32" width="8.29" height="11.73" fill="#81aee1"/>
<rect x="529.92" y="654.32" width="8.29" height="11.73" fill="#abcaeb"/>
<rect x="74.25" y="666.03" width="8.29" height="11.73" fill="#0962c5"/>
<rect x="82.53" y="666.03" width="8.29" height="11.73" fill="#5793d7"/>
<rect x="90.82" y="666.03" width="41.43" height="11.73" fill="#0962c5"/>
<rect x="132.24" y="666.03" width="8.29" height="11.73" fill="#2c78cd"/>
<rect x="140.53" y="666.03" width="33.15" height="11.73" fill="#0962c5"/>
<rect x="173.67" y="666.03" width="8.29" height="11.73" fill="#5793d7"/>
<rect x="181.95" y="666.03" width="33.15" height="11.73" fill="#0962c5"/>
<rect x="215.09" y="666.03" width="8.29" height="11.73" fill="#5793d7"/>
<rect x="223.38" y="666.03" width="58" height="11.73" fill="#0962c5"/>
<rect x="281.37" y="666.03" width="8.29" height="11.73" fill="#abcaeb"/>
<rect x="289.66" y="666.03" width="24.86" height="11.73" fill="#0962c5"/>
<rect x="314.51" y="666.03" width="8.29" height="11.73" fill="#2c78cd"/>
<rect x="322.79" y="666.03" width="8.29" height="11.73" fill="#0962c5"/>
<rect x="331.08" y="666.03" width="8.29" height="11.73" fill="#5793d7"/>
<rect x="339.36" y="666.03" width="24.86" height="11.73" fill="#0962c5"/>
<rect x="364.22" y="666.03" width="16.58" height="11.73" fill="#2c78cd"/>
<rect x="380.79" y="666.03" width="8.29" height="11.73" fill="#5793d7"/>
<rect x="389.07" y="666.03" width="8.29" height="11.73" fill="#0962c5"/>
<rect x="397.36" y="666.03" width="8.29" height="11.73" fill="#2c78cd"/>
<rect x="405.64" y="666.03" width="8.29" height="11.73" fill="#5793d7"/>
<rect x="413.93" y="666.03" width="58" height="11.73" fill="#0962c5"/>
<rect x="471.92" y="666.03" width="8.29" height="11.73" fill="#81aee1"/>
<rect x="480.21" y="666.03" width="8.29" height="11.73" fill="#0962c5"/>
<rect x="488.49" y="666.03" width="8.29" height="11.73" fill="#5793d7"/>
<rect x="496.78" y="666.03" width="16.58" height="11.73" fill="#0962c5"/>
<rect x="513.35" y="666.03" width="8.29" height="11.73" fill="#5793d7"/>
<rect x="521.63" y="666.03" width="16.58" height="11.73" fill="#0962c5"/>
<rect x="74.25" y="677.75" width="8.29" height="11.73" fill="#81aee1"/>
<rect x="82.53" y="677.75" width="24.86" height="11.73" fill="#abcaeb"/>
<rect x="107.39" y="677.75" width="8.29" height="11.73" fill="#dae7f6"/>
<rect x="115.67" y="677.75" width="8.29" height="11.73" fill="#81aee1"/>
<rect x="123.96" y="677.75" width="8.29" height="11.73" fill="#abcaeb"/>
<rect x="132.24" y="677.75" width="8.29" height="11.73" fill="#dae7f6"/>
<rect x="140.53" y="677.75" width="8.29" height="11.73" fill="#abcaeb"/>
<rect x="148.81" y="677.75" width="8.29" height="11.73" fill="#81aee1"/>
<rect x="157.1" y="677.75" width="16.58" height="11.73" fill="#abcaeb"/>
<rect x="173.67" y="677.75" width="8.29" height="11.73" fill="#dae7f6"/>
<rect x="181.95" y="677.75" width="8.29" height="11.73" fill="#abcaeb"/>
<rect x="190.24" y="677.75" width="24.86" height="11.73" fill="#81aee1"/>
<rect x="215.09" y="677.75" width="24.86" height="11.73" fill="#abcaeb"/>
<rect x="239.95" y="677.75" width="8.29" height="11.73" fill="#dae7f6"/>
<rect x="248.23" y="677.75" width="8.29" height="11.73" fill="#abcaeb"/>
<rect x="256.52" y="677.75" width="16.58" height="11.73" fill="#81aee1"/>
<rect x="273.09" y="677.75" width="8.29" height="11.73" fill="#abcaeb"/>
<rect x="281.37" y="677.75" width="24.86" height="11.73" fill="#81aee1"/>
<rect x="306.23" y="677.75" width="24.86" height="11.73" fill="#abcaeb"/>
<rect x="331.08" y="677.75" width="8.29" height="11.73" fill="#81aee1"/>
<rect x="339.36" y="677.75" width="74.57" height="11.73" fill="#abcaeb"/>
<rect x="413.93" y="677.75" width="8.29" height="11.73" fill="#81aee1"/>
<rect x="422.21" y="677.75" width="8.29" height="11.73" fill="#dae7f6"/>
<rect x="430.5" y="677.75" width="33.15" height="11.73" fill="#abcaeb"/>
<rect x="463.64" y="677.75" width="16.58" height="11.73" fill="#81aee1"/>
<rect x="480.21" y="677.75" width="24.86" height="11.73" fill="#abcaeb"/>
<rect x="505.06" y="677.75" width="16.58" height="11.73" fill="#81aee1"/>
<rect x="521.63" y="677.75" width="8.29" height="11.73" fill="#abcaeb"/>
<rect x="529.92" y="677.75" width="8.29" height="11.73" fill="#dae7f6"/>
<rect x="74.25" y="689.46" width="8.29" height="11.73" fill="#0962c5"/>
<rect x="82.53" y="689.46" width="8.29" height="11.73" fill="#5793d7"/>
<rect x="90.82" y="689.46" width="82.86" height="11.73" fill="#0962c5"/>
<rect x="173.67" y="689.46" width="8.29" height="11.73" fill="#5793d7"/>
<rect x="181.95" y="689.46" width="99.43" height="11.73" fill="#0962c5"/>
<rect x="281.37" y="689.46" width="8.29" height="11.73" fill="#81aee1"/>
<rect x="289.66" y="689.46" width="16.58" height="11.73" fill="#0962c5"/>
<rect x="306.23" y="689.46" width="16.58" height="11.73" fill="#2c78cd"/>
<rect x="322.79" y="689.46" width="8.29" height="11.73" fill="#0962c5"/>
<rect x="331.08" y="689.46" width="8.29" height="11.73" fill="#5793d7"/>
<rect x="339.36" y="689.46" width="8.29" height="11.73" fill="#2c78cd"/>
<rect x="347.65" y="689.46" width="8.29" height="11.73" fill="#0962c5"/>
<rect x="355.93" y="689.46" width="24.86" height="11.73" fill="#2c78cd"/>
<rect x="380.79" y="689.46" width="8.29" height="11.73" fill="#5793d7"/>
<rect x="389.07" y="689.46" width="8.29" height="11.73" fill="#0962c5"/>
<rect x="397.36" y="689.46" width="8.29" height="11.73" fill="#2c78cd"/>
<rect x="405.64" y="689.46" width="8.29" height="11.73" fill="#5793d7"/>
<rect x="413.93" y="689.46" width="49.72" height="11.73" fill="#0962c5"/>
<rect x="463.64" y="689.46" width="8.29" height="11.73" fill="#2c78cd"/>
<rect x="471.92" y="689.46" width="8.29" height="11.73" fill="#5793d7"/>
<rect x="480.21" y="689.46" width="8.29" height="11.73" fill="#0962c5"/>
<rect x="488.49" y="689.46" width="33.15" height="11.73" fill="#2c78cd"/>
<rect x="521.63" y="689.46" width="16.58" height="11.73" fill="#0962c5"/>
<rect x="74.25" y="701.18" width="8.29" height="11.73" fill="#abcaeb"/>
<rect x="82.53" y="701.18" width="8.29" height="11.73" fill="#f9e2e3"/>
<rect x="90.82" y="701.18" width="16.58" height="11.73" fill="#dae7f6"/>
<rect x="107.39" y="701.18" width="8.29" height="11.73" fill="#abcaeb"/>
<rect x="115.67" y="701.18" width="16.58" height="11.73" fill="#dae7f6"/>
<rect x="132.24" y="701.18" width="8.29" height="11.73" fill="#f9e2e3"/>
<rect x="140.53" y="701.18" width="8.29" height="11.73" fill="#dae7f6"/>
<rect x="148.81" y="701.18" width="8.29" height="11.73" fill="#81aee1"/>
<rect x="157.1" y="701.18" width="8.29" height="11.73" fill="#f9e2e3"/>
<rect x="165.38" y="701.18" width="24.86" height="11.73" fill="#dae7f6"/>
<rect x="190.24" y="701.18" width="8.29" height="11.73" fill="#81aee1"/>
<rect x="198.52" y="701.18" width="8.29" height="11.73" fill="#dae7f6"/>
<rect x="206.81" y="701.18" width="8.29" height="11.73" fill="#abcaeb"/>
<rect x="215.09" y="701.18" width="8.29" height="11.73" fill="#dae7f6"/>
<rect x="223.38" y="701.18" width="8.29" height="11.73" fill="#abcaeb"/>
<rect x="231.66" y="701.18" width="16.58" height="11.73" fill="#f9e2e3"/>
<rect x="248.23" y="701.18" width="33.15" height="11.73" fill="#dae7f6"/>
<rect x="281.37" y="701.18" width="8.29" height="11.73" fill="#81aee1"/>
<rect x="289.66" y="701.18" width="33.15" height="11.73" fill="#dae7f6"/>
<rect x="322.79" y="701.18" width="16.58" height="11.73" fill="#f9e2e3"/>
<rect x="339.36" y="701.18" width="49.72" height="11.73" fill="#dae7f6"/>
<rect x="389.07" y="701.18" width="24.86" height="11.73" fill="#f9e2e3"/>
<rect x="413.93" y="701.18" width="8.29" height="11.73" fill="#abcaeb"/>
<rect x="422.21" y="701.18" width="33.15" height="11.73" fill="#dae7f6"/>
<rect x="455.35" y="701.18" width="8.29" height="11.73" fill="#f9e2e3"/>
<rect x="463.64" y="701.18" width="33.15" height="11.73" fill="#dae7f6"/>
<rect x="496.78" y="701.18" width="8.29" height="11.73" fill="#abcaeb"/>
<rect x="505.06" y="701.18" width="33.15" height="11.73" fill="#dae7f6"/>
<rect x="74.25" y="712.9" width="8.29" height="11.73" fill="#2c78cd"/>
<rect x="82.53" y="712.9" width="8.29" height="11.73" fill="#5793d7"/>
<rect x="90.82" y="712.9" width="24.86" height="11.73" fill="#2c78cd"/>
<rect x="115.67" y="712.9" width="8.29" height="11.73" fill="#0962c5"/>
<rect x="123.96" y="712.9" width="24.86" height="11.73" fill="#2c78cd"/>
<rect x="148.81" y="712.9" width="16.58" height="11.73" fill="#0962c5"/>
<rect x="165.38" y="712.9" width="8.29" height="11.73" fill="#2c78cd"/>
<rect x="173.67" y="712.9" width="8.29" height="11.73" fill="#5793d7"/>
<rect x="181.95" y="712.9" width="16.58" height="11.73" fill="#0962c5"/>
<rect x="198.52" y="712.9" width="41.43" height="11.73" fill="#2c78cd"/>
<rect x="239.95" y="712.9" width="8.29" height="11.73" fill="#0962c5"/>
<rect x="248.23" y="712.9" width="33.15" height="11.73" fill="#2c78cd"/>
<rect x="281.37" y="712.9" width="8.29" height="11.73" fill="#81aee1"/>
<rect x="289.66" y="712.9" width="8.29" height="11.73" fill="#0962c5"/>
<rect x="297.94" y="712.9" width="8.29" height="11.73" fill="#2c78cd"/>
<rect x="306.23" y="712.9" width="33.15" height="11.73" fill="#5793d7"/>
<rect x="339.36" y="712.9" width="8.29" height="11.73" fill="#2c78cd"/>
<rect x="347.65" y="712.9" width="8.29" height="11.73" fill="#5793d7"/>
<rect x="355.93" y="712.9" width="8.29" height="11.73" fill="#2c78cd"/>
<rect x="364.22" y="712.9" width="8.29" height="11.73" fill="#81aee1"/>
<rect x="372.5" y="712.9" width="8.29" height="11.73" fill="#2c78cd"/>
<rect x="380.79" y="712.9" width="24.86" height="11.73" fill="#5793d7"/>
<rect x="405.64" y="712.9" width="8.29" height="11.73" fill="#2c78cd"/>
<rect x="413.93" y="712.9" width="8.29" height="11.73" fill="#5793d7"/>
<rect x="422.21" y="712.9" width="8.29" height="11.73" fill="#81aee1"/>
<rect x="430.5" y="712.9" width="8.29" height="11.73" fill="#0962c5"/>
<rect x="438.78" y="712.9" width="33.15" height="11.73" fill="#5793d7"/>
<rect x="471.92" y="712.9" width="49.72" height="11.73" fill="#2c78cd"/>
<rect x="521.63" y="712.9" width="16.58" height="11.73" fill="#5793d7"/>
<rect x="74.25" y="724.61" width="8.29" height="11.73" fill="#5793d7"/>
<rect x="82.53" y="724.61" width="16.58" height="11.73" fill="#81aee1"/>
<rect x="99.1" y="724.61" width="16.58" height="11.73" fill="#5793d7"/>
<rect x="115.67" y="724.61" width="8.29" height="11.73" fill="#abcaeb"/>
<rect x="123.96" y="724.61" width="8.29" height="11.73" fill="#5793d7"/>
<rect x="132.24" y="724.61" width="8.29" height="11.73" fill="#81aee1"/>
<rect x="140.53" y="724.61" width="16.58" height="11.73" fill="#5793d7"/>
<rect x="157.1" y="724.61" width="16.58" height="11.73" fill="#81aee1"/>
<rect x="173.67" y="724.61" width="8.29" height="11.73" fill="#abcaeb"/>
<rect x="181.95" y="724.61" width="8.29" height="11.73" fill="#81aee1"/>
<rect x="190.24" y="724.61" width="8.29" height="11.73" fill="#0962c5"/>
<rect x="198.52" y="724.61" width="8.29" height="11.73" fill="#81aee1"/>
<rect x="206.81" y="724.61" width="8.29" height="11.73" fill="#5793d7"/>
<rect x="215.09" y="724.61" width="8.29" height="11.73" fill="#2c78cd"/>
<rect x="223.38" y="724.61" width="8.29" height="11.73" fill="#5793d7"/>
<rect x="231.66" y="724.61" width="8.29" height="11.73" fill="#dae7f6"/>
<rect x="239.95" y="724.61" width="16.58" height="11.73" fill="#2c78cd"/>
<rect x="256.52" y="724.61" width="8.29" height="11.73" fill="#5793d7"/>
<rect x="264.8" y="724.61" width="8.29" height="11.73" fill="#abcaeb"/>
<rect x="273.09" y="724.61" width="8.29" height="11.73" fill="#5793d7"/>
<rect x="281.37" y="724.61" width="8.29" height="11.73" fill="#dae7f6"/>
<rect x="289.66" y="724.61" width="8.29" height="11.73" fill="#2c78cd"/>
<rect x="297.94" y="724.61" width="24.86" height="11.73" fill="#81aee1"/>
<rect x="322.79" y="724.61" width="8.29" height="11.73" fill="#abcaeb"/>
<rect x="331.08" y="724.61" width="24.86" height="11.73" fill="#81aee1"/>
<rect x="355.93" y="724.61" width="8.29" height="11.73" fill="#2c78cd"/>
<rect x="364.22" y="724.61" width="8.29" height="11.73" fill="#abcaeb"/>
<rect x="372.5" y="724.61" width="8.29" height="11.73" fill="#81aee1"/>
<rect x="380.79" y="724.61" width="8.29" height="11.73" fill="#abcaeb"/>
<rect x="389.07" y="724.61" width="8.29" height="11.73" fill="#81aee1"/>
<rect x="397.36" y="724.61" width="8.29" height="11.73" fill="#abcaeb"/>
<rect x="405.64" y="724.61" width="8.29" height="11.73" fill="#dae7f6"/>
<rect x="413.93" y="724.61" width="16.58" height="11.73" fill="#5793d7"/>
<rect x="430.5" y="724.61" width="41.43" height="11.73" fill="#81aee1"/>
<rect x="471.92" y="724.61" width="8.29" height="11.73" fill="#dae7f6"/>
<rect x="480.21" y="724.61" width="33.15" height="11.73" fill="#abcaeb"/>
<rect x="513.35" y="724.61" width="8.29" height="11.73" fill="#81aee1"/>
<rect x="521.63" y="724.61" width="8.29" height="11.73" fill="#5793d7"/>
<rect x="529.92" y="724.61" width="8.29" height="11.73" fill="#81aee1"/>
<rect x="74.25" y="736.33" width="8.29" height="11.73" fill="#0962c5"/>
<rect x="82.53" y="736.33" width="8.29" height="11.73" fill="#5793d7"/>
<rect x="90.82" y="736.33" width="190.56" height="11.73" fill="#0962c5"/>
<rect x="281.37" y="736.33" width="8.29" height="11.73" fill="#81aee1"/>
<rect x="289.66" y="736.33" width="24.86" height="11.73" fill="#0962c5"/>
<rect x="314.51" y="736.33" width="8.29" height="11.73" fill="#2c78cd"/>
<rect x="322.79" y="736.33" width="8.29" height="11.73" fill="#0962c5"/>
<rect x="331.08" y="736.33" width="8.29" height="11.73" fill="#2c78cd"/>
<rect x="339.36" y="736.33" width="24.86" height="11.73" fill="#0962c5"/>
<rect x="364.22" y="736.33" width="16.58" height="11.73" fill="#2c78cd"/>
<rect x="380.79" y="736.33" width="8.29" height="11.73" fill="#5793d7"/>
<rect x="389.07" y="736.33" width="16.58" height="11.73" fill="#0962c5"/>
<rect x="405.64" y="736.33" width="8.29" height="11.73" fill="#2c78cd"/>
<rect x="413.93" y="736.33" width="49.72" height="11.73" fill="#0962c5"/>
<rect x="463.64" y="736.33" width="8.29" height="11.73" fill="#2c78cd"/>
<rect x="471.92" y="736.33" width="8.29" height="11.73" fill="#5793d7"/>
<rect x="480.21" y="736.33" width="8.29" height="11.73" fill="#0962c5"/>
<rect x="488.49" y="736.33" width="8.29" height="11.73" fill="#2c78cd"/>
<rect x="496.78" y="736.33" width="16.58" height="11.73" fill="#0962c5"/>
<rect x="513.35" y="736.33" width="8.29" height="11.73" fill="#2c78cd"/>
<rect x="521.63" y="736.33" width="16.58" height="11.73" fill="#0962c5"/>
<rect x="74.25" y="748.04" width="8.29" height="11.73" fill="#0962c5"/>
<rect x="82.53" y="748.04" width="8.29" height="11.73" fill="#5793d7"/>
<rect x="90.82" y="748.04" width="8.29" height="11.73" fill="#2c78cd"/>
<rect x="99.1" y="748.04" width="8.29" height="11.73" fill="#5793d7"/>
<rect x="107.39" y="748.04" width="8.29" height="11.73" fill="#2c78cd"/>
<rect x="115.67" y="748.04" width="8.29" height="11.73" fill="#81aee1"/>
<rect x="123.96" y="748.04" width="8.29" height="11.73" fill="#abcaeb"/>
<rect x="132.24" y="748.04" width="16.58" height="11.73" fill="#2c78cd"/>
<rect x="148.81" y="748.04" width="8.29" height="11.73" fill="#0962c5"/>
<rect x="157.1" y="748.04" width="24.86" height="11.73" fill="#81aee1"/>
<rect x="181.95" y="748.04" width="8.29" height="11.73" fill="#dae7f6"/>
<rect x="190.24" y="748.04" width="8.29" height="11.73" fill="#abcaeb"/>
<rect x="198.52" y="748.04" width="16.58" height="11.73" fill="#0962c5"/>
<rect x="215.09" y="748.04" width="24.86" height="11.73" fill="#abcaeb"/>
<rect x="239.95" y="748.04" width="8.29" height="11.73" fill="#2c78cd"/>
<rect x="248.23" y="748.04" width="8.29" height="11.73" fill="#0962c5"/>
<rect x="256.52" y="748.04" width="8.29" height="11.73" fill="#2c78cd"/>
<rect x="264.8" y="748.04" width="8.29" height="11.73" fill="#81aee1"/>
<rect x="273.09" y="748.04" width="8.29" height="11.73" fill="#2c78cd"/>
<rect x="281.37" y="748.04" width="16.58" height="11.73" fill="#5793d7"/>
<rect x="297.94" y="748.04" width="16.58" height="11.73" fill="#2c78cd"/>
<rect x="314.51" y="748.04" width="8.29" height="11.73" fill="#5793d7"/>
<rect x="322.79" y="748.04" width="8.29" height="11.73" fill="#81aee1"/>
<rect x="331.08" y="748.04" width="8.29" height="11.73" fill="#abcaeb"/>
<rect x="339.36" y="748.04" width="8.29" height="11.73" fill="#0962c5"/>
<rect x="347.65" y="748.04" width="8.29" height="11.73" fill="#abcaeb"/>
<rect x="355.93" y="748.04" width="24.86" height="11.73" fill="#5793d7"/>
<rect x="380.79" y="748.04" width="8.29" height="11.73" fill="#81aee1"/>
<rect x="389.07" y="748.04" width="8.29" height="11.73" fill="#0962c5"/>
<rect x="397.36" y="748.04" width="8.29" height="11.73" fill="#2c78cd"/>
<rect x="405.64" y="748.04" width="8.29" height="11.73" fill="#dae7f6"/>
<rect x="413.93" y="748.04" width="33.15" height="11.73" fill="#5793d7"/>
<rect x="447.07" y="748.04" width="24.86" height="11.73" fill="#abcaeb"/>
<rect x="471.92" y="748.04" width="8.29" height="11.73" fill="#2c78cd"/>
<rect x="480.21" y="748.04" width="8.29" height="11.73" fill="#abcaeb"/>
<rect x="488.49" y="748.04" width="8.29" height="11.73" fill="#5793d7"/>
<rect x="496.78" y="748.04" width="8.29" height="11.73" fill="#abcaeb"/>
<rect x="505.06" y="748.04" width="8.29" height="11.73" fill="#dae7f6"/>
<rect x="513.35" y="748.04" width="8.29" height="11.73" fill="#81aee1"/>
<rect x="521.63" y="748.04" width="8.29" height="11.73" fill="#2c78cd"/>
<rect x="529.92" y="748.04" width="8.29" height="11.73" fill="#dae7f6"/>
<rect x="74.25" y="759.76" width="8.29" height="11.73" fill="#0962c5"/>
<rect x="82.53" y="759.76" width="8.29" height="11.73" fill="#2c78cd"/>
<rect x="90.82" y="759.76" width="82.86" height="11.73" fill="#0962c5"/>
<rect x="173.67" y="759.76" width="8.29" height="11.73" fill="#2c78cd"/>
<rect x="181.95" y="759.76" width="99.43" height="11.73" fill="#0962c5"/>
<rect x="281.37" y="759.76" width="8.29" height="11.73" fill="#2c78cd"/>
<rect x="289.66" y="759.76" width="41.43" height="11.73" fill="#0962c5"/>
<rect x="331.08" y="759.76" width="8.29" height="11.73" fill="#2c78cd"/>
<rect x="339.36" y="759.76" width="33.15" height="11.73" fill="#0962c5"/>
<rect x="372.5" y="759.76" width="16.58" height="11.73" fill="#2c78cd"/>
<rect x="389.07" y="759.76" width="16.58" height="11.73" fill="#0962c5"/>
<rect x="405.64" y="759.76" width="8.29" height="11.73" fill="#2c78cd"/>
<rect x="413.93" y="759.76" width="124.28" height="11.73" fill="#0962c5"/>
<rect x="74.25" y="771.47" width="463.96" height="11.73" fill="#0962c5"/>
<rect x="74.25" y="783.19" width="16.58" height="11.73" fill="#0962c5"/>
<rect x="90.82" y="783.19" width="8.29" height="11.73" fill="#2c78cd"/>
<rect x="99.1" y="783.19" width="8.29" height="11.73" fill="#0962c5"/>
<rect x="107.39" y="783.19" width="8.29" height="11.73" fill="#2c78cd"/>
<rect x="115.67" y="783.19" width="99.43" height="11.73" fill="#0962c5"/>
<rect x="215.09" y="783.19" width="8.29" height="11.73" fill="#5793d7"/>
<rect x="223.38" y="783.19" width="8.29" height="11.73" fill="#0962c5"/>
<rect x="231.66" y="783.19" width="8.29" height="11.73" fill="#2c78cd"/>
<rect x="239.95" y="783.19" width="215.42" height="11.73" fill="#0962c5"/>
<rect x="455.35" y="783.19" width="8.29" height="11.73" fill="#2c78cd"/>
<rect x="463.64" y="783.19" width="8.29" height="11.73" fill="#5793d7"/>
<rect x="471.92" y="783.19" width="66.29" height="11.73" fill="#0962c5"/>
<rect x="74.25" y="794.91" width="8.29" height="11.73" fill="#2c78cd"/>
<rect x="82.53" y="794.91" width="8.29" height="11.73" fill="#81aee1"/>
<rect x="90.82" y="794.91" width="16.58" height="11.73" fill="#5793d7"/>
<rect x="107.39" y="794.91" width="8.29" height="11.73" fill="#81aee1"/>
<rect x="115.67" y="794.91" width="8.29" height="11.73" fill="#0962c5"/>
<rect x="123.96" y="794.91" width="8.29" height="11.73" fill="#5793d7"/>
<rect x="132.24" y="794.91" width="8.29" height="11.73" fill="#abcaeb"/>
<rect x="140.53" y="794.91" width="16.58" height="11.73" fill="#0962c5"/>
<rect x="157.1" y="794.91" width="8.29" height="11.73" fill="#5793d7"/>
<rect x="165.38" y="794.91" width="8.29" height="11.73" fill="#0962c5"/>
<rect x="173.67" y="794.91" width="8.29" height="11.73" fill="#abcaeb"/>
<rect x="181.95" y="794.91" width="16.58" height="11.73" fill="#0962c5"/>
<rect x="198.52" y="794.91" width="16.58" height="11.73" fill="#2c78cd"/>
<rect x="215.09" y="794.91" width="8.29" height="11.73" fill="#81aee1"/>
<rect x="223.38" y="794.91" width="8.29" height="11.73" fill="#0962c5"/>
<rect x="231.66" y="794.91" width="8.29" height="11.73" fill="#5793d7"/>
<rect x="239.95" y="794.91" width="16.58" height="11.73" fill="#2c78cd"/>
<rect x="256.52" y="794.91" width="8.29" height="11.73" fill="#0962c5"/>
<rect x="264.8" y="794.91" width="8.29" height="11.73" fill="#dae7f6"/>
<rect x="273.09" y="794.91" width="8.29" height="11.73" fill="#5793d7"/>
<rect x="281.37" y="794.91" width="8.29" height="11.73" fill="#dae7f6"/>
<rect x="289.66" y="794.91" width="8.29" height="11.73" fill="#2c78cd"/>
<rect x="297.94" y="794.91" width="41.43" height="11.73" fill="#abcaeb"/>
<rect x="339.36" y="794.91" width="8.29" height="11.73" fill="#5793d7"/>
<rect x="347.65" y="794.91" width="8.29" height="11.73" fill="#dae7f6"/>
<rect x="355.93" y="794.91" width="8.29" height="11.73" fill="#5793d7"/>
<rect x="364.22" y="794.91" width="8.29" height="11.73" fill="#abcaeb"/>
<rect x="372.5" y="794.91" width="8.29" height="11.73" fill="#81aee1"/>
<rect x="380.79" y="794.91" width="8.29" height="11.73" fill="#f9e2e3"/>
<rect x="389.07" y="794.91" width="8.29" height="11.73" fill="#abcaeb"/>
<rect x="397.36" y="794.91" width="8.29" height="11.73" fill="#dae7f6"/>
<rect x="405.64" y="794.91" width="16.58" height="11.73" fill="#5793d7"/>
<rect x="422.21" y="794.91" width="8.29" height="11.73" fill="#81aee1"/>
<rect x="430.5" y="794.91" width="8.29" height="11.73" fill="#5793d7"/>
<rect x="438.78" y="794.91" width="24.86" height="11.73" fill="#abcaeb"/>
<rect x="463.64" y="794.91" width="8.29" height="11.73" fill="#81aee1"/>
<rect x="471.92" y="794.91" width="8.29" height="11.73" fill="#abcaeb"/>
<rect x="480.21" y="794.91" width="8.29" height="11.73" fill="#81aee1"/>
<rect x="488.49" y="794.91" width="8.29" height="11.73" fill="#abcaeb"/>
<rect x="496.78" y="794.91" width="8.29" height="11.73" fill="#dae7f6"/>
<rect x="505.06" y="794.91" width="8.29" height="11.73" fill="#2c78cd"/>
<rect x="513.35" y="794.91" width="16.58" height="11.73" fill="#abcaeb"/>
<rect x="529.92" y="794.91" width="8.29" height="11.73" fill="#5793d7"/>
<rect x="74.25" y="806.62" width="41.43" height="11.73" fill="#81aee1"/>
<rect x="115.67" y="806.62" width="33.15" height="11.73" fill="#5793d7"/>
<rect x="148.81" y="806.62" width="16.58" height="11.73" fill="#81aee1"/>
<rect x="165.38" y="806.62" width="8.29" height="11.73" fill="#2c78cd"/>
<rect x="173.67" y="806.62" width="8.29" height="11.73" fill="#81aee1"/>
<rect x="181.95" y="806.62" width="16.58" height="11.73" fill="#5793d7"/>
<rect x="198.52" y="806.62" width="8.29" height="11.73" fill="#81aee1"/>
<rect x="206.81" y="806.62" width="8.29" height="11.73" fill="#5793d7"/>
<rect x="215.09" y="806.62" width="8.29" height="11.73" fill="#2c78cd"/>
<rect x="223.38" y="806.62" width="8.29" height="11.73" fill="#dae7f6"/>
<rect x="231.66" y="806.62" width="8.29" height="11.73" fill="#2c78cd"/>
<rect x="239.95" y="806.62" width="8.29" height="11.73" fill="#5793d7"/>
<rect x="248.23" y="806.62" width="8.29" height="11.73" fill="#2c78cd"/>
<rect x="256.52" y="806.62" width="16.58" height="11.73" fill="#5793d7"/>
<rect x="273.09" y="806.62" width="16.58" height="11.73" fill="#81aee1"/>
<rect x="289.66" y="806.62" width="8.29" height="11.73" fill="#2c78cd"/>
<rect x="297.94" y="806.62" width="8.29" height="11.73" fill="#81aee1"/>
<rect x="306.23" y="806.62" width="33.15" height="11.73" fill="#5793d7"/>
<rect x="339.36" y="806.62" width="8.29" height="11.73" fill="#2c78cd"/>
<rect x="347.65" y="806.62" width="8.29" height="11.73" fill="#81aee1"/>
<rect x="355.93" y="806.62" width="8.29" height="11.73" fill="#2c78cd"/>
<rect x="364.22" y="806.62" width="8.29" height="11.73" fill="#5793d7"/>
<rect x="372.5" y="806.62" width="8.29" height="11.73" fill="#2c78cd"/>
<rect x="380.79" y="806.62" width="24.86" height="11.73" fill="#5793d7"/>
<rect x="405.64" y="806.62" width="8.29" height="11.73" fill="#81aee1"/>
<rect x="413.93" y="806.62" width="33.15" height="11.73" fill="#2c78cd"/>
<rect x="447.07" y="806.62" width="16.58" height="11.73" fill="#5793d7"/>
<rect x="463.64" y="806.62" width="8.29" height="11.73" fill="#81aee1"/>
<rect x="471.92" y="806.62" width="16.58" height="11.73" fill="#5793d7"/>
<rect x="488.49" y="806.62" width="16.58" height="11.73" fill="#2c78cd"/>
<rect x="505.06" y="806.62" width="33.15" height="11.73" fill="#5793d7"/>
<rect x="74.25" y="818.34" width="8.29" height="11.73" fill="#5793d7"/>
<rect x="82.53" y="818.34" width="8.29" height="11.73" fill="#81aee1"/>
<rect x="90.82" y="818.34" width="8.29" height="11.73" fill="#dae7f6"/>
<rect x="99.1" y="818.34" width="24.86" height="11.73" fill="#81aee1"/>
<rect x="123.96" y="818.34" width="8.29" height="11.73" fill="#5793d7"/>
<rect x="132.24" y="818.34" width="8.29" height="11.73" fill="#dae7f6"/>
<rect x="140.53" y="818.34" width="8.29" height="11.73" fill="#abcaeb"/>
<rect x="148.81" y="818.34" width="8.29" height="11.73" fill="#2c78cd"/>
<rect x="157.1" y="818.34" width="8.29" height="11.73" fill="#81aee1"/>
<rect x="165.38" y="818.34" width="8.29" height="11.73" fill="#5793d7"/>
<rect x="173.67" y="818.34" width="16.58" height="11.73" fill="#81aee1"/>
<rect x="190.24" y="818.34" width="8.29" height="11.73" fill="#5793d7"/>
<rect x="198.52" y="818.34" width="16.58" height="11.73" fill="#dae7f6"/>
<rect x="215.09" y="818.34" width="8.29" height="11.73" fill="#81aee1"/>
<rect x="223.38" y="818.34" width="8.29" height="11.73" fill="#2c78cd"/>
<rect x="231.66" y="818.34" width="8.29" height="11.73" fill="#f9e2e3"/>
<rect x="239.95" y="818.34" width="8.29" height="11.73" fill="#2c78cd"/>
<rect x="248.23" y="818.34" width="8.29" height="11.73" fill="#81aee1"/>
<rect x="256.52" y="818.34" width="8.29" height="11.73" fill="#5793d7"/>
<rect x="264.8" y="818.34" width="16.58" height="11.73" fill="#81aee1"/>
<rect x="281.37" y="818.34" width="8.29" height="11.73" fill="#abcaeb"/>
<rect x="289.66" y="818.34" width="8.29" height="11.73" fill="#5793d7"/>
<rect x="297.94" y="818.34" width="16.58" height="11.73" fill="#81aee1"/>
<rect x="314.51" y="818.34" width="8.29" height="11.73" fill="#abcaeb"/>
<rect x="322.79" y="818.34" width="16.58" height="11.73" fill="#81aee1"/>
<rect x="339.36" y="818.34" width="8.29" height="11.73" fill="#dae7f6"/>
<rect x="347.65" y="818.34" width="8.29" height="11.73" fill="#2c78cd"/>
<rect x="355.93" y="818.34" width="8.29" height="11.73" fill="#5793d7"/>
<rect x="364.22" y="818.34" width="8.29" height="11.73" fill="#dae7f6"/>
<rect x="372.5" y="818.34" width="49.72" height="11.73" fill="#81aee1"/>
<rect x="422.21" y="818.34" width="8.29" height="11.73" fill="#2c78cd"/>
<rect x="430.5" y="818.34" width="8.29" height="11.73" fill="#81aee1"/>
<rect x="438.78" y="818.34" width="8.29" height="11.73" fill="#abcaeb"/>
<rect x="447.07" y="818.34" width="8.29" height="11.73" fill="#5793d7"/>
<rect x="455.35" y="818.34" width="8.29" height="11.73" fill="#2c78cd"/>
<rect x="463.64" y="818.34" width="8.29" height="11.73" fill="#5793d7"/>
<rect x="471.92" y="818.34" width="8.29" height="11.73" fill="#abcaeb"/>
<rect x="480.21" y="818.34" width="16.58" height="11.73" fill="#81aee1"/>
<rect x="496.78" y="818.34" width="8.29" height="11.73" fill="#5793d7"/>
<rect x="505.06" y="818.34" width="16.58" height="11.73" fill="#81aee1"/>
<rect x="521.63" y="818.34" width="8.29" height="11.73" fill="#5793d7"/>
<rect x="529.92" y="818.34" width="8.29" height="11.73" fill="#81aee1"/>
<rect x="74.25" y="830.05" width="8.29" height="11.73" fill="#0962c5"/>
<rect x="82.53" y="830.05" width="8.29" height="11.73" fill="#5793d7"/>
<rect x="90.82" y="830.05" width="33.15" height="11.73" fill="#0962c5"/>
<rect x="123.96" y="830.05" width="8.29" height="11.73" fill="#81aee1"/>
<rect x="132.24" y="830.05" width="24.86" height="11.73" fill="#0962c5"/>
<rect x="157.1" y="830.05" width="8.29" height="11.73" fill="#81aee1"/>
<rect x="165.38" y="830.05" width="8.29" height="11.73" fill="#0962c5"/>
<rect x="173.67" y="830.05" width="8.29" height="11.73" fill="#5793d7"/>
<rect x="181.95" y="830.05" width="66.29" height="11.73" fill="#0962c5"/>
<rect x="248.23" y="830.05" width="8.29" height="11.73" fill="#2c78cd"/>
<rect x="256.52" y="830.05" width="24.86" height="11.73" fill="#0962c5"/>
<rect x="281.37" y="830.05" width="8.29" height="11.73" fill="#81aee1"/>
<rect x="289.66" y="830.05" width="16.58" height="11.73" fill="#0962c5"/>
<rect x="306.23" y="830.05" width="16.58" height="11.73" fill="#2c78cd"/>
<rect x="322.79" y="830.05" width="8.29" height="11.73" fill="#0962c5"/>
<rect x="331.08" y="830.05" width="8.29" height="11.73" fill="#2c78cd"/>
<rect x="339.36" y="830.05" width="8.29" height="11.73" fill="#5793d7"/>
<rect x="347.65" y="830.05" width="33.15" height="11.73" fill="#0962c5"/>
<rect x="380.79" y="830.05" width="8.29" height="11.73" fill="#81aee1"/>
<rect x="389.07" y="830.05" width="8.29" height="11.73" fill="#0962c5"/>
<rect x="397.36" y="830.05" width="8.29" height="11.73" fill="#2c78cd"/>
<rect x="405.64" y="830.05" width="8.29" height="11.73" fill="#5793d7"/>
<rect x="413.93" y="830.05" width="49.72" height="11.73" fill="#0962c5"/>
<rect x="463.64" y="830.05" width="8.29" height="11.73" fill="#5793d7"/>
<rect x="471.92" y="830.05" width="8.29" height="11.73" fill="#2c78cd"/>
<rect x="480.21" y="830.05" width="8.29" height="11.73" fill="#0962c5"/>
<rect x="488.49" y="830.05" width="16.58" height="11.73" fill="#2c78cd"/>
<rect x="505.06" y="830.05" width="24.86" height="11.73" fill="#0962c5"/>
<rect x="529.92" y="830.05" width="8.29" height="11.73" fill="#81aee1"/>
<rect x="74.25" y="841.77" width="8.29" height="11.73" fill="#5793d7"/>
<rect x="82.53" y="841.77" width="8.29" height="11.73" fill="#81aee1"/>
<rect x="90.82" y="841.77" width="8.29" height="11.73" fill="#5793d7"/>
<rect x="99.1" y="841.77" width="8.29" height="11.73" fill="#2c78cd"/>
<rect x="107.39" y="841.77" width="8.29" height="11.73" fill="#81aee1"/>
<rect x="115.67" y="841.77" width="8.29" height="11.73" fill="#5793d7"/>
<rect x="123.96" y="841.77" width="8.29" height="11.73" fill="#81aee1"/>
<rect x="132.24" y="841.77" width="8.29" height="11.73" fill="#5793d7"/>
<rect x="140.53" y="841.77" width="16.58" height="11.73" fill="#81aee1"/>
<rect x="157.1" y="841.77" width="8.29" height="11.73" fill="#5793d7"/>
<rect x="165.38" y="841.77" width="16.58" height="11.73" fill="#81aee1"/>
<rect x="181.95" y="841.77" width="8.29" height="11.73" fill="#5793d7"/>
<rect x="190.24" y="841.77" width="8.29" height="11.73" fill="#2c78cd"/>
<rect x="198.52" y="841.77" width="24.86" height="11.73" fill="#5793d7"/>
<rect x="223.38" y="841.77" width="8.29" height="11.73" fill="#2c78cd"/>
<rect x="231.66" y="841.77" width="8.29" height="11.73" fill="#5793d7"/>
<rect x="239.95" y="841.77" width="16.58" height="11.73" fill="#2c78cd"/>
<rect x="256.52" y="841.77" width="8.29" height="11.73" fill="#5793d7"/>
<rect x="264.8" y="841.77" width="24.86" height="11.73" fill="#81aee1"/>
<rect x="289.66" y="841.77" width="8.29" height="11.73" fill="#5793d7"/>
<rect x="297.94" y="841.77" width="8.29" height="11.73" fill="#81aee1"/>
<rect x="306.23" y="841.77" width="8.29" height="11.73" fill="#5793d7"/>
<rect x="314.51" y="841.77" width="16.58" height="11.73" fill="#81aee1"/>
<rect x="331.08" y="841.77" width="16.58" height="11.73" fill="#5793d7"/>
<rect x="347.65" y="841.77" width="8.29" height="11.73" fill="#abcaeb"/>
<rect x="355.93" y="841.77" width="8.29" height="11.73" fill="#2c78cd"/>
<rect x="364.22" y="841.77" width="33.15" height="11.73" fill="#81aee1"/>
<rect x="397.36" y="841.77" width="16.58" height="11.73" fill="#5793d7"/>
<rect x="413.93" y="841.77" width="8.29" height="11.73" fill="#2c78cd"/>
<rect x="422.21" y="841.77" width="24.86" height="11.73" fill="#5793d7"/>
<rect x="447.07" y="841.77" width="8.29" height="11.73" fill="#81aee1"/>
<rect x="455.35" y="841.77" width="41.43" height="11.73" fill="#5793d7"/>
<rect x="496.78" y="841.77" width="16.58" height="11.73" fill="#81aee1"/>
<rect x="513.35" y="841.77" width="24.86" height="11.73" fill="#5793d7"/>
<rect x="74.25" y="853.48" width="8.29" height="11.73" fill="#5793d7"/>
<rect x="82.53" y="853.48" width="8.29" height="11.73" fill="#abcaeb"/>
<rect x="90.82" y="853.48" width="8.29" height="11.73" fill="#2c78cd"/>
<rect x="99.1" y="853.48" width="8.29" height="11.73" fill="#81aee1"/>
<rect x="107.39" y="853.48" width="8.29" height="11.73" fill="#2c78cd"/>
<rect x="115.67" y="853.48" width="8.29" height="11.73" fill="#5793d7"/>
<rect x="123.96" y="853.48" width="8.29" height="11.73" fill="#81aee1"/>
<rect x="132.24" y="853.48" width="8.29" height="11.73" fill="#abcaeb"/>
<rect x="140.53" y="853.48" width="16.58" height="11.73" fill="#0962c5"/>
<rect x="157.1" y="853.48" width="8.29" height="11.73" fill="#2c78cd"/>
<rect x="165.38" y="853.48" width="8.29" height="11.73" fill="#5793d7"/>
<rect x="173.67" y="853.48" width="8.29" height="11.73" fill="#dae7f6"/>
<rect x="181.95" y="853.48" width="16.58" height="11.73" fill="#0962c5"/>
<rect x="198.52" y="853.48" width="16.58" height="11.73" fill="#5793d7"/>
<rect x="215.09" y="853.48" width="8.29" height="11.73" fill="#81aee1"/>
<rect x="223.38" y="853.48" width="8.29" height="11.73" fill="#2c78cd"/>
<rect x="231.66" y="853.48" width="8.29" height="11.73" fill="#81aee1"/>
<rect x="239.95" y="853.48" width="16.58" height="11.73" fill="#0962c5"/>
<rect x="256.52" y="853.48" width="8.29" height="11.73" fill="#5793d7"/>
<rect x="264.8" y="853.48" width="16.58" height="11.73" fill="#81aee1"/>
<rect x="281.37" y="853.48" width="8.29" height="11.73" fill="#abcaeb"/>
<rect x="289.66" y="853.48" width="8.29" height="11.73" fill="#5793d7"/>
<rect x="297.94" y="853.48" width="8.29" height="11.73" fill="#dae7f6"/>
<rect x="306.23" y="853.48" width="8.29" height="11.73" fill="#5793d7"/>
<rect x="314.51" y="853.48" width="8.29" height="11.73" fill="#81aee1"/>
<rect x="322.79" y="853.48" width="8.29" height="11.73" fill="#5793d7"/>
<rect x="331.08" y="853.48" width="8.29" height="11.73" fill="#abcaeb"/>
<rect x="339.36" y="853.48" width="16.58" height="11.73" fill="#5793d7"/>
<rect x="355.93" y="853.48" width="8.29" height="11.73" fill="#0962c5"/>
<rect x="364.22" y="853.48" width="8.29" height="11.73" fill="#abcaeb"/>
<rect x="372.5" y="853.48" width="8.29" height="11.73" fill="#5793d7"/>
<rect x="380.79" y="853.48" width="8.29" height="11.73" fill="#81aee1"/>
<rect x="389.07" y="853.48" width="8.29" height="11.73" fill="#2c78cd"/>
<rect x="397.36" y="853.48" width="16.58" height="11.73" fill="#abcaeb"/>
<rect x="413.93" y="853.48" width="8.29" height="11.73" fill="#0962c5"/>
<rect x="422.21" y="853.48" width="16.58" height="11.73" fill="#5793d7"/>
<rect x="438.78" y="853.48" width="8.29" height="11.73" fill="#2c78cd"/>
<rect x="447.07" y="853.48" width="16.58" height="11.73" fill="#81aee1"/>
<rect x="463.64" y="853.48" width="8.29" height="11.73" fill="#5793d7"/>
<rect x="471.92" y="853.48" width="8.29" height="11.73" fill="#abcaeb"/>
<rect x="480.21" y="853.48" width="8.29" height="11.73" fill="#5793d7"/>
<rect x="488.49" y="853.48" width="24.86" height="11.73" fill="#81aee1"/>
<rect x="513.35" y="853.48" width="8.29" height="11.73" fill="#5793d7"/>
<rect x="521.63" y="853.48" width="8.29" height="11.73" fill="#81aee1"/>
<rect x="529.92" y="853.48" width="8.29" height="11.73" fill="#5793d7"/>
</g>
<g font-family="'Liberation Sans', Arial, sans-serif" font-size="8" fill="#000" stroke="#000" stroke-width="0.2" transform="translate(541.7,0) scale(0.9,1)">
<text x="0" y="53.61">CCL2</text>
<text x="0" y="65.32">CCL3</text>
<text x="0" y="77.04">CCL4</text>
<text x="0" y="88.76">CCL7</text>
<text x="0" y="100.47">CCL11</text>
<text x="0" y="112.19">CCL16</text>
<text x="0" y="123.9">CCL17</text>
<text x="0" y="135.62">CCL22</text>
<text x="0" y="147.33">CCL23</text>
<text x="0" y="159.05">CCL28</text>
<text x="0" y="170.77">CX3CL1</text>
<text x="0" y="182.48">CXCL1</text>
<text x="0" y="194.2">CXCL2</text>
<text x="0" y="205.91">CXCL3</text>
<text x="0" y="217.63">CXCL5</text>
<text x="0" y="229.34">CXCL6</text>
<text x="0" y="241.06">CXCL9</text>
<text x="0" y="252.78">CXCL12</text>
<text x="0" y="264.49">CXCL14</text>
<text x="0" y="276.21">CXCL17</text>
<text x="0" y="287.92">XCL1</text>
<text x="0" y="299.64">XCL2</text>
<text x="0" y="311.35">CCR1</text>
<text x="0" y="323.07">CCR4</text>
<text x="0" y="334.79">CCR10</text>
<text x="0" y="346.5">CXCR2</text>
<text x="0" y="358.22">CXCR5</text>
<text x="0" y="369.93">CX3CR1</text>
<text x="0" y="381.65">B2M</text>
<text x="0" y="393.36">HLA-A</text>
<text x="0" y="405.08">HLA-B</text>
<text x="0" y="416.8">HLA-C</text>
<text x="0" y="428.51">HLA-DMA</text>
<text x="0" y="440.23">HLA-DMB</text>
<text x="0" y="451.94">HLA-DOB</text>
<text x="0" y="463.66">HLA-DPA1</text>
<text x="0" y="475.37">HLA-DPB1</text>
<text x="0" y="487.09">HLA-DQA1</text>
<text x="0" y="498.81">HLA-DQA2</text>
<text x="0" y="510.52">HLA-DQB1</text>
<text x="0" y="522.24">HLA-DRA</text>
<text x="0" y="533.95">HLA-DRB1</text>
<text x="0" y="545.67">HLA-E</text>
<text x="0" y="557.38">TAP1</text>
<text x="0" y="569.1">TAP2</text>
<text x="0" y="580.82">ADORA2A</text>
<text x="0" y="592.53">CD160</text>
<text x="0" y="604.25">CD96</text>
<text x="0" y="615.96">CTLA4</text>
<text x="0" y="627.68">IDO1</text>
<text x="0" y="639.39">IL10RB</text>
<text x="0" y="651.11">LAG3</text>
<text x="0" y="662.83">LGALS9</text>
<text x="0" y="674.54">PDCD1</text>
<text x="0" y="686.26">TGFBR1</text>
<text x="0" y="697.97">TIGIT</text>
<text x="0" y="709.69">CD276</text>
<text x="0" y="721.4">CD28</text>
<text x="0" y="733.12">CD40</text>
<text x="0" y="744.84">CD40LG</text>
<text x="0" y="756.55">CD70</text>
<text x="0" y="768.27">CD80</text>
<text x="0" y="779.98">HHLA2</text>
<text x="0" y="791.7">ICOSLG</text>
<text x="0" y="803.41">IL2RA</text>
<text x="0" y="815.13">IL6R</text>
<text x="0" y="826.85">TNFRSF4</text>
<text x="0" y="838.56">TNFRSF9</text>
<text x="0" y="850.28">TNFSF13</text>
<text x="0" y="861.99">TNFSF13B</text>
</g>
<g font-family="'Liberation Sans', Arial, sans-serif" font-size="12.9" fill="#000" stroke="#000" stroke-width="0.35">
<text transform="translate(73.79,869.7) rotate(90)">TCGA-DX-A48N</text>
<text transform="translate(82.08,869.7) rotate(90)">TCGA-QQ-A5VA</text>
<text transform="translate(90.36,869.7) rotate(90)">TCGA-DX-AB35</text>
<text transform="translate(98.65,869.7) rotate(90)">TCGA-DX-A1L0</text>
<text transform="translate(106.93,869.7) rotate(90)">TCGA-FX-A3NK</text>
<text transform="translate(115.22,869.7) rotate(90)">TCGA-SG-A6Z7</text>
<text transform="translate(123.5,869.7) rotate(90)">TCGA-DX-A23Z</text>
<text transform="translate(131.79,869.7) rotate(90)">TCGA-DX-A3LS</text>
<text transform="translate(140.07,869.7) rotate(90)">TCGA-DX-A1KW</text>
<text transform="translate(148.36,869.7) rotate(90)">TCGA-MO-A47P</text>
<text transform="translate(156.64,869.7) rotate(90)">TCGA-DX-A2J0</text>
<text transform="translate(164.93,869.7) rotate(90)">TCGA-DX-A23R</text>
<text transform="translate(173.21,869.7) rotate(90)">TCGA-DX-A1L1</text>
<text transform="translate(181.5,869.7) rotate(90)">TCGA-DX-AB2H</text>
<text transform="translate(189.78,869.7) rotate(90)">TCGA-DX-A2IZ</text>
<text transform="translate(198.06,869.7) rotate(90)">TCGA-DX-AB3A</text>
<text transform="translate(206.35,869.7) rotate(90)">TCGA-Z4-A9VC</text>
<text transform="translate(214.63,869.7) rotate(90)">TCGA-WK-A8XQ</text>
<text transform="translate(222.92,869.7) rotate(90)">TCGA-DX-A1KY</text>
<text transform="translate(231.2,869.7) rotate(90)">TCGA-DX-A3M1</text>
<text transform="translate(239.49,869.7) rotate(90)">TCGA-DX-A7EI</text>
<text transform="translate(247.77,869.7) rotate(90)">TCGA-DX-A240</text>
<text transform="translate(256.06,869.7) rotate(90)">TCGA-DX-A23U</text>
<text transform="translate(264.34,869.7) rotate(90)">TCGA-DX-A6BF</text>
<text transform="translate(272.63,869.7) rotate(90)">TCGA-DX-A1L2</text>
<text transform="translate(280.91,869.7) rotate(90)">TCGA-3B-A9HJ</text>
<text transform="translate(289.2,869.7) rotate(90)">TCGA-FX-A2QS</text>
<text transform="translate(297.48,869.7) rotate(90)">TCGA-DX-A23T</text>
<text transform="translate(305.77,869.7) rotate(90)">TCGA-DX-A2J4</text>
<text transform="translate(314.05,869.7) rotate(90)">TCGA-DX-A7ES</text>
<text transform="translate(322.34,869.7) rotate(90)">TCGA-DX-AB2G</text>
<text transform="translate(330.62,869.7) rotate(90)">TCGA-DX-A3LU</text>
<text transform="translate(338.91,869.7) rotate(90)">TCGA-DX-A6BG</text>
<text transform="translate(347.19,869.7) rotate(90)">TCGA-DX-A23V</text>
<text transform="translate(355.48,869.7) rotate(90)">TCGA-DX-AB36</text>
<text transform="translate(363.76,869.7) rotate(90)">TCGA-DX-A2J1</text>
<text transform="translate(372.05,869.7) rotate(90)">TCGA-WK-A8XO</text>
<text transform="translate(380.33,869.7) rotate(90)">TCGA-DX-A3U6</text>
<text transform="translate(388.62,869.7) rotate(90)">TCGA-DX-A1L4</text>
<text transform="translate(396.9,869.7) rotate(90)">TCGA-DX-A3M2</text>
<text transform="translate(405.19,869.7) rotate(90)">TCGA-DX-A23Y</text>
<text transform="translate(413.47,869.7) rotate(90)">TCGA-3R-A8YX</text>
<text transform="translate(421.75,869.7) rotate(90)">TCGA-IF-A3RQ</text>
<text transform="translate(430.04,869.7) rotate(90)">TCGA-DX-A6BH</text>
<text transform="translate(438.32,869.7) rotate(90)">TCGA-3B-A9HL</text>
<text transform="translate(446.61,869.7) rotate(90)">TCGA-DX-A3U5</text>
<text transform="translate(454.89,869.7) rotate(90)">TCGA-DX-A1KZ</text>
<text transform="translate(463.18,869.7) rotate(90)">TCGA-DX-A1L3</text>
<text transform="translate(471.46,869.7) rotate(90)">TCGA-3B-A9HO</text>
<text transform="translate(479.75,869.7) rotate(90)">TCGA-DX-A1KX</text>
<text transform="translate(488.03,869.7) rotate(90)">TCGA-DX-A6BE</text>
<text transform="translate(496.32,869.7) rotate(90)">TCGA-DX-A1KU</text>
<text transform="translate(504.6,869.7) rotate(90)">TCGA-DX-A3LW</text>
<text transform="translate(512.89,869.7) rotate(90)">TCGA-DX-AB37</text>
<text transform="translate(521.17,869.7) rotate(90)">TCGA-DX-AB2F</text>
<text transform="translate(529.46,869.7) rotate(90)">TCGA-DX-A3LT</text>
</g>
<text transform="translate(61.3,869.9) rotate(90)" font-family="'Liberation Sans', Arial, sans-serif" font-weight="bold" font-size="12.4">type</text>
<text x="542.4" y="38.4" font-family="'Liberation Sans', Arial, sans-serif" font-weight="bold" font-size="12.1">group</text>
<text x="579.6" y="39" font-family="'Liberation Sans', Arial, sans-serif" font-weight="bold" font-size="11.5">*</text>
<defs><linearGradient id="ga" x1="0" y1="1" x2="0" y2="0">
<stop offset="0.0" stop-color="#0660c4"/>
<stop offset="0.1" stop-color="#3880d0"/>
<stop offset="0.2" stop-color="#6aa0dc"/>
<stop offset="0.3" stop-color="#9bbfe7"/>
<stop offset="0.4" stop-color="#cddff3"/>
<stop offset="0.5" stop-color="#ffffff"/>
<stop offset="0.6" stop-color="#f5d1d2"/>
<stop offset="0.7" stop-color="#eba3a4"/>
<stop offset="0.8" stop-color="#e17477"/>
<stop offset="0.9" stop-color="#d74649"/>
<stop offset="1.0" stop-color="#cd181c"/>
</linearGradient>
<linearGradient id="gb" x1="0" y1="1" x2="0" y2="0">
<stop offset="0.0" stop-color="#2196f3"/>
<stop offset="0.1" stop-color="#3680e6"/>
<stop offset="0.2" stop-color="#4c69d9"/>
<stop offset="0.3" stop-color="#6153cc"/>
<stop offset="0.4" stop-color="#773cbf"/>
<stop offset="0.5" stop-color="#8c26b2"/>
<stop offset="0.6" stop-color="#9b2293"/>
<stop offset="0.7" stop-color="#aa1e74"/>
<stop offset="0.8" stop-color="#b81a56"/>
<stop offset="0.9" stop-color="#c71637"/>
<stop offset="1.0" stop-color="#d61218"/>
</linearGradient></defs>
<rect x="588.4" y="26.4" width="12.3" height="193.8" fill="url(#ga)"/>
<g font-family="'Liberation Sans', Arial, sans-serif" font-size="12" fill="#111">
<text x="605.6" y="224.5">0</text>
<text x="605.6" y="191.64">2</text>
<text x="605.6" y="158.78">4</text>
<text x="605.6" y="125.92">6</text>
<text x="605.6" y="93.06">8</text>
<text x="605.6" y="60.2">10</text>
</g>
<g font-family="'Liberation Sans', Arial, sans-serif" font-size="12.2" fill="#111">
<text x="625.6" y="36.6" font-weight="bold" font-size="11.9">group</text>
<rect x="625.2" y="42.3" width="19.5" height="20.3" fill="#333333"/>
<rect x="625.2" y="62.6" width="19.5" height="20.6" fill="#1f6293"/>
<text x="648.8" y="56.8">C1</text><text x="648.8" y="77.3">C2</text>
<text x="625.6" y="108.3" font-weight="bold" font-size="11.9">type</text>
<rect x="625.2" y="114.8" width="19.5" height="20.4" fill="#333333"/>
<text x="648.8" y="129.3">Chemokine</text>
<rect x="625.2" y="135.15" width="19.5" height="20.4" fill="#1f6293"/>
<text x="648.8" y="149.65">Receptor</text>
<rect x="625.2" y="155.5" width="19.5" height="20.4" fill="#f7c948"/>
<text x="648.8" y="170">MHC</text>
<rect x="625.2" y="175.85" width="19.5" height="20.4" fill="#c6e2d3"/>
<text x="648.8" y="190.35">Immunoinhibitor</text>
<rect x="625.2" y="196.2" width="19.5" height="20.4" fill="#f6ebc3"/>
<text x="648.8" y="210.7">Immunostimulator</text>
</g>
<text x="777" y="48.4" font-family="'Liberation Serif', 'Times New Roman', serif" font-weight="bold" font-size="41.5">(b)</text>
<rect x="858" y="26.8" width="297.75" height="11.8" fill="#333333"/>
<rect x="1155.75" y="26.8" width="496.25" height="11.8" fill="#1f6293"/>
<rect x="840.4" y="42.5" width="13.4" height="55.91" fill="#333333"/>
<rect x="840.4" y="98.41" width="13.4" height="33.55" fill="#1f6293"/>
<rect x="840.4" y="131.96" width="13.4" height="67.09" fill="#f7c948"/>
<rect x="840.4" y="199.05" width="13.4" height="111.82" fill="#c6e2d3"/>
<rect x="840.4" y="310.88" width="13.4" height="55.91" fill="#f6ebc3"/>
<rect x="840.4" y="366.79" width="13.4" height="55.91" fill="#333333"/>
<g shape-rendering="crispEdges">
<rect x="858" y="42.5" width="794.01" height="11.19" fill="#2295f2"/>
<rect x="858" y="53.68" width="794.01" height="11.19" fill="#2b8ced"/>
<rect x="858" y="64.86" width="794.01" height="11.19" fill="#2295f2"/>
<rect x="858" y="76.05" width="794.01" height="11.19" fill="#2295f2"/>
<rect x="858" y="87.23" width="794.01" height="11.19" fill="#377fe6"/>
<rect x="858" y="98.41" width="56.72" height="11.19" fill="#2295f2"/>
<rect x="914.71" y="98.41" width="14.19" height="11.19" fill="#377fe6"/>
<rect x="928.89" y="98.41" width="70.9" height="11.19" fill="#2295f2"/>
<rect x="999.79" y="98.41" width="14.19" height="11.19" fill="#377fe6"/>
<rect x="1013.96" y="98.41" width="28.37" height="11.19" fill="#2295f2"/>
<rect x="1042.32" y="98.41" width="14.19" height="11.19" fill="#377fe6"/>
<rect x="1056.5" y="98.41" width="85.08" height="11.19" fill="#2295f2"/>
<rect x="1141.57" y="98.41" width="14.19" height="11.19" fill="#377fe6"/>
<rect x="1155.75" y="98.41" width="439.55" height="11.19" fill="#2295f2"/>
<rect x="1595.29" y="98.41" width="14.19" height="11.19" fill="#377fe6"/>
<rect x="1609.46" y="98.41" width="42.55" height="11.19" fill="#2295f2"/>
<rect x="858" y="109.59" width="794.01" height="11.19" fill="#2295f2"/>
<rect x="858" y="120.78" width="28.37" height="11.19" fill="#377fe6"/>
<rect x="886.36" y="120.78" width="14.19" height="11.19" fill="#4570dd"/>
<rect x="900.54" y="120.78" width="14.19" height="11.19" fill="#377fe6"/>
<rect x="914.71" y="120.78" width="28.37" height="11.19" fill="#2b8ced"/>
<rect x="943.07" y="120.78" width="14.19" height="11.19" fill="#377fe6"/>
<rect x="957.25" y="120.78" width="28.37" height="11.19" fill="#4570dd"/>
<rect x="985.61" y="120.78" width="42.55" height="11.19" fill="#377fe6"/>
<rect x="1028.14" y="120.78" width="14.19" height="11.19" fill="#565fd3"/>
<rect x="1042.32" y="120.78" width="28.37" height="11.19" fill="#2295f2"/>
<rect x="1070.68" y="120.78" width="28.37" height="11.19" fill="#4570dd"/>
<rect x="1099.04" y="120.78" width="14.19" height="11.19" fill="#377fe6"/>
<rect x="1113.21" y="120.78" width="28.37" height="11.19" fill="#4570dd"/>
<rect x="1141.57" y="120.78" width="14.19" height="11.19" fill="#2295f2"/>
<rect x="1155.75" y="120.78" width="28.37" height="11.19" fill="#2b8ced"/>
<rect x="1184.11" y="120.78" width="28.37" height="11.19" fill="#565fd3"/>
<rect x="1212.46" y="120.78" width="28.37" height="11.19" fill="#377fe6"/>
<rect x="1240.82" y="120.78" width="14.19" height="11.19" fill="#565fd3"/>
<rect x="1255" y="120.78" width="14.19" height="11.19" fill="#2b8ced"/>
<rect x="1269.18" y="120.78" width="42.55" height="11.19" fill="#4570dd"/>
<rect x="1311.71" y="120.78" width="14.19" height="11.19" fill="#2b8ced"/>
<rect x="1325.89" y="120.78" width="14.19" height="11.19" fill="#565fd3"/>
<rect x="1340.07" y="120.78" width="14.19" height="11.19" fill="#2b8ced"/>
<rect x="1354.25" y="120.78" width="14.19" height="11.19" fill="#565fd3"/>
<rect x="1368.43" y="120.78" width="28.37" height="11.19" fill="#4570dd"/>
<rect x="1396.79" y="120.78" width="14.19" height="11.19" fill="#377fe6"/>
<rect x="1410.96" y="120.78" width="14.19" height="11.19" fill="#694ac7"/>
<rect x="1425.14" y="120.78" width="28.37" height="11.19" fill="#377fe6"/>
<rect x="1453.5" y="120.78" width="14.19" height="11.19" fill="#4570dd"/>
<rect x="1467.68" y="120.78" width="14.19" height="11.19" fill="#2b8ced"/>
<rect x="1481.86" y="120.78" width="42.55" height="11.19" fill="#4570dd"/>
<rect x="1524.39" y="120.78" width="14.19" height="11.19" fill="#377fe6"/>
<rect x="1538.57" y="120.78" width="14.19" height="11.19" fill="#565fd3"/>
<rect x="1552.75" y="120.78" width="28.37" height="11.19" fill="#377fe6"/>
<rect x="1581.11" y="120.78" width="14.19" height="11.19" fill="#4570dd"/>
<rect x="1595.29" y="120.78" width="14.19" height="11.19" fill="#377fe6"/>
<rect x="1609.46" y="120.78" width="42.55" height="11.19" fill="#4570dd"/>
<rect x="858" y="131.96" width="794.01" height="11.19" fill="#2295f2"/>
<rect x="858" y="143.14" width="14.19" height="11.19" fill="#2295f2"/>
<rect x="872.18" y="143.14" width="14.19" height="11.19" fill="#2b8ced"/>
<rect x="886.36" y="143.14" width="56.72" height="11.19" fill="#2295f2"/>
<rect x="943.07" y="143.14" width="28.37" height="11.19" fill="#377fe6"/>
<rect x="971.43" y="143.14" width="14.19" height="11.19" fill="#2b8ced"/>
<rect x="985.61" y="143.14" width="42.55" height="11.19" fill="#2295f2"/>
<rect x="1028.14" y="143.14" width="14.19" height="11.19" fill="#4570dd"/>
<rect x="1042.32" y="143.14" width="85.08" height="11.19" fill="#2295f2"/>
<rect x="1127.39" y="143.14" width="14.19" height="11.19" fill="#2b8ced"/>
<rect x="1141.57" y="143.14" width="42.55" height="11.19" fill="#2295f2"/>
<rect x="1184.11" y="143.14" width="14.19" height="11.19" fill="#4570dd"/>
<rect x="1198.29" y="143.14" width="14.19" height="11.19" fill="#377fe6"/>
<rect x="1212.46" y="143.14" width="28.37" height="11.19" fill="#2295f2"/>
<rect x="1240.82" y="143.14" width="14.19" height="11.19" fill="#4570dd"/>
<rect x="1255" y="143.14" width="14.19" height="11.19" fill="#2295f2"/>
<rect x="1269.18" y="143.14" width="14.19" height="11.19" fill="#2b8ced"/>
<rect x="1283.36" y="143.14" width="28.37" height="11.19" fill="#377fe6"/>
<rect x="1311.71" y="143.14" width="14.19" height="11.19" fill="#2295f2"/>
<rect x="1325.89" y="143.14" width="14.19" height="11.19" fill="#4570dd"/>
<rect x="1340.07" y="143.14" width="14.19" height="11.19" fill="#2295f2"/>
<rect x="1354.25" y="143.14" width="14.19" height="11.19" fill="#4570dd"/>
<rect x="1368.43" y="143.14" width="28.37" height="11.19" fill="#377fe6"/>
<rect x="1396.79" y="143.14" width="14.19" height="11.19" fill="#2295f2"/>
<rect x="1410.96" y="143.14" width="28.37" height="11.19" fill="#377fe6"/>
<rect x="1439.32" y="143.14" width="56.72" height="11.19" fill="#2295f2"/>
<rect x="1496.04" y="143.14" width="28.37" height="11.19" fill="#377fe6"/>
<rect x="1524.39" y="143.14" width="14.19" height="11.19" fill="#2295f2"/>
<rect x="1538.57" y="143.14" width="14.19" height="11.19" fill="#377fe6"/>
<rect x="1552.75" y="143.14" width="14.19" height="11.19" fill="#2295f2"/>
<rect x="1566.93" y="143.14" width="14.19" height="11.19" fill="#4570dd"/>
<rect x="1581.11" y="143.14" width="28.37" height="11.19" fill="#2295f2"/>
<rect x="1609.46" y="143.14" width="14.19" height="11.19" fill="#2b8ced"/>
<rect x="1623.64" y="143.14" width="28.37" height="11.19" fill="#377fe6"/>
<rect x="858" y="154.32" width="28.37" height="11.19" fill="#2295f2"/>
<rect x="886.36" y="154.32" width="14.19" height="11.19" fill="#4570dd"/>
<rect x="900.54" y="154.32" width="751.47" height="11.19" fill="#2295f2"/>
<rect x="858" y="165.51" width="311.94" height="11.19" fill="#2295f2"/>
<rect x="1169.93" y="165.51" width="14.19" height="11.19" fill="#2b8ced"/>
<rect x="1184.11" y="165.51" width="155.97" height="11.19" fill="#2295f2"/>
<rect x="1340.07" y="165.51" width="14.19" height="11.19" fill="#2b8ced"/>
<rect x="1354.25" y="165.51" width="42.55" height="11.19" fill="#2295f2"/>
<rect x="1396.79" y="165.51" width="14.19" height="11.19" fill="#2b8ced"/>
<rect x="1410.96" y="165.51" width="28.37" height="11.19" fill="#2295f2"/>
<rect x="1439.32" y="165.51" width="14.19" height="11.19" fill="#2b8ced"/>
<rect x="1453.5" y="165.51" width="198.51" height="11.19" fill="#2295f2"/>
<rect x="858" y="176.69" width="794.01" height="11.19" fill="#2295f2"/>
<rect x="858" y="187.87" width="14.19" height="11.19" fill="#4570dd"/>
<rect x="872.18" y="187.87" width="99.26" height="11.19" fill="#377fe6"/>
<rect x="971.43" y="187.87" width="28.37" height="11.19" fill="#4570dd"/>
<rect x="999.79" y="187.87" width="28.37" height="11.19" fill="#377fe6"/>
<rect x="1028.14" y="187.87" width="14.19" height="11.19" fill="#2b8ced"/>
<rect x="1042.32" y="187.87" width="28.37" height="11.19" fill="#4570dd"/>
<rect x="1070.68" y="187.87" width="28.37" height="11.19" fill="#377fe6"/>
<rect x="1099.04" y="187.87" width="14.19" height="11.19" fill="#4570dd"/>
<rect x="1113.21" y="187.87" width="28.37" height="11.19" fill="#377fe6"/>
<rect x="1141.57" y="187.87" width="28.37" height="11.19" fill="#4570dd"/>
<rect x="1169.93" y="187.87" width="14.19" height="11.19" fill="#377fe6"/>
<rect x="1184.11" y="187.87" width="28.37" height="11.19" fill="#2b8ced"/>
<rect x="1212.46" y="187.87" width="14.19" height="11.19" fill="#2295f2"/>
<rect x="1226.64" y="187.87" width="28.37" height="11.19" fill="#4570dd"/>
<rect x="1255" y="187.87" width="56.72" height="11.19" fill="#377fe6"/>
<rect x="1311.71" y="187.87" width="14.19" height="11.19" fill="#4570dd"/>
<rect x="1325.89" y="187.87" width="14.19" height="11.19" fill="#2b8ced"/>
<rect x="1340.07" y="187.87" width="14.19" height="11.19" fill="#4570dd"/>
<rect x="1354.25" y="187.87" width="14.19" height="11.19" fill="#377fe6"/>
<rect x="1368.43" y="187.87" width="14.19" height="11.19" fill="#4570dd"/>
<rect x="1382.61" y="187.87" width="42.55" height="11.19" fill="#377fe6"/>
<rect x="1425.14" y="187.87" width="14.19" height="11.19" fill="#2b8ced"/>
<rect x="1439.32" y="187.87" width="14.19" height="11.19" fill="#4570dd"/>
<rect x="1453.5" y="187.87" width="14.19" height="11.19" fill="#377fe6"/>
<rect x="1467.68" y="187.87" width="28.37" height="11.19" fill="#4570dd"/>
<rect x="1496.04" y="187.87" width="56.72" height="11.19" fill="#377fe6"/>
<rect x="1552.75" y="187.87" width="14.19" height="11.19" fill="#4570dd"/>
<rect x="1566.93" y="187.87" width="85.08" height="11.19" fill="#377fe6"/>
<rect x="858" y="199.05" width="14.19" height="11.19" fill="#2295f2"/>
<rect x="872.18" y="199.05" width="14.19" height="11.19" fill="#377fe6"/>
<rect x="886.36" y="199.05" width="56.72" height="11.19" fill="#2295f2"/>
<rect x="943.07" y="199.05" width="28.37" height="11.19" fill="#2b8ced"/>
<rect x="971.43" y="199.05" width="28.37" height="11.19" fill="#2295f2"/>
<rect x="999.79" y="199.05" width="14.19" height="11.19" fill="#2b8ced"/>
<rect x="1013.96" y="199.05" width="14.19" height="11.19" fill="#2295f2"/>
<rect x="1028.14" y="199.05" width="14.19" height="11.19" fill="#377fe6"/>
<rect x="1042.32" y="199.05" width="170.15" height="11.19" fill="#2295f2"/>
<rect x="1212.46" y="199.05" width="14.19" height="11.19" fill="#2b8ced"/>
<rect x="1226.64" y="199.05" width="14.19" height="11.19" fill="#2295f2"/>
<rect x="1240.82" y="199.05" width="14.19" height="11.19" fill="#377fe6"/>
<rect x="1255" y="199.05" width="42.55" height="11.19" fill="#2295f2"/>
<rect x="1297.54" y="199.05" width="14.19" height="11.19" fill="#377fe6"/>
<rect x="1311.71" y="199.05" width="56.72" height="11.19" fill="#2295f2"/>
<rect x="1368.43" y="199.05" width="28.37" height="11.19" fill="#2b8ced"/>
<rect x="1396.79" y="199.05" width="28.37" height="11.19" fill="#2295f2"/>
<rect x="1425.14" y="199.05" width="14.19" height="11.19" fill="#377fe6"/>
<rect x="1439.32" y="199.05" width="85.08" height="11.19" fill="#2295f2"/>
<rect x="1524.39" y="199.05" width="28.37" height="11.19" fill="#2b8ced"/>
<rect x="1552.75" y="199.05" width="14.19" height="11.19" fill="#2295f2"/>
<rect x="1566.93" y="199.05" width="28.37" height="11.19" fill="#377fe6"/>
<rect x="1595.29" y="199.05" width="56.72" height="11.19" fill="#2295f2"/>
<rect x="858" y="210.24" width="14.19" height="11.19" fill="#2295f2"/>
<rect x="872.18" y="210.24" width="14.19" height="11.19" fill="#2b8ced"/>
<rect x="886.36" y="210.24" width="297.76" height="11.19" fill="#2295f2"/>
<rect x="1184.11" y="210.24" width="28.37" height="11.19" fill="#2b8ced"/>
<rect x="1212.46" y="210.24" width="397.01" height="11.19" fill="#2295f2"/>
<rect x="1609.46" y="210.24" width="14.19" height="11.19" fill="#2b8ced"/>
<rect x="1623.64" y="210.24" width="28.37" height="11.19" fill="#2295f2"/>
<rect x="858" y="221.42" width="14.19" height="11.19" fill="#2295f2"/>
<rect x="872.18" y="221.42" width="14.19" height="11.19" fill="#2b8ced"/>
<rect x="886.36" y="221.42" width="297.76" height="11.19" fill="#2295f2"/>
<rect x="1184.11" y="221.42" width="28.37" height="11.19" fill="#2b8ced"/>
<rect x="1212.46" y="221.42" width="141.8" height="11.19" fill="#2295f2"/>
<rect x="1354.25" y="221.42" width="14.19" height="11.19" fill="#2b8ced"/>
<rect x="1368.43" y="221.42" width="28.37" height="11.19" fill="#2295f2"/>
<rect x="1396.79" y="221.42" width="28.37" height="11.19" fill="#2b8ced"/>
<rect x="1425.14" y="221.42" width="226.87" height="11.19" fill="#2295f2"/>
<rect x="858" y="232.6" width="326.12" height="11.19" fill="#2295f2"/>
<rect x="1184.11" y="232.6" width="14.19" height="11.19" fill="#2b8ced"/>
<rect x="1198.29" y="232.6" width="14.19" height="11.19" fill="#2295f2"/>
<rect x="1212.46" y="232.6" width="14.19" height="11.19" fill="#2b8ced"/>
<rect x="1226.64" y="232.6" width="425.37" height="11.19" fill="#2295f2"/>
<rect x="858" y="243.78" width="340.3" height="11.19" fill="#2295f2"/>
<rect x="1198.29" y="243.78" width="14.19" height="11.19" fill="#2b8ced"/>
<rect x="1212.46" y="243.78" width="42.55" height="11.19" fill="#2295f2"/>
<rect x="1255" y="243.78" width="14.19" height="11.19" fill="#2b8ced"/>
<rect x="1269.18" y="243.78" width="382.83" height="11.19" fill="#2295f2"/>
<rect x="858" y="254.96" width="397.01" height="11.19" fill="#2295f2"/>
<rect x="1255" y="254.96" width="14.19" height="11.19" fill="#377fe6"/>
<rect x="1269.18" y="254.96" width="382.83" height="11.19" fill="#2295f2"/>
<rect x="858" y="266.15" width="326.12" height="11.19" fill="#2295f2"/>
<rect x="1184.11" y="266.15" width="14.19" height="11.19" fill="#377fe6"/>
<rect x="1198.29" y="266.15" width="42.55" height="11.19" fill="#2295f2"/>
<rect x="1240.82" y="266.15" width="14.19" height="11.19" fill="#377fe6"/>
<rect x="1255" y="266.15" width="42.55" height="11.19" fill="#2295f2"/>
<rect x="1297.54" y="266.15" width="14.19" height="11.19" fill="#2b8ced"/>
<rect x="1311.71" y="266.15" width="14.19" height="11.19" fill="#2295f2"/>
<rect x="1325.89" y="266.15" width="14.19" height="11.19" fill="#2b8ced"/>
<rect x="1340.07" y="266.15" width="14.19" height="11.19" fill="#2295f2"/>
<rect x="1354.25" y="266.15" width="14.19" height="11.19" fill="#2b8ced"/>
<rect x="1368.43" y="266.15" width="28.37" height="11.19" fill="#2295f2"/>
<rect x="1396.79" y="266.15" width="14.19" height="11.19" fill="#377fe6"/>
<rect x="1410.96" y="266.15" width="14.19" height="11.19" fill="#2b8ced"/>
<rect x="1425.14" y="266.15" width="70.9" height="11.19" fill="#2295f2"/>
<rect x="1496.04" y="266.15" width="14.19" height="11.19" fill="#2b8ced"/>
<rect x="1510.21" y="266.15" width="28.37" height="11.19" fill="#2295f2"/>
<rect x="1538.57" y="266.15" width="14.19" height="11.19" fill="#377fe6"/>
<rect x="1552.75" y="266.15" width="56.72" height="11.19" fill="#2295f2"/>
<rect x="1609.46" y="266.15" width="14.19" height="11.19" fill="#377fe6"/>
<rect x="1623.64" y="266.15" width="28.37" height="11.19" fill="#2295f2"/>
<rect x="858" y="277.33" width="794.01" height="11.19" fill="#2295f2"/>
<rect x="858" y="288.51" width="354.47" height="11.19" fill="#2295f2"/>
<rect x="1212.46" y="288.51" width="14.19" height="11.19" fill="#2b8ced"/>
<rect x="1226.64" y="288.51" width="42.55" height="11.19" fill="#2295f2"/>
<rect x="1269.18" y="288.51" width="14.19" height="11.19" fill="#2b8ced"/>
<rect x="1283.36" y="288.51" width="368.65" height="11.19" fill="#2295f2"/>
<rect x="858" y="299.69" width="354.47" height="11.19" fill="#2295f2"/>
<rect x="1212.46" y="299.69" width="14.19" height="11.19" fill="#2b8ced"/>
<rect x="1226.64" y="299.69" width="14.19" height="11.19" fill="#2295f2"/>
<rect x="1240.82" y="299.69" width="14.19" height="11.19" fill="#2b8ced"/>
<rect x="1255" y="299.69" width="354.47" height="11.19" fill="#2295f2"/>
<rect x="1609.46" y="299.69" width="14.19" height="11.19" fill="#2b8ced"/>
<rect x="1623.64" y="299.69" width="28.37" height="11.19" fill="#2295f2"/>
<rect x="858" y="310.88" width="794.01" height="11.19" fill="#2295f2"/>
<rect x="858" y="322.06" width="14.19" height="11.19" fill="#2295f2"/>
<rect x="872.18" y="322.06" width="14.19" height="11.19" fill="#2b8ced"/>
<rect x="886.36" y="322.06" width="70.9" height="11.19" fill="#2295f2"/>
<rect x="957.25" y="322.06" width="14.19" height="11.19" fill="#2b8ced"/>
<rect x="971.43" y="322.06" width="241.05" height="11.19" fill="#2295f2"/>
<rect x="1212.46" y="322.06" width="14.19" height="11.19" fill="#377fe6"/>
<rect x="1226.64" y="322.06" width="14.19" height="11.19" fill="#2295f2"/>
<rect x="1240.82" y="322.06" width="42.55" height="11.19" fill="#2b8ced"/>
<rect x="1283.36" y="322.06" width="42.55" height="11.19" fill="#2295f2"/>
<rect x="1325.89" y="322.06" width="85.08" height="11.19" fill="#2b8ced"/>
<rect x="1410.96" y="322.06" width="42.55" height="11.19" fill="#2295f2"/>
<rect x="1453.5" y="322.06" width="14.19" height="11.19" fill="#2b8ced"/>
<rect x="1467.68" y="322.06" width="14.19" height="11.19" fill="#2295f2"/>
<rect x="1481.86" y="322.06" width="14.19" height="11.19" fill="#2b8ced"/>
<rect x="1496.04" y="322.06" width="14.19" height="11.19" fill="#2295f2"/>
<rect x="1510.21" y="322.06" width="14.19" height="11.19" fill="#2b8ced"/>
<rect x="1524.39" y="322.06" width="42.55" height="11.19" fill="#2295f2"/>
<rect x="1566.93" y="322.06" width="28.37" height="11.19" fill="#2b8ced"/>
<rect x="1595.29" y="322.06" width="42.55" height="11.19" fill="#2295f2"/>
<rect x="1637.82" y="322.06" width="14.19" height="11.19" fill="#2b8ced"/>
<rect x="858" y="333.24" width="524.62" height="11.19" fill="#2295f2"/>
<rect x="1382.61" y="333.24" width="14.19" height="11.19" fill="#377fe6"/>
<rect x="1396.79" y="333.24" width="28.37" height="11.19" fill="#2295f2"/>
<rect x="1425.14" y="333.24" width="14.19" height="11.19" fill="#377fe6"/>
<rect x="1439.32" y="333.24" width="99.26" height="11.19" fill="#2295f2"/>
<rect x="1538.57" y="333.24" width="14.19" height="11.19" fill="#2b8ced"/>
<rect x="1552.75" y="333.24" width="99.26" height="11.19" fill="#2295f2"/>
<rect x="858" y="344.42" width="794.01" height="11.19" fill="#2295f2"/>
<rect x="858" y="355.61" width="14.19" height="11.19" fill="#4570dd"/>
<rect x="872.18" y="355.61" width="56.72" height="11.19" fill="#377fe6"/>
<rect x="928.89" y="355.61" width="28.37" height="11.19" fill="#4570dd"/>
<rect x="957.25" y="355.61" width="85.08" height="11.19" fill="#377fe6"/>
<rect x="1042.32" y="355.61" width="28.37" height="11.19" fill="#4570dd"/>
<rect x="1070.68" y="355.61" width="42.55" height="11.19" fill="#377fe6"/>
<rect x="1113.21" y="355.61" width="14.19" height="11.19" fill="#4570dd"/>
<rect x="1127.39" y="355.61" width="85.08" height="11.19" fill="#377fe6"/>
<rect x="1212.46" y="355.61" width="14.19" height="11.19" fill="#2b8ced"/>
<rect x="1226.64" y="355.61" width="14.19" height="11.19" fill="#4570dd"/>
<rect x="1240.82" y="355.61" width="42.55" height="11.19" fill="#377fe6"/>
<rect x="1283.36" y="355.61" width="56.72" height="11.19" fill="#4570dd"/>
<rect x="1340.07" y="355.61" width="42.55" height="11.19" fill="#377fe6"/>
<rect x="1382.61" y="355.61" width="28.37" height="11.19" fill="#4570dd"/>
<rect x="1410.96" y="355.61" width="28.37" height="11.19" fill="#377fe6"/>
<rect x="1439.32" y="355.61" width="42.55" height="11.19" fill="#4570dd"/>
<rect x="1481.86" y="355.61" width="14.19" height="11.19" fill="#377fe6"/>
<rect x="1496.04" y="355.61" width="28.37" height="11.19" fill="#4570dd"/>
<rect x="1524.39" y="355.61" width="42.55" height="11.19" fill="#377fe6"/>
<rect x="1566.93" y="355.61" width="28.37" height="11.19" fill="#4570dd"/>
<rect x="1595.29" y="355.61" width="14.19" height="11.19" fill="#377fe6"/>
<rect x="1609.46" y="355.61" width="42.55" height="11.19" fill="#4570dd"/>
<rect x="858" y="366.79" width="14.19" height="11.19" fill="#377fe6"/>
<rect x="872.18" y="366.79" width="14.19" height="11.19" fill="#9c2291"/>
<rect x="886.36" y="366.79" width="28.37" height="11.19" fill="#377fe6"/>
<rect x="914.71" y="366.79" width="14.19" height="11.19" fill="#4570dd"/>
<rect x="928.89" y="366.79" width="28.37" height="11.19" fill="#377fe6"/>
<rect x="957.25" y="366.79" width="14.19" height="11.19" fill="#565fd3"/>
<rect x="971.43" y="366.79" width="14.19" height="11.19" fill="#2b8ced"/>
<rect x="985.61" y="366.79" width="28.37" height="11.19" fill="#4570dd"/>
<rect x="1013.96" y="366.79" width="14.19" height="11.19" fill="#377fe6"/>
<rect x="1028.14" y="366.79" width="14.19" height="11.19" fill="#694ac7"/>
<rect x="1042.32" y="366.79" width="70.9" height="11.19" fill="#377fe6"/>
<rect x="1113.21" y="366.79" width="14.19" height="11.19" fill="#2b8ced"/>
<rect x="1127.39" y="366.79" width="56.72" height="11.19" fill="#377fe6"/>
<rect x="1184.11" y="366.79" width="14.19" height="11.19" fill="#565fd3"/>
<rect x="1198.29" y="366.79" width="14.19" height="11.19" fill="#377fe6"/>
<rect x="1212.46" y="366.79" width="14.19" height="11.19" fill="#b31b60"/>
<rect x="1226.64" y="366.79" width="14.19" height="11.19" fill="#377fe6"/>
<rect x="1240.82" y="366.79" width="14.19" height="11.19" fill="#694ac7"/>
<rect x="1255" y="366.79" width="14.19" height="11.19" fill="#565fd3"/>
<rect x="1269.18" y="366.79" width="14.19" height="11.19" fill="#694ac7"/>
<rect x="1283.36" y="366.79" width="14.19" height="11.19" fill="#4570dd"/>
<rect x="1297.54" y="366.79" width="14.19" height="11.19" fill="#694ac7"/>
<rect x="1311.71" y="366.79" width="14.19" height="11.19" fill="#565fd3"/>
<rect x="1325.89" y="366.79" width="14.19" height="11.19" fill="#4570dd"/>
<rect x="1340.07" y="366.79" width="14.19" height="11.19" fill="#377fe6"/>
<rect x="1354.25" y="366.79" width="28.37" height="11.19" fill="#565fd3"/>
<rect x="1382.61" y="366.79" width="14.19" height="11.19" fill="#8131b8"/>
<rect x="1396.79" y="366.79" width="14.19" height="11.19" fill="#377fe6"/>
<rect x="1410.96" y="366.79" width="14.19" height="11.19" fill="#565fd3"/>
<rect x="1425.14" y="366.79" width="14.19" height="11.19" fill="#694ac7"/>
<rect x="1439.32" y="366.79" width="70.9" height="11.19" fill="#377fe6"/>
<rect x="1510.21" y="366.79" width="28.37" height="11.19" fill="#4570dd"/>
<rect x="1538.57" y="366.79" width="14.19" height="11.19" fill="#8131b8"/>
<rect x="1552.75" y="366.79" width="14.19" height="11.19" fill="#4570dd"/>
<rect x="1566.93" y="366.79" width="14.19" height="11.19" fill="#565fd3"/>
<rect x="1581.11" y="366.79" width="28.37" height="11.19" fill="#377fe6"/>
<rect x="1609.46" y="366.79" width="14.19" height="11.19" fill="#694ac7"/>
<rect x="1623.64" y="366.79" width="14.19" height="11.19" fill="#377fe6"/>
<rect x="1637.82" y="366.79" width="14.19" height="11.19" fill="#565fd3"/>
<rect x="858" y="377.97" width="14.19" height="11.19" fill="#2b8ced"/>
<rect x="872.18" y="377.97" width="14.19" height="11.19" fill="#b31b60"/>
<rect x="886.36" y="377.97" width="14.19" height="11.19" fill="#377fe6"/>
<rect x="900.54" y="377.97" width="14.19" height="11.19" fill="#2295f2"/>
<rect x="914.71" y="377.97" width="14.19" height="11.19" fill="#4570dd"/>
<rect x="928.89" y="377.97" width="14.19" height="11.19" fill="#2295f2"/>
<rect x="943.07" y="377.97" width="14.19" height="11.19" fill="#377fe6"/>
<rect x="957.25" y="377.97" width="14.19" height="11.19" fill="#4570dd"/>
<rect x="971.43" y="377.97" width="14.19" height="11.19" fill="#377fe6"/>
<rect x="985.61" y="377.97" width="14.19" height="11.19" fill="#565fd3"/>
<rect x="999.79" y="377.97" width="14.19" height="11.19" fill="#377fe6"/>
<rect x="1013.96" y="377.97" width="14.19" height="11.19" fill="#2b8ced"/>
<rect x="1028.14" y="377.97" width="14.19" height="11.19" fill="#b31b60"/>
<rect x="1042.32" y="377.97" width="28.37" height="11.19" fill="#2295f2"/>
<rect x="1070.68" y="377.97" width="14.19" height="11.19" fill="#377fe6"/>
<rect x="1084.86" y="377.97" width="14.19" height="11.19" fill="#4570dd"/>
<rect x="1099.04" y="377.97" width="14.19" height="11.19" fill="#377fe6"/>
<rect x="1113.21" y="377.97" width="14.19" height="11.19" fill="#2295f2"/>
<rect x="1127.39" y="377.97" width="14.19" height="11.19" fill="#565fd3"/>
<rect x="1141.57" y="377.97" width="14.19" height="11.19" fill="#d11322"/>
<rect x="1155.75" y="377.97" width="28.37" height="11.19" fill="#377fe6"/>
<rect x="1184.11" y="377.97" width="14.19" height="11.19" fill="#4570dd"/>
<rect x="1198.29" y="377.97" width="14.19" height="11.19" fill="#8131b8"/>
<rect x="1212.46" y="377.97" width="14.19" height="11.19" fill="#b31b60"/>
<rect x="1226.64" y="377.97" width="14.19" height="11.19" fill="#377fe6"/>
<rect x="1240.82" y="377.97" width="14.19" height="11.19" fill="#9c2291"/>
<rect x="1255" y="377.97" width="14.19" height="11.19" fill="#4570dd"/>
<rect x="1269.18" y="377.97" width="14.19" height="11.19" fill="#8131b8"/>
<rect x="1283.36" y="377.97" width="14.19" height="11.19" fill="#377fe6"/>
<rect x="1297.54" y="377.97" width="14.19" height="11.19" fill="#b31b60"/>
<rect x="1311.71" y="377.97" width="14.19" height="11.19" fill="#9c2291"/>
<rect x="1325.89" y="377.97" width="14.19" height="11.19" fill="#377fe6"/>
<rect x="1340.07" y="377.97" width="14.19" height="11.19" fill="#2295f2"/>
<rect x="1354.25" y="377.97" width="28.37" height="11.19" fill="#565fd3"/>
<rect x="1382.61" y="377.97" width="14.19" height="11.19" fill="#d11322"/>
<rect x="1396.79" y="377.97" width="14.19" height="11.19" fill="#2295f2"/>
<rect x="1410.96" y="377.97" width="14.19" height="11.19" fill="#9c2291"/>
<rect x="1425.14" y="377.97" width="14.19" height="11.19" fill="#c4173d"/>
<rect x="1439.32" y="377.97" width="14.19" height="11.19" fill="#377fe6"/>
<rect x="1453.5" y="377.97" width="14.19" height="11.19" fill="#2295f2"/>
<rect x="1467.68" y="377.97" width="14.19" height="11.19" fill="#377fe6"/>
<rect x="1481.86" y="377.97" width="14.19" height="11.19" fill="#2295f2"/>
<rect x="1496.04" y="377.97" width="14.19" height="11.19" fill="#2b8ced"/>
<rect x="1510.21" y="377.97" width="28.37" height="11.19" fill="#565fd3"/>
<rect x="1538.57" y="377.97" width="14.19" height="11.19" fill="#d11322"/>
<rect x="1552.75" y="377.97" width="14.19" height="11.19" fill="#377fe6"/>
<rect x="1566.93" y="377.97" width="14.19" height="11.19" fill="#9c2291"/>
<rect x="1581.11" y="377.97" width="14.19" height="11.19" fill="#565fd3"/>
<rect x="1595.29" y="377.97" width="14.19" height="11.19" fill="#2295f2"/>
<rect x="1609.46" y="377.97" width="14.19" height="11.19" fill="#9c2291"/>
<rect x="1623.64" y="377.97" width="14.19" height="11.19" fill="#2295f2"/>
<rect x="1637.82" y="377.97" width="14.19" height="11.19" fill="#694ac7"/>
<rect x="858" y="389.15" width="14.19" height="11.19" fill="#8131b8"/>
<rect x="872.18" y="389.15" width="14.19" height="11.19" fill="#b31b60"/>
<rect x="886.36" y="389.15" width="42.55" height="11.19" fill="#8131b8"/>
<rect x="928.89" y="389.15" width="14.19" height="11.19" fill="#4570dd"/>
<rect x="943.07" y="389.15" width="28.37" height="11.19" fill="#9c2291"/>
<rect x="971.43" y="389.15" width="14.19" height="11.19" fill="#8131b8"/>
<rect x="985.61" y="389.15" width="28.37" height="11.19" fill="#694ac7"/>
<rect x="1013.96" y="389.15" width="14.19" height="11.19" fill="#565fd3"/>
<rect x="1028.14" y="389.15" width="14.19" height="11.19" fill="#c4173d"/>
<rect x="1042.32" y="389.15" width="28.37" height="11.19" fill="#377fe6"/>
<rect x="1070.68" y="389.15" width="14.19" height="11.19" fill="#694ac7"/>
<rect x="1084.86" y="389.15" width="14.19" height="11.19" fill="#9c2291"/>
<rect x="1099.04" y="389.15" width="14.19" height="11.19" fill="#8131b8"/>
<rect x="1113.21" y="389.15" width="14.19" height="11.19" fill="#694ac7"/>
<rect x="1127.39" y="389.15" width="14.19" height="11.19" fill="#9c2291"/>
<rect x="1141.57" y="389.15" width="14.19" height="11.19" fill="#377fe6"/>
<rect x="1155.75" y="389.15" width="14.19" height="11.19" fill="#565fd3"/>
<rect x="1169.93" y="389.15" width="14.19" height="11.19" fill="#8131b8"/>
<rect x="1184.11" y="389.15" width="14.19" height="11.19" fill="#b31b60"/>
<rect x="1198.29" y="389.15" width="28.37" height="11.19" fill="#c4173d"/>
<rect x="1226.64" y="389.15" width="14.19" height="11.19" fill="#8131b8"/>
<rect x="1240.82" y="389.15" width="14.19" height="11.19" fill="#b31b60"/>
<rect x="1255" y="389.15" width="14.19" height="11.19" fill="#9c2291"/>
<rect x="1269.18" y="389.15" width="14.19" height="11.19" fill="#c4173d"/>
<rect x="1283.36" y="389.15" width="14.19" height="11.19" fill="#b31b60"/>
<rect x="1297.54" y="389.15" width="14.19" height="11.19" fill="#c4173d"/>
<rect x="1311.71" y="389.15" width="14.19" height="11.19" fill="#9c2291"/>
<rect x="1325.89" y="389.15" width="14.19" height="11.19" fill="#d11322"/>
<rect x="1340.07" y="389.15" width="14.19" height="11.19" fill="#694ac7"/>
<rect x="1354.25" y="389.15" width="14.19" height="11.19" fill="#c4173d"/>
<rect x="1368.43" y="389.15" width="14.19" height="11.19" fill="#9c2291"/>
<rect x="1382.61" y="389.15" width="14.19" height="11.19" fill="#c4173d"/>
<rect x="1396.79" y="389.15" width="14.19" height="11.19" fill="#b31b60"/>
<rect x="1410.96" y="389.15" width="28.37" height="11.19" fill="#c4173d"/>
<rect x="1439.32" y="389.15" width="14.19" height="11.19" fill="#694ac7"/>
<rect x="1453.5" y="389.15" width="14.19" height="11.19" fill="#9c2291"/>
<rect x="1467.68" y="389.15" width="14.19" height="11.19" fill="#565fd3"/>
<rect x="1481.86" y="389.15" width="14.19" height="11.19" fill="#9c2291"/>
<rect x="1496.04" y="389.15" width="56.72" height="11.19" fill="#b31b60"/>
<rect x="1552.75" y="389.15" width="28.37" height="11.19" fill="#9c2291"/>
<rect x="1581.11" y="389.15" width="14.19" height="11.19" fill="#8131b8"/>
<rect x="1595.29" y="389.15" width="14.19" height="11.19" fill="#694ac7"/>
<rect x="1609.46" y="389.15" width="14.19" height="11.19" fill="#c4173d"/>
<rect x="1623.64" y="389.15" width="28.37" height="11.19" fill="#b31b60"/>
<rect x="858" y="400.34" width="14.19" height="11.19" fill="#8131b8"/>
<rect x="872.18" y="400.34" width="14.19" height="11.19" fill="#b31b60"/>
<rect x="886.36" y="400.34" width="42.55" height="11.19" fill="#8131b8"/>
<rect x="928.89" y="400.34" width="14.19" height="11.19" fill="#4570dd"/>
<rect x="943.07" y="400.34" width="28.37" height="11.19" fill="#9c2291"/>
<rect x="971.43" y="400.34" width="14.19" height="11.19" fill="#8131b8"/>
<rect x="985.61" y="400.34" width="28.37" height="11.19" fill="#694ac7"/>
<rect x="1013.96" y="400.34" width="14.19" height="11.19" fill="#565fd3"/>
<rect x="1028.14" y="400.34" width="14.19" height="11.19" fill="#c4173d"/>
<rect x="1042.32" y="400.34" width="28.37" height="11.19" fill="#377fe6"/>
<rect x="1070.68" y="400.34" width="14.19" height="11.19" fill="#694ac7"/>
<rect x="1084.86" y="400.34" width="14.19" height="11.19" fill="#9c2291"/>
<rect x="1099.04" y="400.34" width="14.19" height="11.19" fill="#8131b8"/>
<rect x="1113.21" y="400.34" width="14.19" height="11.19" fill="#694ac7"/>
<rect x="1127.39" y="400.34" width="14.19" height="11.19" fill="#9c2291"/>
<rect x="1141.57" y="400.34" width="14.19" height="11.19" fill="#377fe6"/>
<rect x="1155.75" y="400.34" width="14.19" height="11.19" fill="#565fd3"/>
<rect x="1169.93" y="400.34" width="14.19" height="11.19" fill="#8131b8"/>
<rect x="1184.11" y="400.34" width="14.19" height="11.19" fill="#b31b60"/>
<rect x="1198.29" y="400.34" width="28.37" height="11.19" fill="#c4173d"/>
<rect x="1226.64" y="400.34" width="14.19" height="11.19" fill="#8131b8"/>
<rect x="1240.82" y="400.34" width="14.19" height="11.19" fill="#b31b60"/>
<rect x="1255" y="400.34" width="14.19" height="11.19" fill="#9c2291"/>
<rect x="1269.18" y="400.34" width="14.19" height="11.19" fill="#b31b60"/>
<rect x="1283.36" y="400.34" width="14.19" height="11.19" fill="#9c2291"/>
<rect x="1297.54" y="400.34" width="14.19" height="11.19" fill="#b31b60"/>
<rect x="1311.71" y="400.34" width="14.19" height="11.19" fill="#9c2291"/>
<rect x="1325.89" y="400.34" width="14.19" height="11.19" fill="#c4173d"/>
<rect x="1340.07" y="400.34" width="14.19" height="11.19" fill="#694ac7"/>
<rect x="1354.25" y="400.34" width="14.19" height="11.19" fill="#c4173d"/>
<rect x="1368.43" y="400.34" width="14.19" height="11.19" fill="#9c2291"/>
<rect x="1382.61" y="400.34" width="56.72" height="11.19" fill="#b31b60"/>
<rect x="1439.32" y="400.34" width="14.19" height="11.19" fill="#694ac7"/>
<rect x="1453.5" y="400.34" width="14.19" height="11.19" fill="#9c2291"/>
<rect x="1467.68" y="400.34" width="14.19" height="11.19" fill="#694ac7"/>
<rect x="1481.86" y="400.34" width="14.19" height="11.19" fill="#9c2291"/>
<rect x="1496.04" y="400.34" width="56.72" height="11.19" fill="#b31b60"/>
<rect x="1552.75" y="400.34" width="28.37" height="11.19" fill="#9c2291"/>
<rect x="1581.11" y="400.34" width="14.19" height="11.19" fill="#8131b8"/>
<rect x="1595.29" y="400.34" width="14.19" height="11.19" fill="#694ac7"/>
<rect x="1609.46" y="400.34" width="14.19" height="11.19" fill="#b31b60"/>
<rect x="1623.64" y="400.34" width="28.37" height="11.19" fill="#9c2291"/>
<rect x="858" y="411.52" width="14.19" height="11.19" fill="#377fe6"/>
<rect x="872.18" y="411.52" width="14.19" height="11.19" fill="#9c2291"/>
<rect x="886.36" y="411.52" width="28.37" height="11.19" fill="#2b8ced"/>
<rect x="914.71" y="411.52" width="28.37" height="11.19" fill="#377fe6"/>
<rect x="943.07" y="411.52" width="28.37" height="11.19" fill="#4570dd"/>
<rect x="971.43" y="411.52" width="14.19" height="11.19" fill="#2b8ced"/>
<rect x="985.61" y="411.52" width="42.55" height="11.19" fill="#377fe6"/>
<rect x="1028.14" y="411.52" width="14.19" height="11.19" fill="#565fd3"/>
<rect x="1042.32" y="411.52" width="28.37" height="11.19" fill="#2b8ced"/>
<rect x="1070.68" y="411.52" width="70.9" height="11.19" fill="#377fe6"/>
<rect x="1141.57" y="411.52" width="42.55" height="11.19" fill="#2b8ced"/>
<rect x="1184.11" y="411.52" width="28.37" height="11.19" fill="#4570dd"/>
<rect x="1212.46" y="411.52" width="14.19" height="11.19" fill="#565fd3"/>
<rect x="1226.64" y="411.52" width="14.19" height="11.19" fill="#377fe6"/>
<rect x="1240.82" y="411.52" width="14.19" height="11.19" fill="#694ac7"/>
<rect x="1255" y="411.52" width="28.37" height="11.19" fill="#4570dd"/>
<rect x="1283.36" y="411.52" width="14.19" height="11.19" fill="#377fe6"/>
<rect x="1297.54" y="411.52" width="28.37" height="11.19" fill="#4570dd"/>
<rect x="1325.89" y="411.52" width="14.19" height="11.19" fill="#565fd3"/>
<rect x="1340.07" y="411.52" width="14.19" height="11.19" fill="#2295f2"/>
<rect x="1354.25" y="411.52" width="28.37" height="11.19" fill="#4570dd"/>
<rect x="1382.61" y="411.52" width="14.19" height="11.19" fill="#694ac7"/>
<rect x="1396.79" y="411.52" width="42.55" height="11.19" fill="#4570dd"/>
<rect x="1439.32" y="411.52" width="28.37" height="11.19" fill="#377fe6"/>
<rect x="1467.68" y="411.52" width="14.19" height="11.19" fill="#4570dd"/>
<rect x="1481.86" y="411.52" width="14.19" height="11.19" fill="#2b8ced"/>
<rect x="1496.04" y="411.52" width="14.19" height="11.19" fill="#565fd3"/>
<rect x="1510.21" y="411.52" width="28.37" height="11.19" fill="#4570dd"/>
<rect x="1538.57" y="411.52" width="14.19" height="11.19" fill="#694ac7"/>
<rect x="1552.75" y="411.52" width="14.19" height="11.19" fill="#4570dd"/>
<rect x="1566.93" y="411.52" width="14.19" height="11.19" fill="#565fd3"/>
<rect x="1581.11" y="411.52" width="14.19" height="11.19" fill="#2b8ced"/>
<rect x="1595.29" y="411.52" width="14.19" height="11.19" fill="#377fe6"/>
<rect x="1609.46" y="411.52" width="14.19" height="11.19" fill="#694ac7"/>
<rect x="1623.64" y="411.52" width="14.19" height="11.19" fill="#377fe6"/>
<rect x="1637.82" y="411.52" width="14.19" height="11.19" fill="#4570dd"/>
</g>
<g font-family="'Liberation Sans', Arial, sans-serif" font-size="8.05" fill="#000" stroke="#000" stroke-width="0.15">
<text x="1656.2" y="50.89">T cell CD4+_TIMER</text>
<text x="1656.2" y="62.07">T cell CD8+_TIMER</text>
<text x="1656.2" y="73.26">Neutrophil_TIMER</text>
<text x="1656.2" y="84.44">Macrophage_TIMER</text>
<text x="1656.2" y="95.62">Myeloid dendritic cell_TIMER</text>
<text x="1656.2" y="106.8">B cell naive_CIBERSORT</text>
<text x="1656.2" y="117.99">Myeloid dendritic cell activated_CIBERSORT</text>
<text x="1656.2" y="129.17">Macrophage M2_CIBERSORT-ABS</text>
<text x="1656.2" y="140.35">Macrophage M1_QUANTISEQ</text>
<text x="1656.2" y="151.53">Macrophage M2_QUANTISEQ</text>
<text x="1656.2" y="162.71">Monocyte_QUANTISEQ</text>
<text x="1656.2" y="173.9">Neutrophil_QUANTISEQ</text>
<text x="1656.2" y="185.08">NK cell_QUANTISEQ</text>
<text x="1656.2" y="196.26">uncharacterized cell_QUANTISEQ</text>
<text x="1656.2" y="207.44">Myeloid dendritic cell activated_XCELL</text>
<text x="1656.2" y="218.63">T cell CD4+ effector memory_XCELL</text>
<text x="1656.2" y="229.81">Macrophage_XCELL</text>
<text x="1656.2" y="240.99">Macrophage M1_XCELL</text>
<text x="1656.2" y="252.17">Macrophage M2_XCELL</text>
<text x="1656.2" y="263.36">Mast cell_XCELL</text>
<text x="1656.2" y="274.54">Monocyte_XCELL</text>
<text x="1656.2" y="285.72">NK cell_XCELL</text>
<text x="1656.2" y="296.9">T cell NK_XCELL</text>
<text x="1656.2" y="308.09">Plasmacytoid dendritic cell_XCELL</text>
<text x="1656.2" y="319.27">Cancer associated fibroblast_EPIC</text>
<text x="1656.2" y="330.45">T cell CD4+_EPIC</text>
<text x="1656.2" y="341.63">T cell CD8+_EPIC</text>
<text x="1656.2" y="352.81">Macrophage_EPIC</text>
<text x="1656.2" y="364">uncharacterized cell_EPIC</text>
<text x="1656.2" y="375.18">T cell_MCPCOUNTER</text>
<text x="1656.2" y="386.36">T cell CD8+_MCPCOUNTER</text>
<text x="1656.2" y="397.54">Monocyte_MCPCOUNTER</text>
<text x="1656.2" y="408.73">Macrophage/Monocyte_MCPCOUNTER</text>
<text x="1656.2" y="419.91">Myeloid dendritic cell_MCPCOUNTER</text>
</g>
<g font-family="'Liberation Sans', Arial, sans-serif" font-size="12.1" fill="#000" stroke="#000" stroke-width="0.25">
<text transform="translate(860.79,427.1) rotate(90)">TCGA-DX-A48N</text>
<text transform="translate(874.97,427.1) rotate(90)">TCGA-QQ-A5VA</text>
<text transform="translate(889.15,427.1) rotate(90)">TCGA-DX-AB35</text>
<text transform="translate(903.33,427.1) rotate(90)">TCGA-DX-A1L0</text>
<text transform="translate(917.5,427.1) rotate(90)">TCGA-FX-A3NK</text>
<text transform="translate(931.68,427.1) rotate(90)">TCGA-SG-A6Z7</text>
<text transform="translate(945.86,427.1) rotate(90)">TCGA-DX-A23Z</text>
<text transform="translate(960.04,427.1) rotate(90)">TCGA-DX-A3LS</text>
<text transform="translate(974.22,427.1) rotate(90)">TCGA-DX-A1KW</text>
<text transform="translate(988.4,427.1) rotate(90)">TCGA-MO-A47P</text>
<text transform="translate(1002.58,427.1) rotate(90)">TCGA-DX-A2J0</text>
<text transform="translate(1016.75,427.1) rotate(90)">TCGA-DX-A23R</text>
<text transform="translate(1030.93,427.1) rotate(90)">TCGA-DX-A1L1</text>
<text transform="translate(1045.11,427.1) rotate(90)">TCGA-DX-AB2H</text>
<text transform="translate(1059.29,427.1) rotate(90)">TCGA-DX-A2IZ</text>
<text transform="translate(1073.47,427.1) rotate(90)">TCGA-DX-AB3A</text>
<text transform="translate(1087.65,427.1) rotate(90)">TCGA-Z4-A9VC</text>
<text transform="translate(1101.83,427.1) rotate(90)">TCGA-WK-A8XQ</text>
<text transform="translate(1116,427.1) rotate(90)">TCGA-DX-A1KY</text>
<text transform="translate(1130.18,427.1) rotate(90)">TCGA-DX-A3M1</text>
<text transform="translate(1144.36,427.1) rotate(90)">TCGA-DX-A7EI</text>
<text transform="translate(1158.54,427.1) rotate(90)">TCGA-DX-A240</text>
<text transform="translate(1172.72,427.1) rotate(90)">TCGA-DX-A23U</text>
<text transform="translate(1186.9,427.1) rotate(90)">TCGA-DX-A6BF</text>
<text transform="translate(1201.08,427.1) rotate(90)">TCGA-DX-A1L2</text>
<text transform="translate(1215.25,427.1) rotate(90)">TCGA-3B-A9HJ</text>
<text transform="translate(1229.43,427.1) rotate(90)">TCGA-FX-A2QS</text>
<text transform="translate(1243.61,427.1) rotate(90)">TCGA-DX-A23T</text>
<text transform="translate(1257.79,427.1) rotate(90)">TCGA-DX-A2J4</text>
<text transform="translate(1271.97,427.1) rotate(90)">TCGA-DX-A7ES</text>
<text transform="translate(1286.15,427.1) rotate(90)">TCGA-DX-AB2G</text>
<text transform="translate(1300.33,427.1) rotate(90)">TCGA-DX-A3LU</text>
<text transform="translate(1314.5,427.1) rotate(90)">TCGA-DX-A6BG</text>
<text transform="translate(1328.68,427.1) rotate(90)">TCGA-DX-A23V</text>
<text transform="translate(1342.86,427.1) rotate(90)">TCGA-DX-AB36</text>
<text transform="translate(1357.04,427.1) rotate(90)">TCGA-DX-A2J1</text>
<text transform="translate(1371.22,427.1) rotate(90)">TCGA-WK-A8XO</text>
<text transform="translate(1385.4,427.1) rotate(90)">TCGA-DX-A3U6</text>
<text transform="translate(1399.58,427.1) rotate(90)">TCGA-DX-A1L4</text>
<text transform="translate(1413.75,427.1) rotate(90)">TCGA-DX-A3M2</text>
<text transform="translate(1427.93,427.1) rotate(90)">TCGA-DX-A23Y</text>
<text transform="translate(1442.11,427.1) rotate(90)">TCGA-3R-A8YX</text>
<text transform="translate(1456.29,427.1) rotate(90)">TCGA-IF-A3RQ</text>
<text transform="translate(1470.47,427.1) rotate(90)">TCGA-DX-A6BH</text>
<text transform="translate(1484.65,427.1) rotate(90)">TCGA-3B-A9HL</text>
<text transform="translate(1498.83,427.1) rotate(90)">TCGA-DX-A3U5</text>
<text transform="translate(1513,427.1) rotate(90)">TCGA-DX-A1KZ</text>
<text transform="translate(1527.18,427.1) rotate(90)">TCGA-DX-A1L3</text>
<text transform="translate(1541.36,427.1) rotate(90)">TCGA-3B-A9HO</text>
<text transform="translate(1555.54,427.1) rotate(90)">TCGA-DX-A1KX</text>
<text transform="translate(1569.72,427.1) rotate(90)">TCGA-DX-A6BE</text>
<text transform="translate(1583.9,427.1) rotate(90)">TCGA-DX-A1KU</text>
<text transform="translate(1598.08,427.1) rotate(90)">TCGA-DX-A3LW</text>
<text transform="translate(1612.25,427.1) rotate(90)">TCGA-DX-AB37</text>
<text transform="translate(1626.43,427.1) rotate(90)">TCGA-DX-AB2F</text>
<text transform="translate(1640.61,427.1) rotate(90)">TCGA-DX-A3LT</text>
</g>
<text transform="translate(843.2,426.6) rotate(90)" font-family="'Liberation Sans', Arial, sans-serif" font-weight="bold" font-size="12.1">Method</text>
<text x="1656.2" y="37.3" font-family="'Liberation Sans', Arial, sans-serif" font-weight="bold" font-size="13.2">Cluster</text>
<text x="1714.8" y="37.6" font-family="'Liberation Sans', Arial, sans-serif" font-weight="bold" font-size="12">*</text>
<rect x="1828" y="25.6" width="13.4" height="183.6" fill="url(#gb)"/>
<g font-family="'Liberation Sans', Arial, sans-serif" font-size="13.2" fill="#111">
<text x="1846.2" y="213.4">0</text>
<text x="1846.2" y="172.4">1</text>
<text x="1846.2" y="131.4">2</text>
<text x="1846.2" y="89.6">3</text>
<text x="1846.2" y="48.6">4</text>
</g>
<g font-family="'Liberation Sans', Arial, sans-serif" font-size="13.4" fill="#111">
<text x="1868" y="35" font-weight="bold" font-size="13.3">Cluster</text>
<rect x="1868.4" y="40.3" width="21.1" height="19.5" fill="#333333"/>
<rect x="1868.4" y="59.8" width="21.1" height="19.5" fill="#1f6293"/>
<text x="1893.8" y="54.7">C1</text><text x="1893.8" y="74.2">C2</text>
<text x="1868" y="103.2" font-weight="bold" font-size="13.3">Method</text>
<rect x="1868.4" y="109.1" width="21.1" height="19.6" fill="#333333"/>
<text x="1893.8" y="123.7">TIMER</text>
<rect x="1868.4" y="128.62" width="21.1" height="19.6" fill="#1f6293"/>
<text x="1893.8" y="143.22">CIBERSORT</text>
<rect x="1868.4" y="148.14" width="21.1" height="19.6" fill="#f7c948"/>
<text x="1893.8" y="162.74">QUANTISEQ</text>
<rect x="1868.4" y="167.66" width="21.1" height="19.6" fill="#c6e2d3"/>
<text x="1893.8" y="182.26">XCELL</text>
<rect x="1868.4" y="187.18" width="21.1" height="19.6" fill="#f6ebc3"/>
<text x="1893.8" y="201.78">EPIC</text>
<rect x="1868.4" y="206.7" width="21.1" height="19.6" fill="#333333"/>
<text x="1893.8" y="221.3">MCPCOUNTER</text>
</g>
<text x="795" y="595.7" font-family="'Liberation Serif', 'Times New Roman', serif" font-weight="bold" font-size="41.5">(c)</text>
<rect x="890.5" y="583.1" width="496.8" height="240.3" fill="#fff"/>
<g stroke="#ededed" fill="none">
<line x1="890.5" x2="1387.3" y1="786.61" y2="786.61" stroke-width="0.6"/>
<line x1="890.5" x2="1387.3" y1="734.44" y2="734.44" stroke-width="0.6"/>
<line x1="890.5" x2="1387.3" y1="682.26" y2="682.26" stroke-width="0.6"/>
<line x1="890.5" x2="1387.3" y1="630.09" y2="630.09" stroke-width="0.6"/>
<line x1="890.5" x2="1387.3" y1="812.7" y2="812.7" stroke-width="1.1"/>
<line x1="890.5" x2="1387.3" y1="760.53" y2="760.53" stroke-width="1.1"/>
<line x1="890.5" x2="1387.3" y1="708.35" y2="708.35" stroke-width="1.1"/>
<line x1="890.5" x2="1387.3" y1="656.18" y2="656.18" stroke-width="1.1"/>
<line x1="890.5" x2="1387.3" y1="604" y2="604" stroke-width="1.1"/>
<line x1="902.5" x2="902.5" y1="583.1" y2="823.4" stroke-width="1.0"/>
<line x1="924" x2="924" y1="583.1" y2="823.4" stroke-width="1.0"/>
<line x1="945.5" x2="945.5" y1="583.1" y2="823.4" stroke-width="1.0"/>
<line x1="967" x2="967" y1="583.1" y2="823.4" stroke-width="1.0"/>
<line x1="988.5" x2="988.5" y1="583.1" y2="823.4" stroke-width="1.0"/>
<line x1="1010" x2="1010" y1="583.1" y2="823.4" stroke-width="1.0"/>
<line x1="1031.5" x2="1031.5" y1="583.1" y2="823.4" stroke-width="1.0"/>
<line x1="1053" x2="1053" y1="583.1" y2="823.4" stroke-width="1.0"/>
<line x1="1074.5" x2="1074.5" y1="583.1" y2="823.4" stroke-width="1.0"/>
<line x1="1096" x2="1096" y1="583.1" y2="823.4" stroke-width="1.0"/>
<line x1="1117.5" x2="1117.5" y1="583.1" y2="823.4" stroke-width="1.0"/>
<line x1="1139" x2="1139" y1="583.1" y2="823.4" stroke-width="1.0"/>
<line x1="1160.5" x2="1160.5" y1="583.1" y2="823.4" stroke-width="1.0"/>
<line x1="1182" x2="1182" y1="583.1" y2="823.4" stroke-width="1.0"/>
<line x1="1203.5" x2="1203.5" y1="583.1" y2="823.4" stroke-width="1.0"/>
<line x1="1225" x2="1225" y1="583.1" y2="823.4" stroke-width="1.0"/>
<line x1="1246.5" x2="1246.5" y1="583.1" y2="823.4" stroke-width="1.0"/>
<line x1="1268" x2="1268" y1="583.1" y2="823.4" stroke-width="1.0"/>
<line x1="1289.5" x2="1289.5" y1="583.1" y2="823.4" stroke-width="1.0"/>
<line x1="1311" x2="1311" y1="583.1" y2="823.4" stroke-width="1.0"/>
<line x1="1332.5" x2="1332.5" y1="583.1" y2="823.4" stroke-width="1.0"/>
<line x1="1354" x2="1354" y1="583.1" y2="823.4" stroke-width="1.0"/>
<line x1="1375.5" x2="1375.5" y1="583.1" y2="823.4" stroke-width="1.0"/>
</g>
<g>
<path d="M902.1,811.87 L902.1,811.87 L901.97,807.29 L901.6,802.71 L901.05,798.14 L900.36,793.56 L899.57,788.98 L898.72,784.41 L897.86,779.83 L897,775.25 L896.18,770.68 L895.43,766.1 L894.76,761.52 L894.19,756.95 L893.74,752.37 L893.42,747.79 L893.24,743.22 L893.21,738.64 L893.38,734.06 L893.78,729.49 L894.39,724.91 L895.2,720.34 L896.15,715.76 L897.22,711.18 L898.33,706.61 L899.43,702.03 L900.45,697.45 L901.3,692.88 L901.88,688.3 L902.1,683.72 L902.1,683.72 Z" fill="#00afbb"/>
<path d="M902.9,791.83 L902.9,791.83 L903.1,786.81 L903.65,781.8 L904.44,776.78 L905.39,771.76 L906.43,766.75 L907.49,761.73 L908.5,756.72 L909.43,751.7 L910.21,746.68 L910.83,741.67 L911.26,736.65 L911.47,731.63 L911.48,726.62 L911.34,721.6 L911.05,716.59 L910.64,711.57 L910.1,706.55 L909.46,701.54 L908.73,696.52 L907.94,691.5 L907.1,686.49 L906.25,681.47 L905.41,676.46 L904.63,671.44 L903.95,666.42 L903.4,661.41 L903.03,656.39 L902.9,651.37 L902.9,651.37 Z" fill="#e7b800"/>
<path d="M923.6,708.35 L923.6,708.35 L923.47,706.04 L923.13,703.73 L922.6,701.42 L921.94,699.11 L921.19,696.8 L920.38,694.49 L919.54,692.18 L918.7,689.87 L917.89,687.55 L917.14,685.24 L916.46,682.93 L915.88,680.62 L915.4,678.31 L915.04,676 L914.81,673.69 L914.7,671.38 L914.77,669.07 L915.09,666.76 L915.64,664.45 L916.42,662.14 L917.37,659.83 L918.45,657.52 L919.6,655.21 L920.76,652.9 L921.83,650.58 L922.74,648.27 L923.36,645.96 L923.6,643.65 L923.6,643.65 Z" fill="#00afbb"/>
<path d="M924.4,694.37 L924.4,694.37 L924.5,692.5 L924.79,690.64 L925.22,688.78 L925.77,686.91 L926.4,685.05 L927.1,683.19 L927.83,681.32 L928.57,679.46 L929.31,677.6 L930.01,675.73 L930.67,673.87 L931.27,672.01 L931.79,670.14 L932.23,668.28 L932.58,666.42 L932.82,664.55 L932.96,662.69 L932.99,660.83 L932.77,658.96 L932.22,657.1 L931.4,655.24 L930.34,653.37 L929.12,651.51 L927.82,649.65 L926.57,647.78 L925.48,645.92 L924.7,644.06 L924.4,642.19 L924.4,642.19 Z" fill="#e7b800"/>
<path d="M945.1,715.86 L945.1,715.86 L944.96,712.64 L944.57,709.42 L943.99,706.2 L943.26,702.98 L942.44,699.76 L941.56,696.54 L940.67,693.32 L939.79,690.1 L938.96,686.88 L938.21,683.66 L937.55,680.44 L937.01,677.22 L936.6,674 L936.33,670.78 L936.21,667.56 L936.25,664.34 L936.52,661.12 L936.99,657.9 L937.65,654.68 L938.47,651.46 L939.43,648.24 L940.47,645.02 L941.54,641.8 L942.59,638.58 L943.56,635.36 L944.35,632.14 L944.9,628.92 L945.1,625.7 L945.1,625.7 Z" fill="#00afbb"/>
<path d="M945.9,689.57 L945.9,689.57 L946.03,686.76 L946.4,683.95 L946.94,681.14 L947.62,678.33 L948.39,675.52 L949.22,672.71 L950.07,669.9 L950.9,667.09 L951.7,664.28 L952.43,661.47 L953.07,658.66 L953.61,655.85 L954.03,653.04 L954.32,650.23 L954.47,647.42 L954.48,644.61 L954.28,641.8 L953.87,638.99 L953.25,636.18 L952.47,633.37 L951.55,630.56 L950.53,627.75 L949.46,624.94 L948.42,622.13 L947.46,619.32 L946.66,616.51 L946.11,613.7 L945.9,610.89 L945.9,610.89 Z" fill="#e7b800"/>
<path d="M966.6,735.9 L966.6,735.9 L966.44,733.7 L966.01,731.5 L965.36,729.3 L964.57,727.1 L963.68,724.9 L962.74,722.71 L961.79,720.51 L960.88,718.31 L960.04,716.11 L959.3,713.91 L958.68,711.71 L958.2,709.51 L957.87,707.31 L957.72,705.12 L957.73,702.92 L957.94,700.72 L958.33,698.52 L958.89,696.32 L959.61,694.12 L960.45,691.92 L961.38,689.72 L962.38,687.52 L963.38,685.33 L964.35,683.13 L965.22,680.93 L965.94,678.73 L966.42,676.53 L966.6,674.33 L966.6,674.33 Z" fill="#00afbb"/>
<path d="M967.4,706.26 L967.4,706.26 L967.51,705.03 L967.82,703.8 L968.29,702.57 L968.89,701.34 L969.57,700.11 L970.31,698.88 L971.09,697.65 L971.87,696.42 L972.62,695.19 L973.34,693.96 L974,692.73 L974.59,691.5 L975.08,690.28 L975.48,689.05 L975.77,687.82 L975.94,686.59 L976,685.36 L975.85,684.13 L975.43,682.9 L974.75,681.67 L973.86,680.44 L972.79,679.21 L971.63,677.98 L970.43,676.75 L969.3,675.52 L968.34,674.29 L967.66,673.06 L967.4,671.83 L967.4,671.83 Z" fill="#e7b800"/>
<path d="M988.1,665.98 L988.1,665.98 L987.96,665.35 L987.58,664.72 L987.01,664.08 L986.3,663.45 L985.49,662.82 L984.62,662.18 L983.74,661.55 L982.87,660.92 L982.05,660.28 L981.29,659.65 L980.63,659.01 L980.08,658.38 L979.65,657.75 L979.36,657.11 L979.22,656.48 L979.23,655.85 L979.46,655.21 L979.91,654.58 L980.55,653.95 L981.37,653.31 L982.32,652.68 L983.37,652.05 L984.46,651.41 L985.53,650.78 L986.52,650.15 L987.33,649.51 L987.89,648.88 L988.1,648.24 L988.1,648.24 Z" fill="#00afbb"/>
<path d="M988.9,668.7 L988.9,668.7 L988.99,667.71 L989.24,666.71 L989.63,665.72 L990.13,664.73 L990.71,663.74 L991.34,662.75 L992.02,661.76 L992.72,660.77 L993.41,659.78 L994.09,658.78 L994.74,657.79 L995.34,656.8 L995.89,655.81 L996.37,654.82 L996.77,653.83 L997.09,652.84 L997.32,651.84 L997.46,650.85 L997.5,649.86 L997.27,648.87 L996.64,647.88 L995.66,646.89 L994.4,645.9 L992.98,644.91 L991.53,643.91 L990.23,642.92 L989.27,641.93 L988.9,640.94 L988.9,640.94 Z" fill="#e7b800"/>
<path d="M1009.6,674.33 L1009.6,674.33 L1009.49,673.44 L1009.18,672.54 L1008.7,671.65 L1008.11,670.75 L1007.42,669.86 L1006.67,668.97 L1005.88,668.07 L1005.09,667.18 L1004.31,666.28 L1003.57,665.39 L1002.89,664.49 L1002.28,663.6 L1001.75,662.7 L1001.33,661.81 L1001,660.92 L1000.8,660.02 L1000.7,659.13 L1000.78,658.23 L1001.16,657.34 L1001.82,656.44 L1002.72,655.55 L1003.83,654.65 L1005.05,653.76 L1006.33,652.87 L1007.54,651.97 L1008.58,651.08 L1009.32,650.18 L1009.6,649.29 L1009.6,649.29 Z" fill="#00afbb"/>
<path d="M1010.4,670.78 L1010.4,670.78 L1010.48,669.97 L1010.69,669.16 L1011.03,668.35 L1011.46,667.53 L1011.97,666.72 L1012.54,665.91 L1013.15,665.1 L1013.78,664.28 L1014.42,663.47 L1015.06,662.66 L1015.69,661.85 L1016.28,661.03 L1016.83,660.22 L1017.34,659.41 L1017.79,658.6 L1018.18,657.78 L1018.49,656.97 L1018.74,656.16 L1018.9,655.35 L1018.99,654.54 L1018.94,653.72 L1018.36,652.91 L1017.24,652.1 L1015.71,651.29 L1013.96,650.47 L1012.26,649.66 L1010.94,648.85 L1010.4,648.04 L1010.4,648.04 Z" fill="#e7b800"/>
<path d="M1031.1,771.59 L1031.1,771.59 L1031.02,769.38 L1030.78,767.17 L1030.41,764.97 L1029.94,762.76 L1029.39,760.55 L1028.78,758.35 L1028.12,756.14 L1027.44,753.94 L1026.76,751.73 L1026.08,749.52 L1025.43,747.32 L1024.81,745.11 L1024.23,742.9 L1023.72,740.7 L1023.27,738.49 L1022.89,736.29 L1022.59,734.08 L1022.37,731.87 L1022.24,729.67 L1022.2,727.46 L1022.5,725.25 L1023.31,723.05 L1024.56,720.84 L1026.13,718.64 L1027.82,716.43 L1029.41,714.22 L1030.62,712.02 L1031.1,709.81 L1031.1,709.81 Z" fill="#00afbb"/>
<path d="M1031.9,751.34 L1031.9,751.34 L1032.03,749.69 L1032.39,748.03 L1032.92,746.38 L1033.59,744.72 L1034.35,743.07 L1035.17,741.41 L1036,739.76 L1036.83,738.1 L1037.62,736.45 L1038.35,734.8 L1039,733.14 L1039.55,731.49 L1039.98,729.83 L1040.29,728.18 L1040.46,726.52 L1040.49,724.87 L1040.33,723.21 L1039.94,721.56 L1039.34,719.9 L1038.56,718.25 L1037.64,716.59 L1036.61,714.94 L1035.54,713.28 L1034.47,711.63 L1033.49,709.97 L1032.68,708.32 L1032.11,706.67 L1031.9,705.01 L1031.9,705.01 Z" fill="#e7b800"/>
<path d="M1052.6,687.27 L1052.6,687.27 L1052.51,685.96 L1052.28,684.65 L1051.91,683.34 L1051.43,682.02 L1050.88,680.71 L1050.26,679.4 L1049.61,678.09 L1048.92,676.78 L1048.23,675.46 L1047.56,674.15 L1046.9,672.84 L1046.28,671.53 L1045.71,670.22 L1045.19,668.91 L1044.74,667.59 L1044.37,666.28 L1044.07,664.97 L1043.86,663.66 L1043.74,662.35 L1043.7,661.03 L1044.03,659.72 L1044.87,658.41 L1046.13,657.1 L1047.69,655.79 L1049.37,654.48 L1050.94,653.16 L1052.12,651.85 L1052.6,650.54 L1052.6,650.54 Z" fill="#00afbb"/>
<path d="M1053.4,668.28 L1053.4,668.28 L1053.51,667.35 L1053.8,666.42 L1054.25,665.48 L1054.81,664.55 L1055.47,663.62 L1056.18,662.69 L1056.93,661.76 L1057.69,660.83 L1058.43,659.89 L1059.14,658.96 L1059.8,658.03 L1060.4,657.1 L1060.91,656.17 L1061.33,655.24 L1061.66,654.3 L1061.88,653.37 L1061.99,652.44 L1061.96,651.51 L1061.64,650.58 L1061.04,649.65 L1060.18,648.71 L1059.11,647.78 L1057.91,646.85 L1056.66,645.92 L1055.45,644.99 L1054.42,644.06 L1053.68,643.12 L1053.4,642.19 L1053.4,642.19 Z" fill="#e7b800"/>
<path d="M1074.1,783.48 L1074.1,783.48 L1073.99,780.22 L1073.7,776.95 L1073.26,773.69 L1072.69,770.42 L1072.03,767.16 L1071.31,763.89 L1070.56,760.63 L1069.79,757.36 L1069.03,754.1 L1068.3,750.84 L1067.62,747.57 L1067,744.31 L1066.46,741.04 L1066,737.78 L1065.64,734.51 L1065.39,731.25 L1065.24,727.98 L1065.2,724.72 L1065.43,721.45 L1065.99,718.19 L1066.84,714.92 L1067.94,711.66 L1069.2,708.39 L1070.54,705.13 L1071.85,701.87 L1072.98,698.6 L1073.79,695.34 L1074.1,692.07 L1074.1,692.07 Z" fill="#00afbb"/>
<path d="M1074.9,749.05 L1074.9,749.05 L1075.01,745.78 L1075.31,742.52 L1075.77,739.25 L1076.34,735.99 L1077.01,732.72 L1077.74,729.46 L1078.5,726.19 L1079.26,722.93 L1080.01,719.66 L1080.73,716.4 L1081.39,713.14 L1081.98,709.87 L1082.48,706.61 L1082.9,703.34 L1083.21,700.08 L1083.41,696.81 L1083.5,693.55 L1083.42,690.28 L1083.05,687.02 L1082.42,683.75 L1081.54,680.49 L1080.48,677.22 L1079.29,673.96 L1078.06,670.69 L1076.89,667.43 L1075.88,664.17 L1075.17,660.9 L1074.9,657.64 L1074.9,657.64 Z" fill="#e7b800"/>
<path d="M1095.6,684.98 L1095.6,684.98 L1095.5,683.66 L1095.21,682.35 L1094.78,681.04 L1094.23,679.73 L1093.59,678.42 L1092.89,677.1 L1092.15,675.79 L1091.39,674.48 L1090.64,673.17 L1089.92,671.86 L1089.24,670.55 L1088.62,669.23 L1088.07,667.92 L1087.6,666.61 L1087.22,665.3 L1086.95,663.99 L1086.77,662.67 L1086.7,661.36 L1086.84,660.05 L1087.32,658.74 L1088.14,657.43 L1089.22,656.12 L1090.5,654.8 L1091.88,653.49 L1093.23,652.18 L1094.42,650.87 L1095.27,649.56 L1095.6,648.24 L1095.6,648.24 Z" fill="#00afbb"/>
<path d="M1096.4,670.78 L1096.4,670.78 L1096.51,669.83 L1096.8,668.88 L1097.25,667.92 L1097.81,666.97 L1098.46,666.01 L1099.18,665.06 L1099.92,664.11 L1100.68,663.15 L1101.42,662.2 L1102.13,661.24 L1102.79,660.29 L1103.38,659.34 L1103.9,658.38 L1104.33,657.43 L1104.65,656.47 L1104.87,655.52 L1104.99,654.57 L1104.96,653.61 L1104.65,652.66 L1104.05,651.7 L1103.2,650.75 L1102.13,649.79 L1100.93,648.84 L1099.67,647.89 L1098.46,646.93 L1097.42,645.98 L1096.68,645.02 L1096.4,644.07 L1096.4,644.07 Z" fill="#e7b800"/>
<path d="M1117.1,673.08 L1117.1,673.08 L1116.67,670.87 L1115.6,668.67 L1114.15,666.46 L1112.57,664.25 L1111.05,662.05 L1109.76,659.84 L1108.81,657.64 L1108.29,655.43 L1108.21,653.22 L1108.29,651.02 L1108.47,648.81 L1108.74,646.6 L1109.09,644.4 L1109.52,642.19 L1110.03,639.99 L1110.6,637.78 L1111.22,635.57 L1111.89,633.37 L1112.58,631.16 L1113.28,628.95 L1113.98,626.75 L1114.66,624.54 L1115.3,622.34 L1115.88,620.13 L1116.37,617.92 L1116.76,615.72 L1117.01,613.51 L1117.1,611.3 L1117.1,611.3 Z" fill="#00afbb"/>
<path d="M1117.9,654.09 L1117.9,654.09 L1117.98,652.04 L1118.22,649.99 L1118.58,647.94 L1119.05,645.89 L1119.6,643.84 L1120.2,641.79 L1120.85,639.74 L1121.52,637.69 L1122.19,635.64 L1122.85,633.59 L1123.49,631.54 L1124.09,629.49 L1124.64,627.44 L1125.14,625.39 L1125.56,623.34 L1125.92,621.29 L1126.19,619.24 L1126.38,617.19 L1126.48,615.14 L1126.47,613.09 L1126.06,611.04 L1125.19,608.99 L1123.96,606.94 L1122.47,604.89 L1120.89,602.84 L1119.43,600.79 L1118.34,598.75 L1117.9,596.7 L1117.9,596.7 Z" fill="#e7b800"/>
<path d="M1138.6,740.7 L1138.6,740.7 L1138.5,737.69 L1138.23,734.68 L1137.81,731.66 L1137.28,728.65 L1136.66,725.64 L1135.97,722.63 L1135.25,719.62 L1134.51,716.61 L1133.78,713.6 L1133.06,710.59 L1132.39,707.57 L1131.76,704.56 L1131.21,701.55 L1130.72,698.54 L1130.33,695.53 L1130.02,692.52 L1129.82,689.51 L1129.71,686.5 L1129.75,683.48 L1130.14,680.47 L1130.89,677.46 L1131.95,674.45 L1133.24,671.44 L1134.66,668.43 L1136.08,665.42 L1137.34,662.41 L1138.25,659.39 L1138.6,656.38 L1138.6,656.38 Z" fill="#00afbb"/>
<path d="M1139.4,699.17 L1139.4,699.17 L1139.48,697.2 L1139.7,695.23 L1140.03,693.26 L1140.47,691.3 L1140.98,689.33 L1141.55,687.36 L1142.16,685.39 L1142.8,683.43 L1143.45,681.46 L1144.09,679.49 L1144.71,677.52 L1145.31,675.55 L1145.86,673.59 L1146.37,671.62 L1146.82,669.65 L1147.2,667.68 L1147.51,665.72 L1147.75,663.75 L1147.91,661.78 L1147.99,659.81 L1147.91,657.84 L1147.3,655.88 L1146.17,653.91 L1144.64,651.94 L1142.9,649.97 L1141.22,648.01 L1139.93,646.04 L1139.4,644.07 L1139.4,644.07 Z" fill="#e7b800"/>
<path d="M1160.1,756.14 L1160.1,756.14 L1159.97,752.5 L1159.63,748.85 L1159.1,745.21 L1158.44,741.56 L1157.69,737.92 L1156.88,734.27 L1156.04,730.63 L1155.2,726.98 L1154.4,723.34 L1153.64,719.69 L1152.97,716.05 L1152.38,712.4 L1151.9,708.76 L1151.54,705.12 L1151.31,701.47 L1151.2,697.83 L1151.27,694.18 L1151.59,690.54 L1152.14,686.89 L1152.91,683.25 L1153.86,679.6 L1154.95,675.96 L1156.1,672.31 L1157.25,668.67 L1158.33,665.02 L1159.24,661.38 L1159.86,657.73 L1160.1,654.09 L1160.1,654.09 Z" fill="#00afbb"/>
<path d="M1160.9,735.9 L1160.9,735.9 L1160.97,732.34 L1161.18,728.79 L1161.5,725.23 L1161.92,721.68 L1162.41,718.12 L1162.96,714.57 L1163.55,711.01 L1164.17,707.46 L1164.8,703.9 L1165.42,700.34 L1166.04,696.79 L1166.63,693.23 L1167.18,689.68 L1167.69,686.12 L1168.15,682.57 L1168.55,679.01 L1168.88,675.46 L1169.15,671.9 L1169.34,668.35 L1169.46,664.79 L1169.5,661.24 L1169.16,657.68 L1168.17,654.13 L1166.65,650.57 L1164.81,647.01 L1162.97,643.46 L1161.51,639.9 L1160.9,636.35 L1160.9,636.35 Z" fill="#e7b800"/>
<path d="M1181.6,661.18 L1181.6,661.18 L1181.52,660.17 L1181.28,659.16 L1180.91,658.14 L1180.44,657.13 L1179.89,656.12 L1179.28,655.1 L1178.62,654.09 L1177.95,653.07 L1177.26,652.06 L1176.58,651.05 L1175.93,650.03 L1175.31,649.02 L1174.74,648.01 L1174.22,646.99 L1173.77,645.98 L1173.39,644.96 L1173.09,643.95 L1172.87,642.94 L1172.74,641.92 L1172.7,640.91 L1172.99,639.9 L1173.8,638.88 L1175.05,637.87 L1176.62,636.86 L1178.31,635.84 L1179.91,634.83 L1181.11,633.81 L1181.6,632.8 L1181.6,632.8 Z" fill="#00afbb"/>
<path d="M1182.4,650.54 L1182.4,650.54 L1182.52,649.47 L1182.84,648.39 L1183.34,647.32 L1183.96,646.25 L1184.67,645.17 L1185.44,644.1 L1186.23,643.03 L1187.03,641.95 L1187.8,640.88 L1188.53,639.81 L1189.18,638.73 L1189.76,637.66 L1190.23,636.59 L1190.6,635.51 L1190.85,634.44 L1190.98,633.37 L1190.97,632.29 L1190.72,631.22 L1190.22,630.15 L1189.5,629.07 L1188.58,628 L1187.53,626.93 L1186.4,625.85 L1185.25,624.78 L1184.18,623.71 L1183.27,622.63 L1182.64,621.56 L1182.4,620.49 L1182.4,620.49 Z" fill="#e7b800"/>
<path d="M1203.1,734.85 L1203.1,734.85 L1203.01,732.78 L1202.76,730.7 L1202.38,728.62 L1201.89,726.54 L1201.32,724.46 L1200.68,722.38 L1200,720.3 L1199.31,718.22 L1198.6,716.14 L1197.91,714.06 L1197.25,711.98 L1196.63,709.9 L1196.06,707.82 L1195.55,705.74 L1195.11,703.66 L1194.76,701.58 L1194.48,699.5 L1194.3,697.42 L1194.21,695.34 L1194.27,693.26 L1194.76,691.18 L1195.7,689.1 L1196.99,687.03 L1198.51,684.95 L1200.11,682.87 L1201.58,680.79 L1202.67,678.71 L1203.1,676.63 L1203.1,676.63 Z" fill="#00afbb"/>
<path d="M1203.9,701.46 L1203.9,701.46 L1204.05,700.32 L1204.47,699.18 L1205.09,698.04 L1205.86,696.9 L1206.71,695.76 L1207.62,694.62 L1208.53,693.48 L1209.41,692.34 L1210.22,691.2 L1210.94,690.06 L1211.54,688.92 L1212.01,687.78 L1212.33,686.64 L1212.48,685.5 L1212.47,684.36 L1212.28,683.22 L1211.9,682.08 L1211.36,680.94 L1210.67,679.8 L1209.86,678.65 L1208.95,677.51 L1207.99,676.37 L1207.02,675.23 L1206.08,674.09 L1205.23,672.95 L1204.54,671.81 L1204.07,670.67 L1203.9,669.53 L1203.9,669.53 Z" fill="#e7b800"/>
<path d="M1224.6,687.27 L1224.6,687.27 L1224.5,685.74 L1224.23,684.22 L1223.82,682.69 L1223.29,681.16 L1222.67,679.63 L1221.99,678.1 L1221.27,676.58 L1220.53,675.05 L1219.8,673.52 L1219.09,671.99 L1218.41,670.46 L1217.79,668.94 L1217.23,667.41 L1216.75,665.88 L1216.35,664.35 L1216.04,662.82 L1215.83,661.3 L1215.72,659.77 L1215.74,658.24 L1216.1,656.71 L1216.84,655.18 L1217.89,653.66 L1219.19,652.13 L1220.62,650.6 L1222.05,649.07 L1223.32,647.54 L1224.24,646.02 L1224.6,644.49 L1224.6,644.49 Z" fill="#00afbb"/>
<path d="M1225.4,661.18 L1225.4,661.18 L1225.52,660.63 L1225.84,660.08 L1226.32,659.53 L1226.94,658.98 L1227.64,658.43 L1228.4,657.87 L1229.19,657.32 L1229.98,656.77 L1230.75,656.22 L1231.48,655.67 L1232.13,655.12 L1232.71,654.57 L1233.19,654.01 L1233.57,653.46 L1233.83,652.91 L1233.97,652.36 L1233.98,651.81 L1233.76,651.26 L1233.28,650.7 L1232.57,650.15 L1231.66,649.6 L1230.6,649.05 L1229.46,648.5 L1228.3,647.95 L1227.21,647.39 L1226.29,646.84 L1225.64,646.29 L1225.4,645.74 L1225.4,645.74 Z" fill="#e7b800"/>
<path d="M1246.1,811.87 L1246.1,811.87 L1246,808.77 L1245.71,805.68 L1245.27,802.59 L1244.71,799.49 L1244.07,796.4 L1243.36,793.31 L1242.61,790.21 L1241.85,787.12 L1241.1,784.03 L1240.37,780.93 L1239.69,777.84 L1239.07,774.75 L1238.53,771.65 L1238.06,768.56 L1237.69,765.47 L1237.42,762.37 L1237.26,759.28 L1237.2,756.19 L1237.37,753.09 L1237.89,750 L1238.72,746.91 L1239.81,743.81 L1241.08,740.72 L1242.45,737.63 L1243.78,734.53 L1244.94,731.44 L1245.78,728.35 L1246.1,725.25 L1246.1,725.25 Z" fill="#00afbb"/>
<path d="M1246.9,794.13 L1246.9,794.13 L1246.98,791.24 L1247.22,788.36 L1247.58,785.47 L1248.04,782.59 L1248.58,779.7 L1249.18,776.82 L1249.83,773.93 L1250.49,771.05 L1251.16,768.16 L1251.82,765.28 L1252.45,762.4 L1253.05,759.51 L1253.61,756.63 L1254.1,753.74 L1254.53,750.86 L1254.89,747.97 L1255.17,745.09 L1255.37,742.2 L1255.48,739.32 L1255.48,736.44 L1255.11,733.55 L1254.27,730.67 L1253.04,727.78 L1251.54,724.9 L1249.95,722.01 L1248.46,719.13 L1247.35,716.24 L1246.9,713.36 L1246.9,713.36 Z" fill="#e7b800"/>
<path d="M1267.6,667.03 L1267.6,667.03 L1267.52,666.19 L1267.31,665.34 L1266.98,664.5 L1266.55,663.66 L1266.04,662.82 L1265.48,661.97 L1264.87,661.13 L1264.23,660.29 L1263.58,659.45 L1262.93,658.6 L1262.3,657.76 L1261.69,656.92 L1261.12,656.08 L1260.59,655.24 L1260.11,654.39 L1259.7,653.55 L1259.35,652.71 L1259.07,651.87 L1258.87,651.02 L1258.75,650.18 L1258.7,649.34 L1259.02,648.5 L1260.03,647.66 L1261.61,646.81 L1263.51,645.97 L1265.43,645.13 L1266.96,644.29 L1267.6,643.44 L1267.6,643.44 Z" fill="#00afbb"/>
<path d="M1268.4,655.34 L1268.4,655.34 L1268.53,654.81 L1268.89,654.28 L1269.42,653.75 L1270.09,653.22 L1270.85,652.69 L1271.66,652.16 L1272.5,651.64 L1273.33,651.11 L1274.12,650.58 L1274.85,650.05 L1275.5,649.52 L1276.04,648.99 L1276.48,648.46 L1276.78,647.93 L1276.96,647.4 L1276.99,646.87 L1276.83,646.34 L1276.44,645.81 L1275.84,645.29 L1275.07,644.76 L1274.14,644.23 L1273.12,643.7 L1272.04,643.17 L1270.98,642.64 L1269.99,642.11 L1269.18,641.58 L1268.61,641.05 L1268.4,640.52 L1268.4,640.52 Z" fill="#e7b800"/>
<path d="M1289.1,705.01 L1289.1,705.01 L1288.91,702.39 L1288.39,699.76 L1287.63,697.14 L1286.7,694.52 L1285.68,691.89 L1284.63,689.27 L1283.61,686.65 L1282.66,684.02 L1281.83,681.4 L1281.14,678.77 L1280.63,676.15 L1280.31,673.53 L1280.2,670.9 L1280.27,668.28 L1280.5,665.66 L1280.88,663.03 L1281.4,660.41 L1282.05,657.78 L1282.8,655.16 L1283.63,652.54 L1284.52,649.91 L1285.44,647.29 L1286.34,644.67 L1287.19,642.04 L1287.94,639.42 L1288.55,636.8 L1288.95,634.17 L1289.1,631.55 L1289.1,631.55 Z" fill="#00afbb"/>
<path d="M1289.9,670.78 L1289.9,670.78 L1290.01,669.13 L1290.31,667.47 L1290.76,665.82 L1291.34,664.17 L1292.01,662.51 L1292.73,660.86 L1293.49,659.2 L1294.25,657.55 L1295,655.89 L1295.72,654.24 L1296.38,652.58 L1296.97,650.93 L1297.48,649.27 L1297.89,647.62 L1298.2,645.96 L1298.41,644.31 L1298.5,642.65 L1298.42,641 L1298.06,639.34 L1297.43,637.69 L1296.55,636.04 L1295.49,634.38 L1294.3,632.73 L1293.07,631.07 L1291.89,629.42 L1290.88,627.76 L1290.17,626.11 L1289.9,624.45 L1289.9,624.45 Z" fill="#e7b800"/>
<path d="M1310.6,702.72 L1310.6,702.72 L1310.5,700.85 L1310.23,698.99 L1309.81,697.12 L1309.27,695.26 L1308.65,693.4 L1307.97,691.53 L1307.24,689.67 L1306.5,687.81 L1305.77,685.94 L1305.05,684.08 L1304.38,682.22 L1303.75,680.35 L1303.2,678.49 L1302.72,676.63 L1302.32,674.76 L1302.02,672.9 L1301.81,671.04 L1301.71,669.17 L1301.75,667.31 L1302.15,665.45 L1302.9,663.58 L1303.97,661.72 L1305.26,659.86 L1306.68,657.99 L1308.09,656.13 L1309.34,654.27 L1310.25,652.4 L1310.6,650.54 L1310.6,650.54 Z" fill="#00afbb"/>
<path d="M1311.4,675.38 L1311.4,675.38 L1311.51,674.36 L1311.8,673.35 L1312.25,672.33 L1312.81,671.32 L1313.46,670.31 L1314.18,669.29 L1314.92,668.28 L1315.68,667.27 L1316.42,666.25 L1317.13,665.24 L1317.79,664.22 L1318.38,663.21 L1318.9,662.2 L1319.33,661.18 L1319.65,660.17 L1319.87,659.16 L1319.99,658.14 L1319.96,657.13 L1319.65,656.12 L1319.05,655.1 L1318.2,654.09 L1317.13,653.07 L1315.93,652.06 L1314.67,651.05 L1313.46,650.03 L1312.42,649.02 L1311.68,648.01 L1311.4,646.99 L1311.4,646.99 Z" fill="#e7b800"/>
<path d="M1332.1,719.41 L1332.1,719.41 L1331.99,717.25 L1331.67,715.09 L1331.19,712.93 L1330.58,710.76 L1329.88,708.6 L1329.12,706.44 L1328.32,704.28 L1327.52,702.12 L1326.74,699.96 L1326,697.8 L1325.32,695.63 L1324.71,693.47 L1324.19,691.31 L1323.77,689.15 L1323.46,686.99 L1323.27,684.83 L1323.2,682.66 L1323.32,680.5 L1323.74,678.34 L1324.42,676.18 L1325.34,674.02 L1326.44,671.86 L1327.66,669.7 L1328.91,667.53 L1330.1,665.37 L1331.11,663.21 L1331.83,661.05 L1332.1,658.89 L1332.1,658.89 Z" fill="#00afbb"/>
<path d="M1332.9,689.57 L1332.9,689.57 L1333.04,688.34 L1333.41,687.12 L1333.97,685.9 L1334.66,684.68 L1335.45,683.46 L1336.3,682.23 L1337.16,681.01 L1338,679.79 L1338.8,678.57 L1339.53,677.34 L1340.17,676.12 L1340.69,674.9 L1341.1,673.68 L1341.36,672.45 L1341.49,671.23 L1341.46,670.01 L1341.21,668.79 L1340.77,667.56 L1340.14,666.34 L1339.34,665.12 L1338.42,663.9 L1337.41,662.67 L1336.37,661.45 L1335.34,660.23 L1334.41,659.01 L1333.63,657.78 L1333.1,656.56 L1332.9,655.34 L1332.9,655.34 Z" fill="#e7b800"/>
<path d="M1353.6,753.85 L1353.6,753.85 L1353.42,752.42 L1352.94,751 L1352.23,749.58 L1351.37,748.15 L1350.41,746.73 L1349.41,745.3 L1348.42,743.88 L1347.48,742.46 L1346.64,741.03 L1345.92,739.61 L1345.35,738.19 L1344.95,736.76 L1344.74,735.34 L1344.71,733.92 L1344.86,732.49 L1345.18,731.07 L1345.65,729.64 L1346.27,728.22 L1347.01,726.8 L1347.85,725.37 L1348.76,723.95 L1349.71,722.53 L1350.66,721.1 L1351.56,719.68 L1352.35,718.26 L1353,716.83 L1353.44,715.41 L1353.6,713.98 L1353.6,713.98 Z" fill="#00afbb"/>
<path d="M1354.4,743.41 L1354.4,743.41 L1354.55,742.29 L1354.94,741.16 L1355.54,740.04 L1356.27,738.91 L1357.1,737.78 L1357.98,736.66 L1358.87,735.53 L1359.74,734.41 L1360.55,733.28 L1361.27,732.16 L1361.89,731.03 L1362.38,729.91 L1362.74,728.78 L1362.95,727.65 L1363,726.53 L1362.87,725.4 L1362.54,724.28 L1362.03,723.15 L1361.36,722.03 L1360.56,720.9 L1359.64,719.78 L1358.66,718.65 L1357.66,717.53 L1356.68,716.4 L1355.8,715.27 L1355.08,714.15 L1354.58,713.02 L1354.4,711.9 L1354.4,711.9 Z" fill="#e7b800"/>
<path d="M1375.1,692.07 L1375.1,692.07 L1375,691.15 L1374.72,690.24 L1374.29,689.32 L1373.74,688.4 L1373.1,687.49 L1372.4,686.57 L1371.67,685.65 L1370.92,684.74 L1370.17,683.82 L1369.45,682.9 L1368.77,681.99 L1368.15,681.07 L1367.6,680.15 L1367.13,679.24 L1366.74,678.32 L1366.46,677.4 L1366.28,676.49 L1366.2,675.57 L1366.32,674.65 L1366.78,673.74 L1367.59,672.82 L1368.67,671.9 L1369.95,670.99 L1371.34,670.07 L1372.7,669.15 L1373.9,668.23 L1374.77,667.32 L1375.1,666.4 L1375.1,666.4 Z" fill="#00afbb"/>
<path d="M1375.9,685.6 L1375.9,685.6 L1376.01,684.76 L1376.33,683.92 L1376.8,683.07 L1377.41,682.23 L1378.1,681.39 L1378.85,680.55 L1379.63,679.71 L1380.41,678.86 L1381.17,678.02 L1381.89,677.18 L1382.55,676.34 L1383.13,675.49 L1383.63,674.65 L1384.02,673.81 L1384.29,672.97 L1384.46,672.13 L1384.5,671.28 L1384.32,670.44 L1383.87,669.6 L1383.18,668.76 L1382.28,667.91 L1381.22,667.07 L1380.06,666.23 L1378.88,665.39 L1377.77,664.55 L1376.82,663.7 L1376.15,662.86 L1375.9,662.02 L1375.9,662.02 Z" fill="#e7b800"/>
<path d="M1117.1,704.18 L1117.1,704.18 L1117.09,703.43 L1117.05,702.69 L1117,701.94 L1116.93,701.19 L1116.85,700.45 L1116.76,699.7 L1116.66,698.96 L1116.55,698.21 L1116.44,697.47 L1116.33,696.72 L1116.22,695.98 L1116.12,695.23 L1116.01,694.49 L1115.92,693.74 L1115.83,693 L1115.75,692.25 L1115.68,691.5 L1115.62,690.76 L1115.57,690.01 L1115.54,689.27 L1115.51,688.52 L1115.5,687.78 L1115.54,687.03 L1115.75,686.29 L1116.12,685.54 L1116.55,684.8 L1116.93,684.05 L1117.1,683.31 L1117.1,683.31 Z" fill="#00afbb"/>
<path d="M1289.1,725.05 L1289.1,725.05 L1289.08,724.71 L1289.04,724.38 L1288.98,724.04 L1288.9,723.7 L1288.8,723.37 L1288.69,723.03 L1288.58,722.7 L1288.47,722.36 L1288.35,722.03 L1288.24,721.69 L1288.13,721.36 L1288.03,721.02 L1287.95,720.69 L1287.87,720.35 L1287.81,720.01 L1287.76,719.68 L1287.72,719.34 L1287.7,719.01 L1287.7,718.67 L1287.76,718.34 L1287.87,718 L1288.03,717.67 L1288.24,717.33 L1288.47,717 L1288.69,716.66 L1288.9,716.33 L1289.04,715.99 L1289.1,715.65 L1289.1,715.65 Z" fill="#00afbb"/>
</g>
<g stroke="#000" stroke-width="1.6">
<line x1="899.8" x2="899.8" y1="763.24" y2="726.51"/>
<line x1="905.2" x2="905.2" y1="734.85" y2="706.26"/>
<line x1="921.3" x2="921.3" y1="685.39" y2="670.78"/>
<line x1="926.7" x2="926.7" y1="672.87" y2="662.44"/>
<line x1="942.8" x2="942.8" y1="681.22" y2="660.35"/>
<line x1="948.2" x2="948.2" y1="656.18" y2="643.65"/>
<line x1="964.3" x2="964.3" y1="712.52" y2="698.96"/>
<line x1="969.7" x2="969.7" y1="693.74" y2="685.39"/>
<line x1="985.8" x2="985.8" y1="659.31" y2="655.13"/>
<line x1="991.2" x2="991.2" y1="656.18" y2="650.96"/>
<line x1="1007.3" x2="1007.3" y1="663.48" y2="658.89"/>
<line x1="1012.7" x2="1012.7" y1="660.35" y2="656.18"/>
<line x1="1028.8" x2="1028.8" y1="745.92" y2="731.31"/>
<line x1="1034.2" x2="1034.2" y1="730.26" y2="722.96"/>
<line x1="1050.3" x2="1050.3" y1="672.87" y2="663.48"/>
<line x1="1055.7" x2="1055.7" y1="658.26" y2="652"/>
<line x1="1071.8" x2="1071.8" y1="740.7" y2="712.52"/>
<line x1="1077.2" x2="1077.2" y1="708.35" y2="690.61"/>
<line x1="1093.3" x2="1093.3" y1="668.7" y2="662.44"/>
<line x1="1098.7" x2="1098.7" y1="658.26" y2="653.04"/>
<line x1="1114.8" x2="1114.8" y1="668.7" y2="643.65"/>
<line x1="1120.2" x2="1120.2" y1="630.09" y2="618.61"/>
<line x1="1136.3" x2="1136.3" y1="708.35" y2="688.52"/>
<line x1="1141.7" x2="1141.7" y1="673.91" y2="663.48"/>
<line x1="1157.8" x2="1157.8" y1="715.65" y2="692.7"/>
<line x1="1163.2" x2="1163.2" y1="692.7" y2="673.91"/>
<line x1="1179.3" x2="1179.3" y1="648.87" y2="642.61"/>
<line x1="1184.7" x2="1184.7" y1="637.39" y2="632.8"/>
<line x1="1200.8" x2="1200.8" y1="706.26" y2="695.83"/>
<line x1="1206.2" x2="1206.2" y1="690.61" y2="683.31"/>
<line x1="1222.3" x2="1222.3" y1="667.65" y2="660.35"/>
<line x1="1227.7" x2="1227.7" y1="655.13" y2="652"/>
<line x1="1243.8" x2="1243.8" y1="781.4" y2="758.44"/>
<line x1="1249.2" x2="1249.2" y1="755.31" y2="738.61"/>
<line x1="1265.3" x2="1265.3" y1="655.13" y2="650.54"/>
<line x1="1270.7" x2="1270.7" y1="649.91" y2="645.74"/>
<line x1="1286.8" x2="1286.8" y1="685.39" y2="664.52"/>
<line x1="1292.2" x2="1292.2" y1="653.04" y2="644.7"/>
<line x1="1308.3" x2="1308.3" y1="681.22" y2="671.83"/>
<line x1="1313.7" x2="1313.7" y1="664.52" y2="657.22"/>
<line x1="1329.8" x2="1329.8" y1="691.65" y2="682.26"/>
<line x1="1335.2" x2="1335.2" y1="677.05" y2="669.74"/>
<line x1="1351.3" x2="1351.3" y1="740.7" y2="733.39"/>
<line x1="1356.7" x2="1356.7" y1="730.26" y2="724"/>
<line x1="1372.8" x2="1372.8" y1="679.13" y2="674.96"/>
<line x1="1378.2" x2="1378.2" y1="676" y2="671.83"/>
</g><g fill="#000">
<circle cx="899.8" cy="744.66" r="3.1"/>
<circle cx="905.2" cy="720.45" r="3.1"/>
<circle cx="921.3" cy="678.3" r="3.1"/>
<circle cx="926.7" cy="667.65" r="3.1"/>
<circle cx="942.8" cy="671.41" r="3.1"/>
<circle cx="948.2" cy="649.29" r="3.1"/>
<circle cx="964.3" cy="706.26" r="3.1"/>
<circle cx="969.7" cy="689.57" r="3.1"/>
<circle cx="985.8" cy="657.22" r="3.1"/>
<circle cx="991.2" cy="653.67" r="3.1"/>
<circle cx="1007.3" cy="661.18" r="3.1"/>
<circle cx="1012.7" cy="658.26" r="3.1"/>
<circle cx="1028.8" cy="738.4" r="3.1"/>
<circle cx="1034.2" cy="726.51" r="3.1"/>
<circle cx="1050.3" cy="668.28" r="3.1"/>
<circle cx="1055.7" cy="655.34" r="3.1"/>
<circle cx="1071.8" cy="726.92" r="3.1"/>
<circle cx="1077.2" cy="699.79" r="3.1"/>
<circle cx="1093.3" cy="665.57" r="3.1"/>
<circle cx="1098.7" cy="655.97" r="3.1"/>
<circle cx="1114.8" cy="656.38" r="3.1"/>
<circle cx="1120.2" cy="624.45" r="3.1"/>
<circle cx="1136.3" cy="698.54" r="3.1"/>
<circle cx="1141.7" cy="669.11" r="3.1"/>
<circle cx="1157.8" cy="704.59" r="3.1"/>
<circle cx="1163.2" cy="683.72" r="3.1"/>
<circle cx="1179.3" cy="645.95" r="3.1"/>
<circle cx="1184.7" cy="635.1" r="3.1"/>
<circle cx="1200.8" cy="701.25" r="3.1"/>
<circle cx="1206.2" cy="687.27" r="3.1"/>
<circle cx="1222.3" cy="664.31" r="3.1"/>
<circle cx="1227.7" cy="653.67" r="3.1"/>
<circle cx="1243.8" cy="769.92" r="3.1"/>
<circle cx="1249.2" cy="747.17" r="3.1"/>
<circle cx="1265.3" cy="652.84" r="3.1"/>
<circle cx="1270.7" cy="648.04" r="3.1"/>
<circle cx="1286.8" cy="674.75" r="3.1"/>
<circle cx="1292.2" cy="648.87" r="3.1"/>
<circle cx="1308.3" cy="676.84" r="3.1"/>
<circle cx="1313.7" cy="660.77" r="3.1"/>
<circle cx="1329.8" cy="687.27" r="3.1"/>
<circle cx="1335.2" cy="673.5" r="3.1"/>
<circle cx="1351.3" cy="736.94" r="3.1"/>
<circle cx="1356.7" cy="727.34" r="3.1"/>
<circle cx="1372.8" cy="676.84" r="3.1"/>
<circle cx="1378.2" cy="673.91" r="3.1"/>
</g>
<g font-family="'Liberation Sans', Arial, sans-serif" font-weight="bold" font-size="15.5" fill="#111" text-anchor="middle">
<text x="902.8" y="599.2" letter-spacing="-0.1">*</text>
<text x="924.3" y="599.2" letter-spacing="-0.1">**</text>
<text x="945.8" y="599.2" letter-spacing="-0.1">***</text>
<text x="967.3" y="599.2" letter-spacing="-0.1">***</text>
<rect x="987.8" y="597.6" width="1.4" height="1.4" fill="#222"/>
<rect x="1009.3" y="597.6" width="1.4" height="1.4" fill="#222"/>
<text x="1031.8" y="599.2" letter-spacing="-0.1">*</text>
<text x="1053.3" y="599.2" letter-spacing="-0.1">***</text>
<text x="1074.8" y="599.2" letter-spacing="-0.1">**</text>
<text x="1096.3" y="599.2" letter-spacing="-0.1">***</text>
<text x="1117.8" y="599.2" letter-spacing="-0.1">***</text>
<text x="1139.3" y="599.2" letter-spacing="-0.1">***</text>
<text x="1160.8" y="599.2" letter-spacing="-0.1">**</text>
<text x="1182.3" y="599.2" letter-spacing="-0.1">***</text>
<text x="1203.8" y="599.2" letter-spacing="-0.1">***</text>
<text x="1225.3" y="599.2" letter-spacing="-0.1">***</text>
<text x="1246.8" y="599.2" letter-spacing="-0.1">***</text>
<text x="1268.3" y="599.2" letter-spacing="-0.1">**</text>
<text x="1289.8" y="599.2" letter-spacing="-0.1">***</text>
<text x="1311.3" y="599.2" letter-spacing="-0.1">***</text>
<text x="1332.8" y="599.2" letter-spacing="-0.1">***</text>
<text x="1354.3" y="599.2" letter-spacing="-0.1">**</text>
<rect x="1372" y="593" width="7" height="1.4" fill="#222"/>
</g>
<rect x="890.5" y="583.1" width="496.8" height="240.3" fill="none" stroke="#333" stroke-width="1.1"/>
<g stroke="#333" stroke-width="1.1">
<line x1="886.3" x2="890.5" y1="812.7" y2="812.7"/>
<line x1="886.3" x2="890.5" y1="760.53" y2="760.53"/>
<line x1="886.3" x2="890.5" y1="708.35" y2="708.35"/>
<line x1="886.3" x2="890.5" y1="656.18" y2="656.18"/>
<line x1="886.3" x2="890.5" y1="604" y2="604"/>
<line x1="902.5" x2="902.5" y1="823.4" y2="827.7"/>
<line x1="924" x2="924" y1="823.4" y2="827.7"/>
<line x1="945.5" x2="945.5" y1="823.4" y2="827.7"/>
<line x1="967" x2="967" y1="823.4" y2="827.7"/>
<line x1="988.5" x2="988.5" y1="823.4" y2="827.7"/>
<line x1="1010" x2="1010" y1="823.4" y2="827.7"/>
<line x1="1031.5" x2="1031.5" y1="823.4" y2="827.7"/>
<line x1="1053" x2="1053" y1="823.4" y2="827.7"/>
<line x1="1074.5" x2="1074.5" y1="823.4" y2="827.7"/>
<line x1="1096" x2="1096" y1="823.4" y2="827.7"/>
<line x1="1117.5" x2="1117.5" y1="823.4" y2="827.7"/>
<line x1="1139" x2="1139" y1="823.4" y2="827.7"/>
<line x1="1160.5" x2="1160.5" y1="823.4" y2="827.7"/>
<line x1="1182" x2="1182" y1="823.4" y2="827.7"/>
<line x1="1203.5" x2="1203.5" y1="823.4" y2="827.7"/>
<line x1="1225" x2="1225" y1="823.4" y2="827.7"/>
<line x1="1246.5" x2="1246.5" y1="823.4" y2="827.7"/>
<line x1="1268" x2="1268" y1="823.4" y2="827.7"/>
<line x1="1289.5" x2="1289.5" y1="823.4" y2="827.7"/>
<line x1="1311" x2="1311" y1="823.4" y2="827.7"/>
<line x1="1332.5" x2="1332.5" y1="823.4" y2="827.7"/>
<line x1="1354" x2="1354" y1="823.4" y2="827.7"/>
<line x1="1375.5" x2="1375.5" y1="823.4" y2="827.7"/>
</g>
<g font-family="'Liberation Serif', 'Times New Roman', serif" font-size="12.6" fill="#4d4d4d" text-anchor="end">
<text x="882.4" y="816.9">0.00</text>
<text x="882.4" y="764.73">0.25</text>
<text x="882.4" y="712.55">0.50</text>
<text x="882.4" y="660.38">0.75</text>
<text x="882.4" y="608.2">1.00</text>
</g>
<g font-family="'Liberation Serif', 'Times New Roman', serif" font-size="13" fill="#111" text-anchor="end">
<text transform="translate(908.1,836.9) rotate(-45)">Activated.B.cellna</text>
<text transform="translate(929.6,836.9) rotate(-45)">Activated.CD4.T.cellna</text>
<text transform="translate(951.1,836.9) rotate(-45)">Activated.CD8.T.cellna</text>
<text transform="translate(972.6,836.9) rotate(-45)">Activated.dendritic.cellna</text>
<text transform="translate(994.1,836.9) rotate(-45)">CD56bright.natural.killer.cellna</text>
<text transform="translate(1015.6,836.9) rotate(-45)">CD56dim.natural.killer.cellna</text>
<text transform="translate(1037.1,836.9) rotate(-45)">Eosinophilna</text>
<text transform="translate(1058.6,836.9) rotate(-45)">Gamma.delta.T.cellna</text>
<text transform="translate(1080.1,836.9) rotate(-45)">Immature..B.cellna</text>
<text transform="translate(1101.6,836.9) rotate(-45)">Immature.dendritic.cellna</text>
<text transform="translate(1123.1,836.9) rotate(-45)">MDSCna</text>
<text transform="translate(1144.6,836.9) rotate(-45)">Macrophagena</text>
<text transform="translate(1166.1,836.9) rotate(-45)">Mast.cellna</text>
<text transform="translate(1187.6,836.9) rotate(-45)">Monocytena</text>
<text transform="translate(1209.1,836.9) rotate(-45)">Natural.killer.T.cellna</text>
<text transform="translate(1230.6,836.9) rotate(-45)">Natural.killer.cellna</text>
<text transform="translate(1252.1,836.9) rotate(-45)">Neutrophilna</text>
<text transform="translate(1273.6,836.9) rotate(-45)">Plasmacytoid.dendritic.cellna</text>
<text transform="translate(1295.1,836.9) rotate(-45)">Regulatory.T.cellna</text>
<text transform="translate(1316.6,836.9) rotate(-45)">T.follicular.helper.cellna</text>
<text transform="translate(1338.1,836.9) rotate(-45)">Type.1.T.helper.cellna</text>
<text transform="translate(1359.6,836.9) rotate(-45)">Type.17.T.helper.cellna</text>
<text transform="translate(1381.1,836.9) rotate(-45)">Type.2.T.helper.cellna</text>
</g>
<text transform="translate(851.5,703) rotate(-90)" font-family="'Liberation Serif', 'Times New Roman', serif" font-size="14.8" fill="#111" text-anchor="middle">value</text>
<text x="1412.3" y="680.9" font-family="'Liberation Serif', 'Times New Roman', serif" font-size="16.4" fill="#111">Group</text>
<rect x="1414.1" y="691.8" width="21.9" height="20.1" fill="#00afbb"/>
<rect x="1414.1" y="716" width="21.9" height="20.1" fill="#e7b800"/>
<circle cx="1424.9" cy="702" r="3.1" fill="#000"/><circle cx="1424.9" cy="726" r="3.1" fill="#000"/>
<text x="1446.3" y="706.2" font-family="'Liberation Serif', 'Times New Roman', serif" font-size="13.3" fill="#111">C1</text>
<text x="1446.3" y="730.4" font-family="'Liberation Serif', 'Times New Roman', serif" font-size="13.3" fill="#111">C2</text>
<text x="1468.3" y="596" font-family="'Liberation Serif', 'Times New Roman', serif" font-weight="bold" font-size="40.5">(d)</text>
<g stroke="#ededed" fill="none">
<line x1="1576.4" x2="1943.4" y1="830.62" y2="830.62" stroke-width="0.6"/>
<line x1="1576.4" x2="1943.4" y1="769.08" y2="769.08" stroke-width="0.6"/>
<line x1="1576.4" x2="1943.4" y1="707.52" y2="707.52" stroke-width="0.6"/>
<line x1="1576.4" x2="1943.4" y1="645.98" y2="645.98" stroke-width="0.6"/>
<line x1="1576.4" x2="1943.4" y1="861.4" y2="861.4" stroke-width="1.1"/>
<line x1="1576.4" x2="1943.4" y1="799.85" y2="799.85" stroke-width="1.1"/>
<line x1="1576.4" x2="1943.4" y1="738.3" y2="738.3" stroke-width="1.1"/>
<line x1="1576.4" x2="1943.4" y1="676.75" y2="676.75" stroke-width="1.1"/>
<line x1="1576.4" x2="1943.4" y1="615.2" y2="615.2" stroke-width="1.1"/>
<line x1="1645.1" x2="1645.1" y1="582.8" y2="874.2" stroke-width="1.0"/>
<line x1="1759.6" x2="1759.6" y1="582.8" y2="874.2" stroke-width="1.0"/>
<line x1="1874.1" x2="1874.1" y1="582.8" y2="874.2" stroke-width="1.0"/>
</g>
<path d="M1644.52,730.59 C1642.41,731.26 1636.02,732.91 1631.84,734.61 C1627.67,736.31 1624.11,738.73 1619.47,740.79 C1614.84,742.85 1608.14,745.17 1604.01,746.98 C1599.89,748.78 1595.51,750.07 1594.74,751.61 C1593.96,753.16 1597.31,754.71 1599.38,756.25 C1601.44,757.8 1605.04,758.73 1607.11,760.89 C1609.17,763.06 1609.42,766.4 1611.74,769.24 C1614.06,772.07 1617.41,775.17 1621.02,777.9 C1624.63,780.63 1630.14,783.05 1633.39,785.63 C1636.64,788.2 1638.85,790.78 1640.5,793.36 C1642.15,795.93 1642.61,799.03 1643.28,801.09 C1643.95,803.15 1644.31,804.95 1644.52,805.73 Z" fill="#00afbb"/>
<path d="M1646.38,735.53 C1647.56,735.79 1650.76,736.2 1653.49,737.08 C1656.22,737.96 1658.9,739.3 1662.76,740.79 C1666.63,742.29 1671.53,744.66 1676.68,746.05 C1681.83,747.44 1693.94,748.32 1693.69,749.14 C1693.43,749.96 1680.29,750.22 1675.13,751 C1669.98,751.77 1666.11,752.64 1662.76,753.78 C1659.41,754.91 1657.2,756.36 1655.03,757.8 C1652.87,759.24 1651.07,761.15 1649.78,762.44 C1648.49,763.73 1647.87,764.65 1647.3,765.53 C1646.74,766.4 1646.53,767.33 1646.38,767.69 Z" fill="#e7b800"/>
<path d="M1758.62,723.17 C1757.59,724.3 1753.98,727.8 1752.44,729.97 C1750.89,732.13 1749.71,733.83 1749.34,736.15 C1748.98,738.47 1751.3,741.82 1750.27,743.88 C1749.24,745.95 1747.44,746.98 1743.16,748.52 C1738.88,750.07 1729.76,751.61 1724.61,753.16 C1719.45,754.71 1714.82,756.25 1712.24,757.8 C1709.66,759.34 1708.63,760.89 1709.15,762.44 C1709.66,763.98 1711.21,765.79 1715.33,767.07 C1719.45,768.36 1729.25,768.98 1733.88,770.17 C1738.52,771.35 1741.2,772.38 1743.16,774.19 C1745.12,775.99 1745.38,778.93 1745.63,780.99 C1745.89,783.05 1744.19,784.49 1744.71,786.56 C1745.22,788.62 1746.92,791.09 1748.73,793.36 C1750.53,795.63 1753.88,798.36 1755.53,800.16 C1757.18,801.96 1758.11,803.51 1758.62,804.18 Z" fill="#00afbb"/>
<path d="M1760.48,719.15 C1762.23,719.92 1766.66,722.24 1770.99,723.78 C1775.32,725.33 1781.55,726.98 1786.45,728.42 C1791.35,729.87 1796.5,731.15 1800.36,732.44 C1804.23,733.73 1809.38,734.86 1809.64,736.15 C1809.9,737.44 1804.49,738.63 1801.91,740.17 C1799.33,741.72 1796.14,743.78 1794.18,745.43 C1792.22,747.08 1791.71,748.26 1790.16,750.07 C1788.61,751.87 1787.33,754.09 1784.9,756.25 C1782.48,758.42 1778.46,760.89 1775.63,763.06 C1772.79,765.22 1770.42,766.92 1767.9,769.24 C1765.37,771.56 1761.71,775.68 1760.48,776.97 Z" fill="#e7b800"/>
<path d="M1873.34,597.01 C1872,598.3 1868.44,601.9 1865.3,604.74 C1862.16,607.57 1858.34,610.41 1854.48,614.01 C1850.61,617.62 1846.23,622.26 1842.11,626.38 C1837.99,630.51 1832.73,635.14 1829.74,638.75 C1826.75,642.36 1825,644.94 1824.17,648.03 C1823.35,651.12 1823.61,653.95 1824.79,657.3 C1825.98,660.65 1828.5,664.42 1831.29,668.13 C1834.07,671.84 1838.24,675.7 1841.49,679.57 C1844.74,683.43 1847.83,687.3 1850.77,691.32 C1853.7,695.34 1856.69,699.56 1859.12,703.69 C1861.54,707.81 1863.6,711.93 1865.3,716.05 C1867,720.18 1868.24,724.3 1869.32,728.42 C1870.4,732.55 1871.12,736.67 1871.79,740.79 C1872.46,744.91 1873.08,751.1 1873.34,753.16 Z" fill="#00afbb"/>
<path d="M1875.19,597.01 C1876.64,598.04 1880.09,601.13 1883.85,603.19 C1887.61,605.25 1892.87,607.31 1897.77,609.38 C1902.66,611.44 1908.69,613.34 1913.23,615.56 C1917.76,617.78 1924.21,620.35 1924.98,622.67 C1925.75,624.99 1920.86,627.41 1917.87,629.47 C1914.88,631.54 1910.39,633.08 1907.04,635.04 C1903.69,637 1900.09,638.96 1897.77,641.22 C1895.45,643.49 1894.42,645.71 1893.13,648.65 C1891.84,651.58 1891.74,655.6 1890.04,658.85 C1888.34,662.1 1885.4,664.88 1882.93,668.13 C1880.45,671.37 1876.48,676.63 1875.19,678.33 Z" fill="#e7b800"/>
<g stroke="#000" stroke-width="1.3" fill="none">
<path d="M1630.92,755.02V767.07M1628.12,755.02h5.6M1628.12,767.07h5.6"/>
<path d="M1659.67,746.98V751.92M1656.87,746.98h5.6M1656.87,751.92h5.6"/>
<path d="M1745.32,755.63V771.71M1742.52,755.63h5.6M1742.52,771.71h5.6"/>
<path d="M1774.08,740.79V749.45M1771.28,740.79h5.6M1771.28,749.45h5.6"/>
<path d="M1860.04,649.88V676.78M1857.24,649.88h5.6M1857.24,676.78h5.6"/>
<path d="M1888.8,627V638.13M1886,627h5.6M1886,638.13h5.6"/>
</g><g fill="#000">
<ellipse cx="1630.92" cy="761.51" rx="2.5" ry="3.0"/>
<ellipse cx="1659.67" cy="749.45" rx="2.5" ry="3.0"/>
<ellipse cx="1745.32" cy="763.67" rx="2.5" ry="3.0"/>
<ellipse cx="1774.08" cy="745.43" rx="2.5" ry="3.0"/>
<ellipse cx="1860.04" cy="663.49" rx="2.5" ry="3.0"/>
<ellipse cx="1888.8" cy="632.88" rx="2.5" ry="3.0"/>
</g>
<rect x="1576.4" y="582.8" width="367" height="291.4" fill="none" stroke="#555" stroke-width="1.1"/>
<g stroke="#333" stroke-width="1.1">
<line x1="1573" x2="1576.4" y1="861.4" y2="861.4"/>
<line x1="1573" x2="1576.4" y1="799.85" y2="799.85"/>
<line x1="1573" x2="1576.4" y1="738.3" y2="738.3"/>
<line x1="1573" x2="1576.4" y1="676.75" y2="676.75"/>
<line x1="1573" x2="1576.4" y1="615.2" y2="615.2"/>
<line x1="1645.1" x2="1645.1" y1="874.2" y2="878.6"/>
<line x1="1759.6" x2="1759.6" y1="874.2" y2="878.6"/>
<line x1="1874.1" x2="1874.1" y1="874.2" y2="878.6"/>
</g>
<g font-family="'Liberation Serif', 'Times New Roman', serif" font-size="12.5" fill="#4d4d4d" text-anchor="end">
<text transform="translate(1571.2,865.7) scale(0.82,1)">0</text>
<text transform="translate(1571.2,804.15) scale(0.82,1)">10000</text>
<text transform="translate(1571.2,742.6) scale(0.82,1)">20000</text>
<text transform="translate(1571.2,681.05) scale(0.82,1)">30000</text>
<text transform="translate(1571.2,619.5) scale(0.82,1)">40000</text>
</g>
<g font-family="'Liberation Serif', 'Times New Roman', serif" font-size="12" fill="#111" text-anchor="middle">
<text transform="translate(1645.1,597.6) scale(0.82,1)" letter-spacing="0.4">***</text>
<text transform="translate(1759.6,597.6) scale(0.82,1)" letter-spacing="0.4">***</text>
<text transform="translate(1874.1,597.6) scale(0.82,1)" letter-spacing="0.4">***</text>
</g>
<g font-family="'Liberation Serif', 'Times New Roman', serif" font-size="13" fill="#111" text-anchor="end">
<text transform="translate(1649.7,887.6) scale(0.82,1) rotate(-45)">StromalScore</text>
<text transform="translate(1764.2,887.6) scale(0.82,1) rotate(-45)">ImmuneScore</text>
<text transform="translate(1878.7,887.6) scale(0.82,1) rotate(-45)">ESTIMATEScore</text>
</g>
<text transform="translate(1541.3,728.7) scale(0.82,1) rotate(-90)" font-family="'Liberation Serif', 'Times New Roman', serif" font-weight="bold" font-size="14.5" fill="#111" text-anchor="middle">value</text>
<text transform="translate(1961.4,705.8) scale(0.82,1)" font-family="'Liberation Serif', 'Times New Roman', serif" font-size="15.6" fill="#111">Group</text>
<rect x="1963.2" y="717.1" width="16.5" height="20.1" fill="#00afbb"/>
<rect x="1963.2" y="741.3" width="16.5" height="20.1" fill="#e7b800"/>
<ellipse cx="1971.4" cy="727.4" rx="2.4" ry="3" fill="#000"/><ellipse cx="1971.4" cy="751.6" rx="2.4" ry="3" fill="#000"/>
<text transform="translate(1987.2,731.5) scale(0.82,1)" font-family="'Liberation Serif', 'Times New Roman', serif" font-size="13.3" fill="#111">C1</text>
<text transform="translate(1987.2,755.8) scale(0.82,1)" font-family="'Liberation Serif', 'Times New Roman', serif" font-size="13.3" fill="#111">C2</text>
</svg></body></html>
